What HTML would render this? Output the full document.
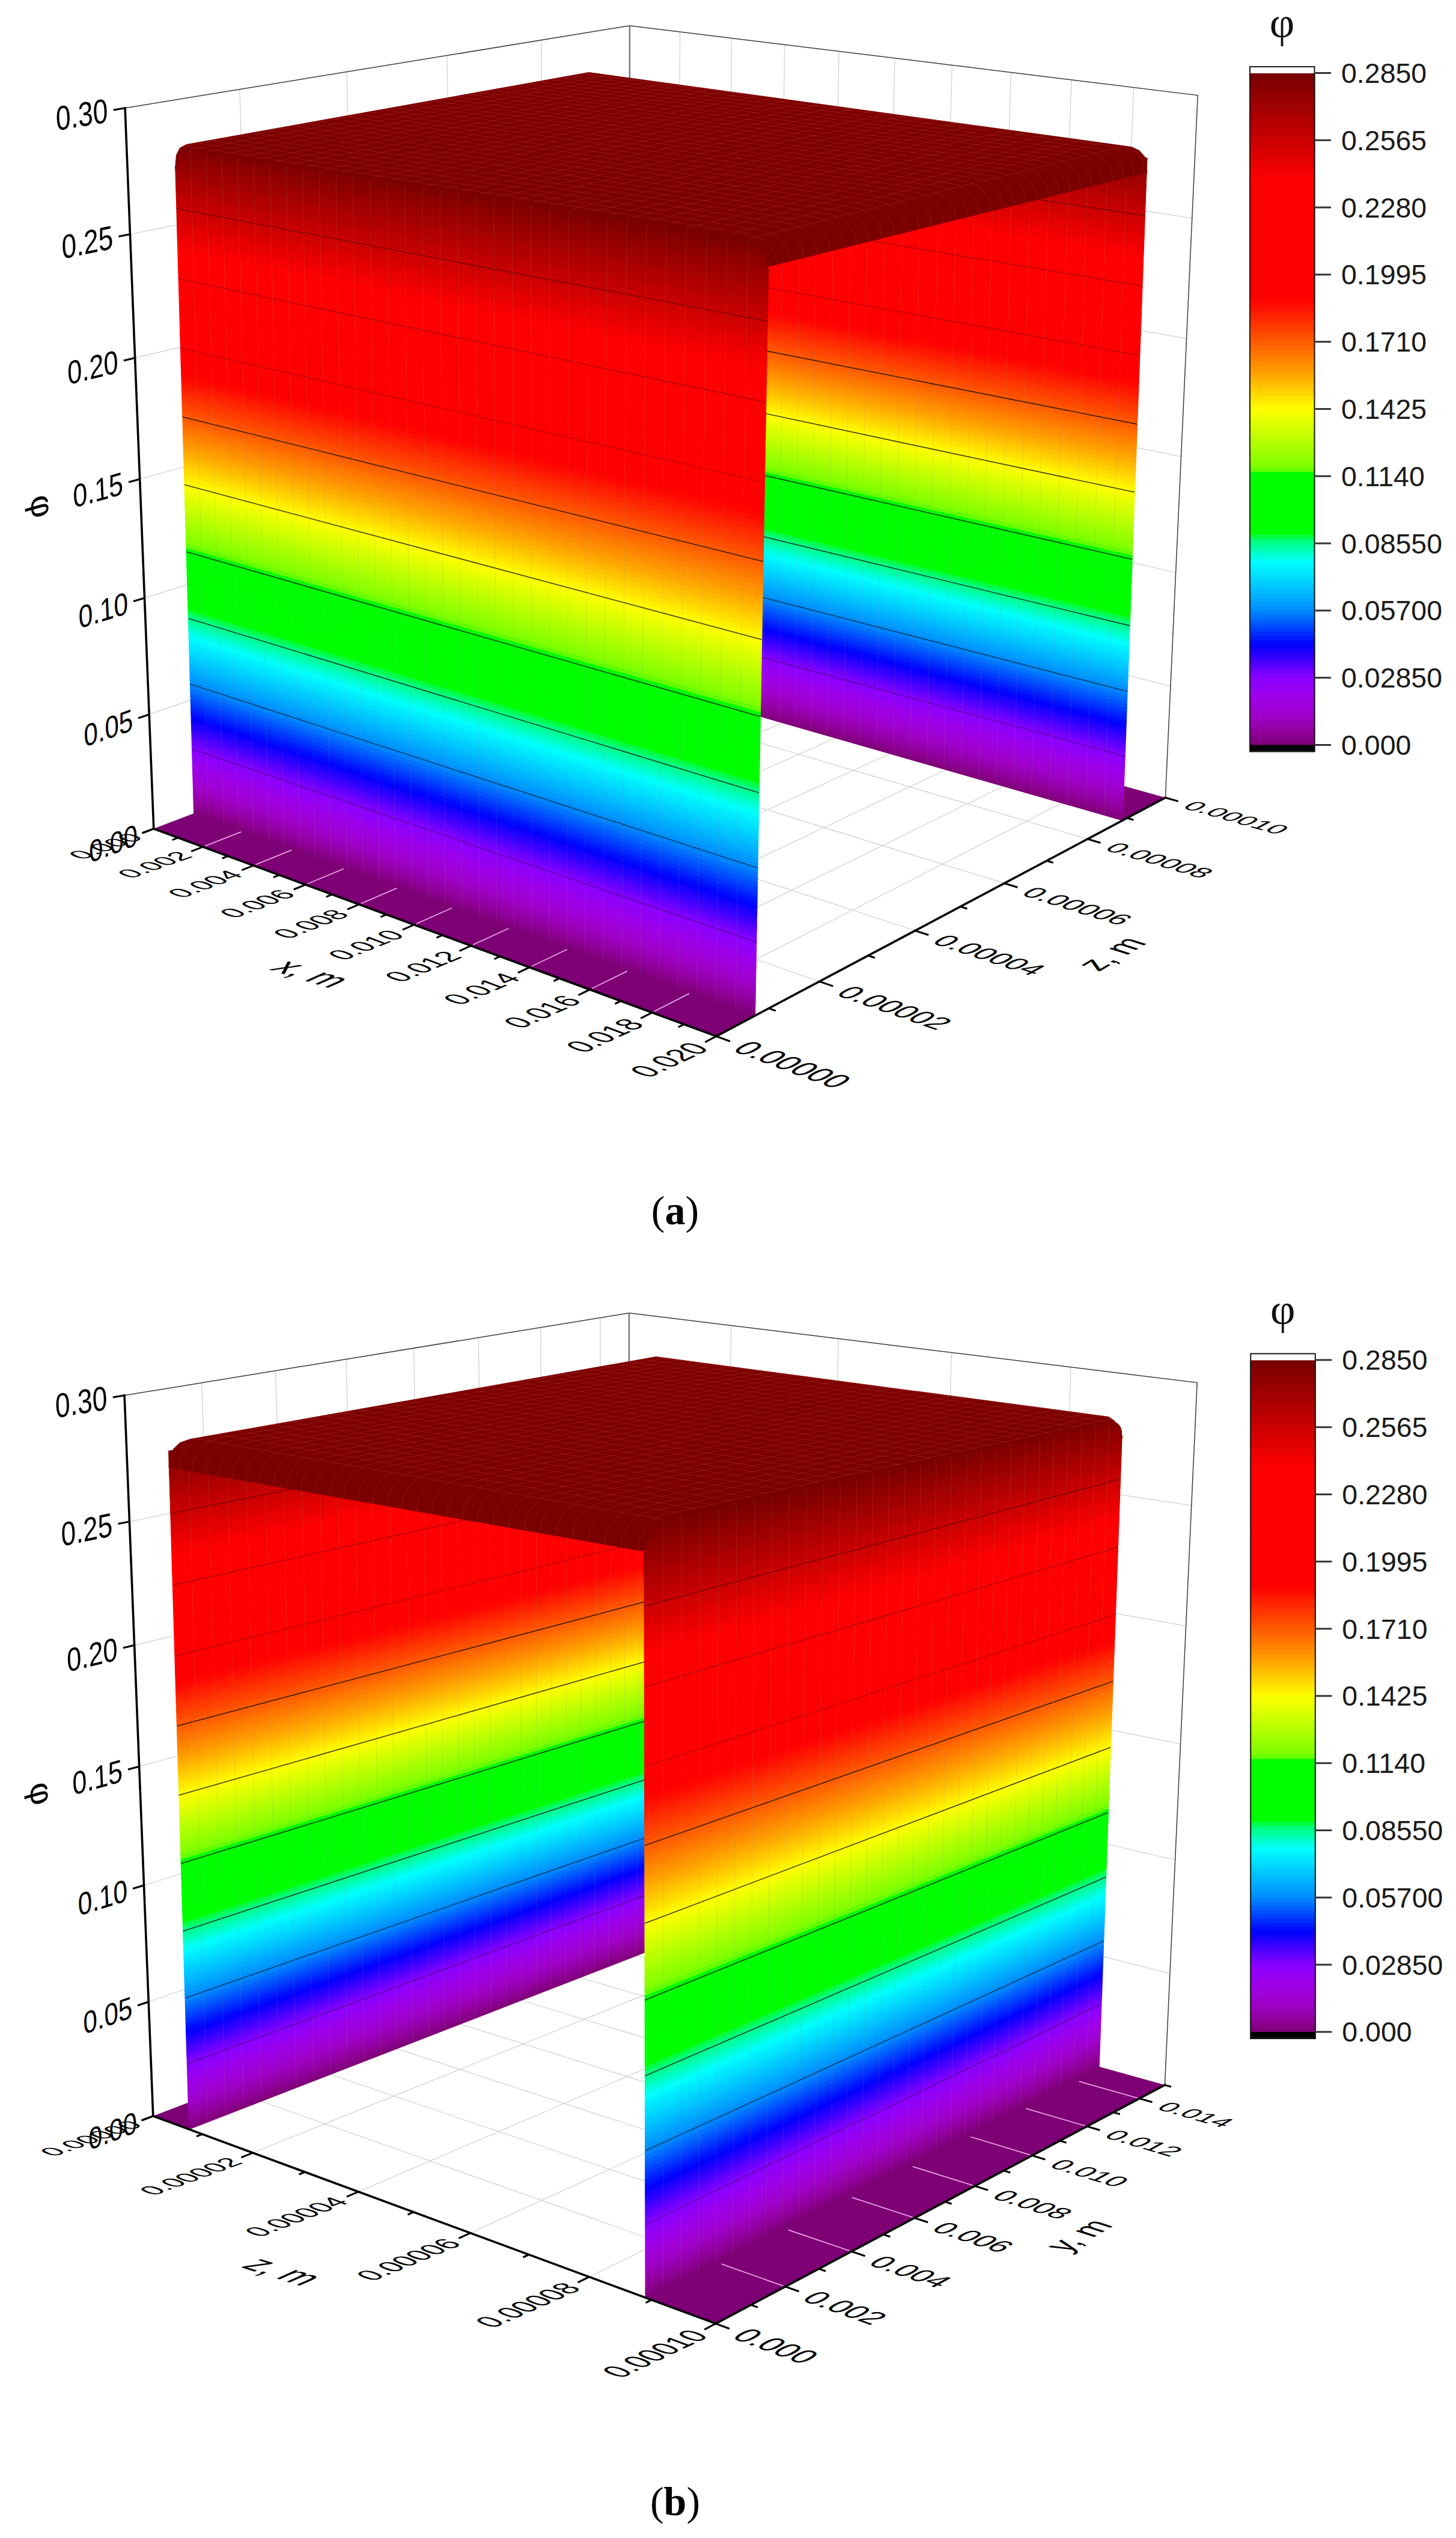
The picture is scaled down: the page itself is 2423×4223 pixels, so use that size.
<!DOCTYPE html>
<html><head><meta charset="utf-8"><title>Figure</title>
<style>html,body{margin:0;padding:0;background:#fff}svg{display:block}text{font-family:"Liberation Sans",Arial,sans-serif}text.sf{font-family:"Liberation Serif","DejaVu Serif",serif}</style>
</head><body>
<svg width="2423" height="4223" viewBox="0 0 2423 4223">
<rect width="2423" height="4223" fill="#fff"/>
<g id="plotA">
<line x1="248.2" y1="1188.7" x2="1047.3" y2="912.8" stroke="#d2d2d2" stroke-width="1.3"/>
<line x1="1047.3" y1="912.8" x2="1947.9" y2="1141.7" stroke="#d2d2d2" stroke-width="1.3"/>
<line x1="240.5" y1="994.9" x2="1047.4" y2="744.6" stroke="#d2d2d2" stroke-width="1.3"/>
<line x1="1047.4" y1="744.6" x2="1956.7" y2="952.6" stroke="#d2d2d2" stroke-width="1.3"/>
<line x1="232.7" y1="797.2" x2="1047.5" y2="573.6" stroke="#d2d2d2" stroke-width="1.3"/>
<line x1="1047.5" y1="573.6" x2="1965.5" y2="759.8" stroke="#d2d2d2" stroke-width="1.3"/>
<line x1="224.6" y1="595.5" x2="1047.7" y2="399.6" stroke="#d2d2d2" stroke-width="1.3"/>
<line x1="1047.7" y1="399.6" x2="1974.6" y2="563.3" stroke="#d2d2d2" stroke-width="1.3"/>
<line x1="216.5" y1="389.8" x2="1047.8" y2="222.7" stroke="#d2d2d2" stroke-width="1.3"/>
<line x1="1047.8" y1="222.7" x2="1983.8" y2="362.9" stroke="#d2d2d2" stroke-width="1.3"/>
<line x1="434.4" y1="1311" x2="398.9" y2="148.7" stroke="#d2d2d2" stroke-width="1.3"/>
<line x1="434.4" y1="1311" x2="1363.7" y2="1633.1" stroke="#d2d2d2" stroke-width="1.3"/>
<line x1="601.9" y1="1247.4" x2="577.1" y2="119.6" stroke="#d2d2d2" stroke-width="1.3"/>
<line x1="601.9" y1="1247.4" x2="1523" y2="1548.5" stroke="#d2d2d2" stroke-width="1.3"/>
<line x1="759.3" y1="1187.6" x2="744" y2="92.3" stroke="#d2d2d2" stroke-width="1.3"/>
<line x1="759.3" y1="1187.6" x2="1671.4" y2="1469.7" stroke="#d2d2d2" stroke-width="1.3"/>
<line x1="907.5" y1="1131.3" x2="900.6" y2="66.7" stroke="#d2d2d2" stroke-width="1.3"/>
<line x1="907.5" y1="1131.3" x2="1809.9" y2="1396.1" stroke="#d2d2d2" stroke-width="1.3"/>
<line x1="1126.8" y1="1100.4" x2="1131.6" y2="52.9" stroke="#d2d2d2" stroke-width="1.3"/>
<line x1="337.6" y1="1409.1" x2="1126.8" y2="1100.4" stroke="#d2d2d2" stroke-width="1.3"/>
<line x1="1208.3" y1="1123.2" x2="1217.5" y2="63.5" stroke="#d2d2d2" stroke-width="1.3"/>
<line x1="421.7" y1="1440.1" x2="1208.3" y2="1123.2" stroke="#d2d2d2" stroke-width="1.3"/>
<line x1="1291.8" y1="1146.5" x2="1305.7" y2="74.3" stroke="#d2d2d2" stroke-width="1.3"/>
<line x1="508.3" y1="1472" x2="1291.8" y2="1146.5" stroke="#d2d2d2" stroke-width="1.3"/>
<line x1="1377.4" y1="1170.4" x2="1396.1" y2="85.4" stroke="#d2d2d2" stroke-width="1.3"/>
<line x1="597.4" y1="1504.9" x2="1377.4" y2="1170.4" stroke="#d2d2d2" stroke-width="1.3"/>
<line x1="1465.1" y1="1194.9" x2="1489" y2="96.8" stroke="#d2d2d2" stroke-width="1.3"/>
<line x1="689.1" y1="1538.7" x2="1465.1" y2="1194.9" stroke="#d2d2d2" stroke-width="1.3"/>
<line x1="1555.1" y1="1220" x2="1584.4" y2="108.5" stroke="#d2d2d2" stroke-width="1.3"/>
<line x1="783.6" y1="1573.6" x2="1555.1" y2="1220" stroke="#d2d2d2" stroke-width="1.3"/>
<line x1="1647.5" y1="1245.8" x2="1682.4" y2="120.5" stroke="#d2d2d2" stroke-width="1.3"/>
<line x1="881" y1="1609.5" x2="1647.5" y2="1245.8" stroke="#d2d2d2" stroke-width="1.3"/>
<line x1="1742.2" y1="1272.3" x2="1783.1" y2="132.8" stroke="#d2d2d2" stroke-width="1.3"/>
<line x1="981.5" y1="1646.5" x2="1742.2" y2="1272.3" stroke="#d2d2d2" stroke-width="1.3"/>
<line x1="1839.5" y1="1299.4" x2="1886.7" y2="145.5" stroke="#d2d2d2" stroke-width="1.3"/>
<line x1="1085.1" y1="1684.8" x2="1839.5" y2="1299.4" stroke="#d2d2d2" stroke-width="1.3"/>
<line x1="255.8" y1="1378.9" x2="1047.2" y2="1078.2" stroke="#d2d2d2" stroke-width="1.3"/>
<line x1="1047.2" y1="1078.2" x2="1939.4" y2="1327.3" stroke="#d2d2d2" stroke-width="1.3"/>
<polyline points="208.1,179.8 1047.9,42.7 1993.2,158.6 1939.4,1327.3" fill="none" stroke="#3c3c3c" stroke-width="1.5"/>
<line x1="1047.9" y1="42.7" x2="1047.2" y2="1078.2" stroke="#777" stroke-width="2.4"/>
<polygon points="255.8,1378.9 1192.1,1724.2 1256.6,1690 322.7,1353.5" fill="#7d0074"/>
<polygon points="970.3,1107.4 1868.2,1365.1 1939.4,1327.3 1047.2,1078.2" fill="#7d0074"/>
<line x1="341.3" y1="1407.6" x2="401.4" y2="1384.1" stroke="#e6a0e0" stroke-width="1.8"/>
<line x1="425.4" y1="1438.6" x2="485.4" y2="1414.4" stroke="#e6a0e0" stroke-width="1.8"/>
<line x1="511.9" y1="1470.5" x2="571.8" y2="1445.6" stroke="#e6a0e0" stroke-width="1.8"/>
<line x1="601" y1="1503.3" x2="660.8" y2="1477.7" stroke="#e6a0e0" stroke-width="1.8"/>
<line x1="692.8" y1="1537.1" x2="752.3" y2="1510.7" stroke="#e6a0e0" stroke-width="1.8"/>
<line x1="787.3" y1="1571.9" x2="846.6" y2="1544.7" stroke="#e6a0e0" stroke-width="1.8"/>
<line x1="884.7" y1="1607.8" x2="943.7" y2="1579.8" stroke="#e6a0e0" stroke-width="1.8"/>
<line x1="985.1" y1="1644.8" x2="1043.8" y2="1615.9" stroke="#e6a0e0" stroke-width="1.8"/>
<line x1="1088.7" y1="1682.9" x2="1147.1" y2="1653.1" stroke="#e6a0e0" stroke-width="1.8"/>
<g stroke-width="1.2" stroke-linejoin="round"><polygon points="970.3,1107.4 1868.2,1365.1 1868.5,1358.5 970.2,1101.5" fill="#81007b" stroke="#81007b"/><polygon points="970.2,1101.5 1868.5,1358.5 1868.7,1351.8 970.2,1095.6" fill="#880089" stroke="#880089"/><polygon points="970.2,1095.6 1868.7,1351.8 1869,1345.2 970.1,1089.7" fill="#8f0097" stroke="#8f0097"/><polygon points="970.1,1089.7 1869,1345.2 1869.2,1338.5 970.1,1083.8" fill="#9400a3" stroke="#9400a3"/><polygon points="970.1,1083.8 1869.2,1338.5 1869.5,1331.9 970,1077.8" fill="#9700ae" stroke="#9700ae"/><polygon points="970,1077.8 1869.5,1331.9 1869.7,1325.2 969.9,1071.9" fill="#9b00ba" stroke="#9b00ba"/><polygon points="969.9,1071.9 1869.7,1325.2 1869.9,1318.6 969.9,1066" fill="#9f00c5" stroke="#9f00c5"/><polygon points="969.9,1066 1869.9,1318.6 1870.2,1311.9 969.8,1060" fill="#a000cd" stroke="#a000cd"/><polygon points="969.8,1060 1870.2,1311.9 1870.4,1305.2 969.8,1054.1" fill="#9f00d5" stroke="#9f00d5"/><polygon points="969.8,1054.1 1870.4,1305.2 1870.7,1298.5 969.7,1048.1" fill="#9f00dc" stroke="#9f00dc"/><polygon points="969.7,1048.1 1870.7,1298.5 1870.9,1291.8 969.6,1042.2" fill="#9e00e3" stroke="#9e00e3"/><polygon points="969.6,1042.2 1870.9,1291.8 1871.2,1285.2 969.6,1036.2" fill="#9d00e9" stroke="#9d00e9"/><polygon points="969.6,1036.2 1871.2,1285.2 1871.4,1278.5 969.5,1030.3" fill="#9900ee" stroke="#9900ee"/><polygon points="969.5,1030.3 1871.4,1278.5 1871.7,1271.8 969.5,1024.3" fill="#9400f3" stroke="#9400f3"/><polygon points="969.5,1024.3 1871.7,1271.8 1871.9,1265.1 969.4,1018.3" fill="#9000f8" stroke="#9000f8"/><polygon points="969.4,1018.3 1871.9,1265.1 1872.2,1258.4 969.3,1012.4" fill="#8c00fd" stroke="#8c00fd"/><polygon points="969.3,1012.4 1872.2,1258.4 1872.4,1251.6 969.3,1006.4" fill="#8100ff" stroke="#8100ff"/><polygon points="969.3,1006.4 1872.4,1251.6 1872.7,1244.9 969.2,1000.4" fill="#6f00ff" stroke="#6f00ff"/><polygon points="969.2,1000.4 1872.7,1244.9 1872.9,1238.2 969.2,994.4" fill="#5e00ff" stroke="#5e00ff"/><polygon points="969.2,994.4 1872.9,1238.2 1873.2,1231.5 969.1,988.4" fill="#4c00ff" stroke="#4c00ff"/><polygon points="969.1,988.4 1873.2,1231.5 1873.4,1224.7 969,982.5" fill="#3a00ff" stroke="#3a00ff"/><polygon points="969,982.5 1873.4,1224.7 1873.7,1218 969,976.5" fill="#2900ff" stroke="#2900ff"/><polygon points="969,976.5 1873.7,1218 1873.9,1211.3 968.9,970.5" fill="#1700ff" stroke="#1700ff"/><polygon points="968.9,970.5 1873.9,1211.3 1874.2,1204.5 968.8,964.5" fill="#0500ff" stroke="#0500ff"/><polygon points="968.8,964.5 1874.2,1204.5 1874.4,1197.8 968.8,958.5" fill="#000cff" stroke="#000cff"/><polygon points="968.8,958.5 1874.4,1197.8 1874.6,1191 968.7,952.5" fill="#001dff" stroke="#001dff"/><polygon points="968.7,952.5 1874.6,1191 1874.9,1184.2 968.7,946.4" fill="#002eff" stroke="#002eff"/><polygon points="968.7,946.4 1874.9,1184.2 1875.1,1177.5 968.6,940.4" fill="#003fff" stroke="#003fff"/><polygon points="968.6,940.4 1875.1,1177.5 1875.4,1170.7 968.5,934.4" fill="#0050ff" stroke="#0050ff"/><polygon points="968.5,934.4 1875.4,1170.7 1875.6,1163.9 968.5,928.4" fill="#0061ff" stroke="#0061ff"/><polygon points="968.5,928.4 1875.6,1163.9 1875.9,1157.1 968.4,922.4" fill="#0072ff" stroke="#0072ff"/><polygon points="968.4,922.4 1875.9,1157.1 1876.1,1150.4 968.4,916.3" fill="#0083ff" stroke="#0083ff"/><polygon points="968.4,916.3 1876.1,1150.4 1876.4,1143.6 968.3,910.3" fill="#0091ff" stroke="#0091ff"/><polygon points="968.3,910.3 1876.4,1143.6 1876.6,1136.8 968.2,904.3" fill="#009bff" stroke="#009bff"/><polygon points="968.2,904.3 1876.6,1136.8 1876.9,1130 968.2,898.2" fill="#00a5ff" stroke="#00a5ff"/><polygon points="968.2,898.2 1876.9,1130 1877.2,1123.2 968.1,892.2" fill="#00afff" stroke="#00afff"/><polygon points="968.1,892.2 1877.2,1123.2 1877.4,1116.4 968,886.1" fill="#00b9ff" stroke="#00b9ff"/><polygon points="968,886.1 1877.4,1116.4 1877.7,1109.6 968,880.1" fill="#00c3ff" stroke="#00c3ff"/><polygon points="968,880.1 1877.7,1109.6 1877.9,1102.7 967.9,874" fill="#00cdff" stroke="#00cdff"/><polygon points="967.9,874 1877.9,1102.7 1878.2,1095.9 967.9,868" fill="#00d7ff" stroke="#00d7ff"/><polygon points="967.9,868 1878.2,1095.9 1878.4,1089.1 967.8,861.9" fill="#00e1ff" stroke="#00e1ff"/><polygon points="967.8,861.9 1878.4,1089.1 1878.7,1082.2 967.7,855.8" fill="#00eaff" stroke="#00eaff"/><polygon points="967.7,855.8 1878.7,1082.2 1878.9,1075.4 967.7,849.8" fill="#00f4ff" stroke="#00f4ff"/><polygon points="967.7,849.8 1878.9,1075.4 1879.2,1068.6 967.6,843.7" fill="#00feff" stroke="#00feff"/><polygon points="967.6,843.7 1879.2,1068.6 1879.4,1061.7 967.5,837.6" fill="#00ffe7" stroke="#00ffe7"/><polygon points="967.5,837.6 1879.4,1061.7 1879.7,1054.9 967.5,831.5" fill="#00ffcd" stroke="#00ffcd"/><polygon points="967.5,831.5 1879.7,1054.9 1879.9,1048 967.4,825.4" fill="#00ffb2" stroke="#00ffb2"/><polygon points="967.4,825.4 1879.9,1048 1880.2,1041.1 967.4,819.3" fill="#00ff98" stroke="#00ff98"/><polygon points="967.4,819.3 1880.2,1041.1 1880.4,1034.3 967.3,813.2" fill="#00ff7e" stroke="#00ff7e"/><polygon points="967.3,813.2 1880.4,1034.3 1880.7,1027.4 967.2,807.1" fill="#00ff49" stroke="#00ff49"/><polygon points="967.2,807.1 1880.7,1027.4 1880.9,1020.5 967.2,801" fill="#00ff00" stroke="#00ff00"/><polygon points="967.2,801 1880.9,1020.5 1881.2,1013.7 967.1,794.9" fill="#00ff00" stroke="#00ff00"/><polygon points="967.1,794.9 1881.2,1013.7 1881.4,1006.8 967.1,788.8" fill="#00ff00" stroke="#00ff00"/><polygon points="967.1,788.8 1881.4,1006.8 1881.7,999.9 967,782.7" fill="#00ff00" stroke="#00ff00"/><polygon points="967,782.7 1881.7,999.9 1882,993 966.9,776.6" fill="#00ff00" stroke="#00ff00"/><polygon points="966.9,776.6 1882,993 1882.2,986.1 966.9,770.5" fill="#00ff00" stroke="#00ff00"/><polygon points="966.9,770.5 1882.2,986.1 1882.5,979.2 966.8,764.4" fill="#00ff00" stroke="#00ff00"/><polygon points="966.8,764.4 1882.5,979.2 1882.7,972.3 966.7,758.2" fill="#00ff00" stroke="#00ff00"/><polygon points="966.7,758.2 1882.7,972.3 1883,965.3 966.7,752.1" fill="#00ff00" stroke="#00ff00"/><polygon points="966.7,752.1 1883,965.3 1883.2,958.4 966.6,746" fill="#00ff00" stroke="#00ff00"/><polygon points="966.6,746 1883.2,958.4 1883.5,951.5 966.5,739.8" fill="#00ff00" stroke="#00ff00"/><polygon points="966.5,739.8 1883.5,951.5 1883.7,944.6 966.5,733.7" fill="#00ff00" stroke="#00ff00"/><polygon points="966.5,733.7 1883.7,944.6 1884,937.6 966.4,727.5" fill="#00ff00" stroke="#00ff00"/><polygon points="966.4,727.5 1884,937.6 1884.3,930.7 966.4,721.4" fill="#00ff00" stroke="#00ff00"/><polygon points="966.4,721.4 1884.3,930.7 1884.5,923.7 966.3,715.2" fill="#00ff00" stroke="#00ff00"/><polygon points="966.3,715.2 1884.5,923.7 1884.8,916.8 966.2,709.1" fill="#64ff00" stroke="#64ff00"/><polygon points="966.2,709.1 1884.8,916.8 1885,909.8 966.2,702.9" fill="#80ff00" stroke="#80ff00"/><polygon points="966.2,702.9 1885,909.8 1885.3,902.9 966.1,696.7" fill="#89ff00" stroke="#89ff00"/><polygon points="966.1,696.7 1885.3,902.9 1885.5,895.9 966,690.6" fill="#93ff00" stroke="#93ff00"/><polygon points="966,690.6 1885.5,895.9 1885.8,888.9 966,684.4" fill="#9cff00" stroke="#9cff00"/><polygon points="966,684.4 1885.8,888.9 1886.1,882 965.9,678.2" fill="#a5ff00" stroke="#a5ff00"/><polygon points="965.9,678.2 1886.1,882 1886.3,875 965.9,672" fill="#afff00" stroke="#afff00"/><polygon points="965.9,672 1886.3,875 1886.6,868 965.8,665.8" fill="#b8ff00" stroke="#b8ff00"/><polygon points="965.8,665.8 1886.6,868 1886.8,861 965.7,659.6" fill="#c2ff00" stroke="#c2ff00"/><polygon points="965.7,659.6 1886.8,861 1887.1,854 965.7,653.5" fill="#cbff00" stroke="#cbff00"/><polygon points="965.7,653.5 1887.1,854 1887.3,847 965.6,647.3" fill="#d5ff00" stroke="#d5ff00"/><polygon points="965.6,647.3 1887.3,847 1887.6,840 965.5,641.1" fill="#deff00" stroke="#deff00"/><polygon points="965.5,641.1 1887.6,840 1887.9,833 965.5,634.8" fill="#e7ff00" stroke="#e7ff00"/><polygon points="965.5,634.8 1887.9,833 1888.1,826 965.4,628.6" fill="#f1ff00" stroke="#f1ff00"/><polygon points="965.4,628.6 1888.1,826 1888.4,819 965.3,622.4" fill="#faff00" stroke="#faff00"/><polygon points="965.3,622.4 1888.4,819 1888.6,811.9 965.3,616.2" fill="#fff900" stroke="#fff900"/><polygon points="965.3,616.2 1888.6,811.9 1888.9,804.9 965.2,610" fill="#ffee00" stroke="#ffee00"/><polygon points="965.2,610 1888.9,804.9 1889.2,797.9 965.2,603.8" fill="#ffe300" stroke="#ffe300"/><polygon points="965.2,603.8 1889.2,797.9 1889.4,790.8 965.1,597.5" fill="#ffd800" stroke="#ffd800"/><polygon points="965.1,597.5 1889.4,790.8 1889.7,783.8 965,591.3" fill="#ffcd00" stroke="#ffcd00"/><polygon points="965,591.3 1889.7,783.8 1889.9,776.7 965,585.1" fill="#ffc200" stroke="#ffc200"/><polygon points="965,585.1 1889.9,776.7 1890.2,769.7 964.9,578.8" fill="#ffb700" stroke="#ffb700"/><polygon points="964.9,578.8 1890.2,769.7 1890.5,762.6 964.8,572.6" fill="#ffac00" stroke="#ffac00"/><polygon points="964.8,572.6 1890.5,762.6 1890.7,755.5 964.8,566.3" fill="#ffa200" stroke="#ffa200"/><polygon points="964.8,566.3 1890.7,755.5 1891,748.5 964.7,560.1" fill="#ff9800" stroke="#ff9800"/><polygon points="964.7,560.1 1891,748.5 1891.2,741.4 964.6,553.8" fill="#ff8e00" stroke="#ff8e00"/><polygon points="964.6,553.8 1891.2,741.4 1891.5,734.3 964.6,547.6" fill="#ff8500" stroke="#ff8500"/><polygon points="964.6,547.6 1891.5,734.3 1891.8,727.2 964.5,541.3" fill="#ff7b00" stroke="#ff7b00"/><polygon points="964.5,541.3 1891.8,727.2 1892,720.1 964.5,535" fill="#ff7200" stroke="#ff7200"/><polygon points="964.5,535 1892,720.1 1892.3,713 964.4,528.7" fill="#ff6800" stroke="#ff6800"/><polygon points="964.4,528.7 1892.3,713 1892.5,705.9 964.3,522.5" fill="#ff5f00" stroke="#ff5f00"/><polygon points="964.3,522.5 1892.5,705.9 1892.8,698.8 964.3,516.2" fill="#ff5600" stroke="#ff5600"/><polygon points="964.3,516.2 1892.8,698.8 1893.1,691.7 964.2,509.9" fill="#ff4d00" stroke="#ff4d00"/><polygon points="964.2,509.9 1893.1,691.7 1893.3,684.6 964.1,503.6" fill="#ff4400" stroke="#ff4400"/><polygon points="964.1,503.6 1893.3,684.6 1893.6,677.5 964.1,497.3" fill="#ff3b00" stroke="#ff3b00"/><polygon points="964.1,497.3 1893.6,677.5 1893.9,670.3 964,491" fill="#ff3200" stroke="#ff3200"/><polygon points="964,491 1893.9,670.3 1894.1,663.2 963.9,484.7" fill="#ff2900" stroke="#ff2900"/><polygon points="963.9,484.7 1894.1,663.2 1894.4,656.1 963.9,478.4" fill="#ff2000" stroke="#ff2000"/><polygon points="963.9,478.4 1894.4,656.1 1894.7,648.9 963.8,472.1" fill="#ff1700" stroke="#ff1700"/><polygon points="963.8,472.1 1894.7,648.9 1894.9,641.8 963.7,465.8" fill="#ff0e00" stroke="#ff0e00"/><polygon points="963.7,465.8 1894.9,641.8 1895.2,634.6 963.7,459.5" fill="#ff0500" stroke="#ff0500"/><polygon points="963.7,459.5 1895.2,634.6 1895.4,627.5 963.6,453.2" fill="#ff0000" stroke="#ff0000"/><polygon points="963.6,453.2 1895.4,627.5 1895.7,620.3 963.6,446.8" fill="#ff0000" stroke="#ff0000"/><polygon points="963.6,446.8 1895.7,620.3 1896,613.1 963.5,440.5" fill="#ff0000" stroke="#ff0000"/><polygon points="963.5,440.5 1896,613.1 1896.2,606 963.4,434.2" fill="#ff0000" stroke="#ff0000"/><polygon points="963.4,434.2 1896.2,606 1896.5,598.8 963.4,427.8" fill="#ff0000" stroke="#ff0000"/><polygon points="963.4,427.8 1896.5,598.8 1896.8,591.6 963.3,421.5" fill="#ff0000" stroke="#ff0000"/><polygon points="963.3,421.5 1896.8,591.6 1897,584.4 963.2,415.2" fill="#ff0000" stroke="#ff0000"/><polygon points="963.2,415.2 1897,584.4 1897.3,577.2 963.2,408.8" fill="#ff0000" stroke="#ff0000"/><polygon points="963.2,408.8 1897.3,577.2 1897.6,570 963.1,402.5" fill="#ff0000" stroke="#ff0000"/><polygon points="963.1,402.5 1897.6,570 1897.8,562.8 963,396.1" fill="#ff0000" stroke="#ff0000"/><polygon points="963,396.1 1897.8,562.8 1898.1,555.6 963,389.7" fill="#ff0000" stroke="#ff0000"/><polygon points="963,389.7 1898.1,555.6 1898.4,548.4 962.9,383.4" fill="#ff0000" stroke="#ff0000"/><polygon points="962.9,383.4 1898.4,548.4 1898.6,541.1 962.8,377" fill="#ff0000" stroke="#ff0000"/><polygon points="962.8,377 1898.6,541.1 1898.9,533.9 962.8,370.6" fill="#ff0000" stroke="#ff0000"/><polygon points="962.8,370.6 1898.9,533.9 1899.2,526.7 962.7,364.3" fill="#ff0000" stroke="#ff0000"/><polygon points="962.7,364.3 1899.2,526.7 1899.4,519.4 962.6,357.9" fill="#ff0000" stroke="#ff0000"/><polygon points="962.6,357.9 1899.4,519.4 1899.7,512.2 962.6,351.5" fill="#ff0000" stroke="#ff0000"/><polygon points="962.6,351.5 1899.7,512.2 1900,505 962.5,345.1" fill="#ff0000" stroke="#ff0000"/><polygon points="962.5,345.1 1900,505 1900.2,497.7 962.4,338.7" fill="#ff0000" stroke="#ff0000"/><polygon points="962.4,338.7 1900.2,497.7 1900.5,490.4 962.4,332.3" fill="#ff0000" stroke="#ff0000"/><polygon points="962.4,332.3 1900.5,490.4 1900.8,483.2 962.3,325.9" fill="#ff0000" stroke="#ff0000"/><polygon points="962.3,325.9 1900.8,483.2 1901,475.9 962.3,319.5" fill="#ff0000" stroke="#ff0000"/><polygon points="962.3,319.5 1901,475.9 1901.3,468.6 962.2,313.1" fill="#ff0000" stroke="#ff0000"/><polygon points="962.2,313.1 1901.3,468.6 1901.6,461.4 962.1,306.7" fill="#ff0000" stroke="#ff0000"/><polygon points="962.1,306.7 1901.6,461.4 1901.8,454.1 962.1,300.3" fill="#ff0000" stroke="#ff0000"/><polygon points="962.1,300.3 1901.8,454.1 1902.1,446.8 962,293.8" fill="#ff0000" stroke="#ff0000"/><polygon points="962,293.8 1902.1,446.8 1902.4,439.5 961.9,287.4" fill="#ff0000" stroke="#ff0000"/><polygon points="961.9,287.4 1902.4,439.5 1902.6,432.2 961.9,281" fill="#ff0000" stroke="#ff0000"/><polygon points="961.9,281 1902.6,432.2 1902.9,424.9 961.8,274.5" fill="#ff0000" stroke="#ff0000"/><polygon points="961.8,274.5 1902.9,424.9 1903.2,417.6 961.7,268.1" fill="#f90000" stroke="#f90000"/><polygon points="961.7,268.1 1903.2,417.6 1903.5,410.2 961.7,261.7" fill="#f40000" stroke="#f40000"/><polygon points="961.7,261.7 1903.5,410.2 1903.7,402.9 961.6,255.2" fill="#ee0000" stroke="#ee0000"/><polygon points="961.6,255.2 1903.7,402.9 1904,395.6 961.5,248.8" fill="#e90000" stroke="#e90000"/><polygon points="961.5,248.8 1904,395.6 1904.3,388.3 961.5,242.3" fill="#e40000" stroke="#e40000"/><polygon points="961.5,242.3 1904.3,388.3 1904.5,380.9 961.4,235.9" fill="#de0000" stroke="#de0000"/><polygon points="961.4,235.9 1904.5,380.9 1904.8,373.6 961.3,229.4" fill="#d90000" stroke="#d90000"/><polygon points="961.3,229.4 1904.8,373.6 1905.1,366.2 961.3,222.9" fill="#d30000" stroke="#d30000"/><polygon points="961.3,222.9 1905.1,366.2 1905.4,358.9 961.2,216.5" fill="#ce0000" stroke="#ce0000"/><polygon points="961.2,216.5 1905.4,358.9 1905.6,351.5 961.1,210" fill="#c80000" stroke="#c80000"/><polygon points="961.1,210 1905.6,351.5 1905.9,344.1 961.1,203.5" fill="#c30000" stroke="#c30000"/><polygon points="961.1,203.5 1905.9,344.1 1906.2,336.8 961,197" fill="#be0000" stroke="#be0000"/><polygon points="961,197 1906.2,336.8 1906.4,329.4 960.9,190.5" fill="#b80000" stroke="#b80000"/><polygon points="960.9,190.5 1906.4,329.4 1906.7,322 960.9,184" fill="#b30000" stroke="#b30000"/><polygon points="960.9,184 1906.7,322 1907,314.6 960.8,177.5" fill="#ae0000" stroke="#ae0000"/><polygon points="960.8,177.5 1907,314.6 1907.3,307.2 960.7,171" fill="#a80000" stroke="#a80000"/><polygon points="960.7,171 1907.3,307.2 1907.5,299.8 960.7,164.5" fill="#a30000" stroke="#a30000"/><polygon points="960.7,164.5 1907.5,299.8 1907.6,298.4 960.7,163.2" fill="#a00000" stroke="#a00000"/><polygon points="960.7,163.2 1907.6,298.4 1907.6,296.9 960.6,161.9" fill="#9f0000" stroke="#9f0000"/><polygon points="960.6,161.9 963.1,162.3 965.6,162.6 968.1,163 970.6,163.4 973.9,163.8 977.2,164.3 981.4,164.9 985.5,165.5 993.9,166.7 1002.3,167.9 1010.6,169.1 1402.1,224.9 1843.1,287.7 1853.8,289.2 1864.5,290.7 1875.2,292.3 1880.6,293 1886,293.8 1891.4,294.6 1896.8,295.3 1901.1,296 1904.4,296.4 1907.6,296.9 1907.7,295.4 1904.4,295 1901.2,294.5 1896.9,293.9 1891.5,293.1 1886.1,292.3 1880.7,291.6 1875.3,290.8 1864.6,289.3 1853.9,287.8 1843.2,286.2 1402.1,223.5 1010.6,167.8 1002.2,166.6 993.9,165.4 985.5,164.2 981.4,163.6 977.2,163 973.9,162.5 970.6,162.1 968.1,161.7 965.6,161.4 963.1,161 960.6,160.6" fill="#9e0000" stroke="#9e0000"/><polygon points="960.6,160.6 963.1,161 965.6,161.4 968.1,161.7 970.6,162.1 973.9,162.5 977.2,163 981.4,163.6 985.5,164.2 993.9,165.4 1002.2,166.6 1010.6,167.8 1402.1,223.5 1843.2,286.2 1853.9,287.8 1864.6,289.3 1875.3,290.8 1880.7,291.6 1886.1,292.3 1891.5,293.1 1896.9,293.9 1901.2,294.5 1904.4,295 1907.7,295.4 1907.8,293.9 1904.5,293.5 1901.2,293 1896.9,292.4 1891.5,291.6 1886.1,290.9 1880.7,290.1 1875.4,289.3 1864.6,287.8 1853.9,286.3 1843.2,284.8 1402.1,222.1 1010.6,166.5 1002.2,165.3 993.9,164.1 985.5,162.9 981.4,162.3 977.2,161.7 973.9,161.2 970.6,160.8 968.1,160.4 965.6,160.1 963.1,159.7 960.6,159.4" fill="#9d0000" stroke="#9d0000"/><polygon points="960.6,159.4 963.1,159.7 965.6,160.1 968.1,160.4 970.6,160.8 973.9,161.2 977.2,161.7 981.4,162.3 985.5,162.9 993.9,164.1 1002.2,165.3 1010.6,166.5 1402.1,222.1 1843.2,284.8 1853.9,286.3 1864.6,287.8 1875.4,289.3 1880.7,290.1 1886.1,290.9 1891.5,291.6 1896.9,292.4 1901.2,293 1904.5,293.5 1907.8,293.9 1907.8,292.5 1904.6,292 1901.3,291.6 1897,290.9 1891.6,290.2 1886.2,289.4 1880.8,288.6 1875.4,287.9 1864.7,286.4 1854,284.8 1843.3,283.3 1402.2,220.7 1010.6,165.2 1002.2,164 993.9,162.8 985.5,161.6 981.3,161 977.2,160.4 973.9,159.9 970.5,159.5 968.1,159.1 965.6,158.8 963.1,158.4 960.6,158.1" fill="#9c0000" stroke="#9c0000"/><polygon points="960.6,158.1 963.1,158.4 965.6,158.8 968.1,159.1 970.5,159.5 973.9,159.9 977.2,160.4 981.3,161 985.5,161.6 993.9,162.8 1002.2,164 1010.6,165.2 1402.2,220.7 1843.3,283.3 1854,284.8 1864.7,286.4 1875.4,287.9 1880.8,288.6 1886.2,289.4 1891.6,290.2 1897,290.9 1901.3,291.6 1904.6,292 1907.8,292.5 1907.9,291 1904.6,290.5 1901.4,290.1 1897,289.5 1891.6,288.7 1886.2,287.9 1880.8,287.2 1875.5,286.4 1864.7,284.9 1854,283.4 1843.3,281.9 1402.2,219.3 1010.6,163.9 1002.2,162.7 993.8,161.5 985.5,160.3 981.3,159.7 977.2,159.1 973.9,158.6 970.5,158.2 968,157.8 965.6,157.5 963.1,157.1 960.6,156.8" fill="#9b0000" stroke="#9b0000"/><polygon points="960.6,156.8 963.1,157.1 965.6,157.5 968,157.8 970.5,158.2 973.9,158.6 977.2,159.1 981.3,159.7 985.5,160.3 993.8,161.5 1002.2,162.7 1010.6,163.9 1402.2,219.3 1843.3,281.9 1854,283.4 1864.7,284.9 1875.5,286.4 1880.8,287.2 1886.2,287.9 1891.6,288.7 1897,289.5 1901.4,290.1 1904.6,290.5 1907.9,291 1907.9,289.5 1904.7,289.1 1901.4,288.6 1897.1,288 1891.7,287.2 1886.3,286.5 1880.9,285.7 1875.5,284.9 1864.8,283.4 1854.1,281.9 1843.4,280.4 1402.2,218 1010.6,162.5 1002.2,161.4 993.8,160.2 985.5,159 981.3,158.4 977.2,157.8 973.8,157.3 970.5,156.9 968,156.5 965.5,156.2 963.1,155.8 960.6,155.5" fill="#9a0000" stroke="#9a0000"/><polygon points="960.6,155.5 963.1,155.8 965.5,156.2 968,156.5 970.5,156.9 973.8,157.3 977.2,157.8 981.3,158.4 985.5,159 993.8,160.2 1002.2,161.4 1010.6,162.5 1402.2,218 1843.4,280.4 1854.1,281.9 1864.8,283.4 1875.5,284.9 1880.9,285.7 1886.3,286.5 1891.7,287.2 1897.1,288 1901.4,288.6 1904.7,289.1 1907.9,289.5 1908,288.1 1904.7,287.6 1901.5,287.1 1897.1,286.5 1891.7,285.8 1886.3,285 1880.9,284.2 1875.6,283.5 1864.8,282 1854.1,280.4 1843.4,278.9 1402.2,216.6 1010.6,161.2 1002.2,160.1 993.8,158.9 985.5,157.7 981.3,157.1 977.2,156.5 973.8,156 970.5,155.6 968,155.2 965.5,154.9 963,154.5 960.6,154.2" fill="#990000" stroke="#990000"/><polygon points="960.6,154.2 963,154.5 965.5,154.9 968,155.2 970.5,155.6 973.8,156 977.2,156.5 981.3,157.1 985.5,157.7 993.8,158.9 1002.2,160.1 1010.6,161.2 1402.2,216.6 1843.4,278.9 1854.1,280.4 1864.8,282 1875.6,283.5 1880.9,284.2 1886.3,285 1891.7,285.8 1897.1,286.5 1901.5,287.1 1904.7,287.6 1908,288.1 1908,286.6 1904.8,286.1 1901.5,285.7 1897.2,285.1 1891.8,284.3 1886.4,283.5 1881,282.8 1875.6,282 1864.9,280.5 1854.2,279 1843.5,277.5 1402.2,215.2 1010.6,159.9 1002.2,158.8 993.8,157.6 985.5,156.4 981.3,155.8 977.1,155.2 973.8,154.8 970.5,154.3 968,153.9 965.5,153.6 963,153.2 960.6,152.9" fill="#980000" stroke="#980000"/><polygon points="960.6,152.9 963,153.2 965.5,153.6 968,153.9 970.5,154.3 973.8,154.8 977.1,155.2 981.3,155.8 985.5,156.4 993.8,157.6 1002.2,158.8 1010.6,159.9 1402.2,215.2 1843.5,277.5 1854.2,279 1864.9,280.5 1875.6,282 1881,282.8 1886.4,283.5 1891.8,284.3 1897.2,285.1 1901.5,285.7 1904.8,286.1 1908,286.6 1908.1,285.1 1904.8,284.7 1901.6,284.2 1897.2,283.6 1891.8,282.8 1886.4,282.1 1881,281.3 1875.7,280.5 1864.9,279 1854.2,277.5 1843.5,276 1402.2,213.8 1010.6,158.6 1002.2,157.5 993.8,156.3 985.5,155.1 981.3,154.5 977.1,153.9 973.8,153.5 970.5,153 968,152.6 965.5,152.3 963,151.9 960.5,151.6" fill="#960000" stroke="#960000"/><polygon points="960.5,151.6 963,151.9 965.5,152.3 968,152.6 970.5,153 973.8,153.5 977.1,153.9 981.3,154.5 985.5,155.1 993.8,156.3 1002.2,157.5 1010.6,158.6 1402.2,213.8 1843.5,276 1854.2,277.5 1864.9,279 1875.7,280.5 1881,281.3 1886.4,282.1 1891.8,282.8 1897.2,283.6 1901.6,284.2 1904.8,284.7 1908.1,285.1 1908.1,283.6 1904.9,283.2 1901.6,282.7 1897.3,282.1 1891.9,281.4 1886.5,280.6 1881.1,279.8 1875.7,279.1 1865,277.6 1854.3,276.1 1843.6,274.6 1402.3,212.5 1010.6,157.3 1002.2,156.2 993.8,155 985.4,153.8 981.3,153.2 977.1,152.6 973.8,152.2 970.5,151.7 968,151.3 965.5,151 963,150.6 960.5,150.3" fill="#950000" stroke="#950000"/><polygon points="960.5,150.3 963,150.6 965.5,151 968,151.3 970.5,151.7 973.8,152.2 977.1,152.6 981.3,153.2 985.4,153.8 993.8,155 1002.2,156.2 1010.6,157.3 1402.3,212.5 1843.6,274.6 1854.3,276.1 1865,277.6 1875.7,279.1 1881.1,279.8 1886.5,280.6 1891.9,281.4 1897.3,282.1 1901.6,282.7 1904.9,283.2 1908.1,283.6 1908.2,282.2 1904.9,281.7 1901.7,281.3 1897.3,280.6 1891.9,279.9 1886.5,279.1 1881.2,278.4 1875.8,277.6 1865,276.1 1854.3,274.6 1843.6,273.1 1402.3,211.1 1010.5,156 1002.1,154.8 993.8,153.7 985.4,152.5 981.3,151.9 977.1,151.3 973.8,150.9 970.5,150.4 968,150 965.5,149.7 963,149.3 960.5,149" fill="#940000" stroke="#940000"/><polygon points="960.5,149 963,149.3 965.5,149.7 968,150 970.5,150.4 973.8,150.9 977.1,151.3 981.3,151.9 985.4,152.5 993.8,153.7 1002.1,154.8 1010.5,156 1402.3,211.1 1843.6,273.1 1854.3,274.6 1865,276.1 1875.8,277.6 1881.2,278.4 1886.5,279.1 1891.9,279.9 1897.3,280.6 1901.7,281.3 1904.9,281.7 1908.2,282.2 1908.2,280.7 1905,280.2 1901.7,279.8 1897.4,279.2 1892,278.4 1886.6,277.7 1881.2,276.9 1875.8,276.1 1865.1,274.6 1854.4,273.1 1843.7,271.6 1402.3,209.7 1010.5,154.7 1002.1,153.5 993.8,152.4 985.4,151.2 981.3,150.6 977.1,150 973.8,149.6 970.4,149.1 968,148.7 965.5,148.4 963,148 960.5,147.7" fill="#930000" stroke="#930000"/><polygon points="960.5,147.7 963,148 965.5,148.4 968,148.7 970.4,149.1 973.8,149.6 977.1,150 981.3,150.6 985.4,151.2 993.8,152.4 1002.1,153.5 1010.5,154.7 1402.3,209.7 1843.7,271.6 1854.4,273.1 1865.1,274.6 1875.8,276.1 1881.2,276.9 1886.6,277.7 1892,278.4 1897.4,279.2 1901.7,279.8 1905,280.2 1908.2,280.7 1908.3,279.2 1905,278.8 1901.8,278.3 1897.5,277.7 1892,276.9 1886.6,276.2 1881.3,275.4 1875.9,274.7 1865.1,273.2 1854.4,271.7 1843.7,270.2 1402.3,208.3 1010.5,153.4 1002.1,152.2 993.8,151.1 985.4,149.9 981.2,149.3 977.1,148.7 973.8,148.3 970.4,147.8 967.9,147.5 965.5,147.1 963,146.8 960.5,146.4" fill="#920000" stroke="#920000"/><polygon points="960.5,146.4 963,146.8 965.5,147.1 967.9,147.5 970.4,147.8 973.8,148.3 977.1,148.7 981.2,149.3 985.4,149.9 993.8,151.1 1002.1,152.2 1010.5,153.4 1402.3,208.3 1843.7,270.2 1854.4,271.7 1865.1,273.2 1875.9,274.7 1881.3,275.4 1886.6,276.2 1892,276.9 1897.5,277.7 1901.8,278.3 1905,278.8 1908.3,279.2 1908.3,277.7 1905.1,277.3 1901.8,276.8 1897.5,276.2 1892.1,275.5 1886.7,274.7 1881.3,274 1875.9,273.2 1865.2,271.7 1854.5,270.2 1843.8,268.7 1402.3,206.9 1010.5,152.1 1002.1,150.9 993.7,149.8 985.4,148.6 981.2,148 977.1,147.4 973.7,147 970.4,146.5 967.9,146.2 965.4,145.8 963,145.5 960.5,145.1" fill="#910000" stroke="#910000"/><polygon points="960.5,145.1 963,145.5 965.4,145.8 967.9,146.2 970.4,146.5 973.7,147 977.1,147.4 981.2,148 985.4,148.6 993.7,149.8 1002.1,150.9 1010.5,152.1 1402.3,206.9 1843.8,268.7 1854.5,270.2 1865.2,271.7 1875.9,273.2 1881.3,274 1886.7,274.7 1892.1,275.5 1897.5,276.2 1901.8,276.8 1905.1,277.3 1908.3,277.7 1908.4,276.3 1905.1,275.8 1901.9,275.4 1897.6,274.8 1892.2,274 1886.8,273.2 1881.4,272.5 1876,271.7 1865.2,270.2 1854.5,268.7 1843.8,267.2 1402.3,205.6 1010.5,150.8 1002.1,149.6 993.7,148.5 985.4,147.4 981.2,146.8 977.1,146.3 973.7,145.9 970.4,145.5 967.9,145.2 965.4,144.9 962.9,144.5 960.5,144.2" fill="#900000" stroke="#900000"/><polygon points="960.5,144.2 962.9,144.5 965.4,144.9 967.9,145.2 970.4,145.5 973.7,145.9 977.1,146.3 981.2,146.8 985.4,147.4 993.7,148.5 1002.1,149.6 1010.5,150.8 1402.3,205.6 1843.8,267.2 1854.5,268.7 1865.2,270.2 1876,271.7 1881.4,272.5 1886.8,273.2 1892.2,274 1897.6,274.8 1901.9,275.4 1905.1,275.8 1908.4,276.3 1908.5,274.8 1905.2,274.3 1901.9,273.9 1897.6,273.3 1892.2,272.5 1886.8,271.8 1881.4,271 1876,270.3 1865.3,268.8 1854.6,267.3 1843.9,265.8 1402.3,204.2 1010.5,150.5 1002.1,149.4 993.7,148.4 985.4,147.4 981.2,146.8 977.1,146.3 973.7,145.9 970.4,145.5 967.9,145.2 965.4,144.9 962.9,144.5 960.5,144.2" fill="#8f0000" stroke="#8f0000"/><polygon points="960.5,144.2 962.9,144.5 965.4,144.9 967.9,145.2 970.4,145.5 973.7,145.9 977.1,146.3 981.2,146.8 985.4,147.4 993.7,148.4 1002.1,149.4 1010.5,150.5 1402.3,204.2 1843.9,265.8 1854.6,267.3 1865.3,268.8 1876,270.3 1881.4,271 1886.8,271.8 1892.2,272.5 1897.6,273.3 1901.9,273.9 1905.2,274.3 1908.5,274.8 1908.5,273.3 1905.3,272.9 1902,272.4 1897.7,271.8 1892.3,271.1 1886.9,270.3 1881.5,269.6 1876.1,268.8 1865.3,267.3 1854.6,265.8 1843.9,264.3 1402.4,202.8 1010.5,150.5 1002.1,149.4 993.7,148.4 985.4,147.4 981.2,146.8 977.1,146.3 973.7,145.9 970.4,145.5 967.9,145.2 965.4,144.9 962.9,144.5 960.5,144.2" fill="#8e0000" stroke="#8e0000"/><polygon points="960.5,144.2 962.9,144.5 965.4,144.9 967.9,145.2 970.4,145.5 973.7,145.9 977.1,146.3 981.2,146.8 985.4,147.4 993.7,148.4 1002.1,149.4 1010.5,150.5 1402.4,202.8 1843.9,264.3 1854.6,265.8 1865.3,267.3 1876.1,268.8 1881.5,269.6 1886.9,270.3 1892.3,271.1 1897.7,271.8 1902,272.4 1905.3,272.9 1908.5,273.3 1908.6,271.8 1905.3,271.4 1902.1,270.9 1897.7,270.3 1892.3,269.6 1886.9,268.8 1881.5,268.1 1876.1,267.3 1865.4,265.8 1854.7,264.3 1844,262.9 1402.4,201.4 1010.5,150.5 1002.1,149.4 993.7,148.4 985.4,147.4 981.2,146.8 977.1,146.3 973.7,145.9 970.4,145.5 967.9,145.2 965.4,144.9 962.9,144.5 960.5,144.2" fill="#8d0000" stroke="#8d0000"/><polygon points="960.5,144.2 962.9,144.5 965.4,144.9 967.9,145.2 970.4,145.5 973.7,145.9 977.1,146.3 981.2,146.8 985.4,147.4 993.7,148.4 1002.1,149.4 1010.5,150.5 1402.4,201.4 1844,262.9 1854.7,264.3 1865.4,265.8 1876.1,267.3 1881.5,268.1 1886.9,268.8 1892.3,269.6 1897.7,270.3 1902.1,270.9 1905.3,271.4 1908.6,271.8 1908.6,270.4 1905.4,269.9 1902.1,269.5 1897.8,268.9 1892.4,268.1 1887,267.4 1881.6,266.6 1876.2,265.9 1865.4,264.4 1854.7,262.9 1844,261.4 1402.4,200 1010.5,150.5 1002.1,149.4 993.7,148.4 985.4,147.4 981.2,146.8 977.1,146.3 973.7,145.9 970.4,145.5 967.9,145.2 965.4,144.9 962.9,144.5 960.5,144.2" fill="#8c0000" stroke="#8c0000"/><polygon points="960.5,144.2 962.9,144.5 965.4,144.9 967.9,145.2 970.4,145.5 973.7,145.9 977.1,146.3 981.2,146.8 985.4,147.4 993.7,148.4 1002.1,149.4 1010.5,150.5 1402.4,200 1844,261.4 1854.7,262.9 1865.4,264.4 1876.2,265.9 1881.6,266.6 1887,267.4 1892.4,268.1 1897.8,268.9 1902.1,269.5 1905.4,269.9 1908.6,270.4 1908.7,268.9 1905.4,268.4 1902.2,268 1897.8,267.4 1892.4,266.6 1887,265.9 1881.6,265.1 1876.2,264.4 1865.5,262.9 1854.8,261.4 1844.1,259.9 1402.4,199.6 1010.5,150.5 1002.1,149.4 993.7,148.4 985.4,147.4 981.2,146.8 977.1,146.3 973.7,145.9 970.4,145.5 967.9,145.2 965.4,144.9 962.9,144.5 960.5,144.2" fill="#8b0000" stroke="#8b0000"/><polygon points="960.5,144.2 962.9,144.5 965.4,144.9 967.9,145.2 970.4,145.5 973.7,145.9 977.1,146.3 981.2,146.8 985.4,147.4 993.7,148.4 1002.1,149.4 1010.5,150.5 1402.4,199.6 1844.1,259.9 1854.8,261.4 1865.5,262.9 1876.2,264.4 1881.6,265.1 1887,265.9 1892.4,266.6 1897.8,267.4 1902.2,268 1905.4,268.4 1908.7,268.9 1908.7,267.4 1905.5,267 1902.2,266.5 1897.9,265.9 1892.5,265.2 1887.1,264.4 1881.7,263.7 1876.3,262.9 1865.5,261.4 1854.8,260 1844.1,258.5 1402.4,199.6 1010.5,150.5 1002.1,149.4 993.7,148.4 985.4,147.4 981.2,146.8 977.1,146.3 973.7,145.9 970.4,145.5 967.9,145.2 965.4,144.9 962.9,144.5 960.5,144.2" fill="#8a0000" stroke="#8a0000"/><polygon points="960.5,144.2 962.9,144.5 965.4,144.9 967.9,145.2 970.4,145.5 973.7,145.9 977.1,146.3 981.2,146.8 985.4,147.4 993.7,148.4 1002.1,149.4 1010.5,150.5 1402.4,199.6 1844.1,258.5 1854.8,260 1865.5,261.4 1876.3,262.9 1881.7,263.7 1887.1,264.4 1892.5,265.2 1897.9,265.9 1902.2,266.5 1905.5,267 1908.7,267.4 1908.8,265.9 1905.5,265.5 1902.3,265 1897.9,264.4 1892.5,263.7 1887.1,262.9 1881.7,262.2 1876.3,261.5 1865.6,260 1854.9,258.5 1844.2,257 1402.4,199.6 1010.5,150.5 1002.1,149.4 993.7,148.4 985.4,147.4 981.2,146.8 977.1,146.3 973.7,145.9 970.4,145.5 967.9,145.2 965.4,144.9 962.9,144.5 960.5,144.2" fill="#890000" stroke="#890000"/><polygon points="960.5,144.2 962.9,144.5 965.4,144.9 967.9,145.2 970.4,145.5 973.7,145.9 977.1,146.3 981.2,146.8 985.4,147.4 993.7,148.4 1002.1,149.4 1010.5,150.5 1402.4,199.6 1844.2,257 1854.9,258.5 1865.6,260 1876.3,261.5 1881.7,262.2 1887.1,262.9 1892.5,263.7 1897.9,264.4 1902.3,265 1905.5,265.5 1908.8,265.9 1908.8,264.5 1905.6,264 1902.3,263.6 1898,263 1892.6,262.2 1887.2,261.5 1881.8,260.7 1876.4,260 1865.6,258.5 1854.9,257 1844.2,255.5 1402.4,199.6 1010.5,150.5 1002.1,149.4 993.7,148.4 985.4,147.4 981.2,146.8 977.1,146.3 973.7,145.9 970.4,145.5 967.9,145.2 965.4,144.9 962.9,144.5 960.5,144.2" fill="#880000" stroke="#880000"/><polygon points="960.5,144.2 962.9,144.5 965.4,144.9 967.9,145.2 970.4,145.5 973.7,145.9 977.1,146.3 981.2,146.8 985.4,147.4 993.7,148.4 1002.1,149.4 1010.5,150.5 1402.4,199.6 1844.2,255.5 1854.9,257 1865.6,258.5 1876.4,260 1881.8,260.7 1887.2,261.5 1892.6,262.2 1898,263 1902.3,263.6 1905.6,264 1908.8,264.5 1908.9,263 1905.6,262.6 1902.4,262.2 1898,261.6 1892.6,261 1887.2,260.3 1881.8,259.6 1876.4,258.9 1865.7,257.6 1854.9,256.2 1844.2,254.9 1402.4,199.6 1010.5,150.5 1002.1,149.4 993.7,148.4 985.4,147.4 981.2,146.8 977.1,146.3 973.7,145.9 970.4,145.5 967.9,145.2 965.4,144.9 962.9,144.5 960.5,144.2" fill="#870000" stroke="#870000"/></g>
<g fill="none" stroke="#8a8a8a" stroke-opacity="0.20" stroke-width="1"><polyline points="994.3,1114.3 991.6,809.8 988.8,495.5 986.3,225.7 985.9,181.5 985.8,168.3 985.8,161.7 985.7,156.2 985.7,151.8 985.6,148.5"/><polyline points="1018.5,1121.3 1016.1,815.7 1013.7,500.3 1011.6,229.5 1011.3,184.8 1011.2,171.6 1011.1,164.9 1011.1,159.4 1011,155 1011,151.7"/><polyline points="1042.9,1128.3 1040.9,821.7 1038.8,505.1 1037.1,233.4 1036.8,188.1 1036.7,174.8 1036.7,168.2 1036.6,162.6 1036.6,158.2 1036.6,154.9"/><polyline points="1067.4,1135.3 1065.8,827.7 1064.2,510 1062.8,237.3 1062.5,191.5 1062.5,178.1 1062.4,171.5 1062.4,165.9 1062.4,161.4 1062.4,158.1"/><polyline points="1092.2,1142.4 1090.9,833.7 1089.7,514.9 1088.6,241.2 1088.5,194.9 1088.4,181.5 1088.4,174.8 1088.4,169.2 1088.3,164.7 1088.3,161.4"/><polyline points="1117.1,1149.6 1116.3,839.8 1115.4,519.9 1114.7,245.2 1114.6,198.3 1114.6,184.8 1114.5,178.1 1114.5,172.5 1114.5,168 1114.5,164.6"/><polyline points="1142.2,1156.8 1141.8,845.9 1141.3,524.9 1141,249.2 1140.9,201.7 1140.9,188.2 1140.9,181.5 1140.9,175.8 1140.9,171.3 1140.9,168"/><polyline points="1167.5,1164 1167.5,852.1 1167.5,529.9 1167.5,253.2 1167.5,205.2 1167.5,191.6 1167.5,184.9 1167.5,179.2 1167.5,174.7 1167.5,171.3"/><polyline points="1192.9,1171.3 1193.4,858.4 1193.8,535 1194.2,257.2 1194.2,208.7 1194.3,195.1 1194.3,188.3 1194.3,182.6 1194.3,178.1 1194.3,174.6"/><polyline points="1218.6,1178.7 1219.5,864.6 1220.3,540.1 1221.1,261.3 1221.2,212.2 1221.3,198.5 1221.3,191.7 1221.3,186 1221.3,181.5 1221.3,178"/><polyline points="1244.5,1186.1 1245.8,871 1247.1,545.3 1248.2,265.4 1248.4,215.7 1248.5,202 1248.5,195.2 1248.5,189.5 1248.5,184.9 1248.5,181.5"/><polyline points="1270.6,1193.6 1272.3,877.3 1274,550.5 1275.6,269.6 1275.8,219.3 1275.9,205.6 1275.9,198.7 1276,192.9 1276,188.3 1276,184.9"/><polyline points="1296.8,1201.2 1299,883.8 1301.2,555.7 1303.1,273.8 1303.5,222.9 1303.6,209.1 1303.6,202.2 1303.6,196.4 1303.7,191.8 1303.7,188.4"/><polyline points="1323.3,1208.8 1325.9,890.3 1328.6,561 1330.9,278 1331.3,226.5 1331.4,212.7 1331.5,205.8 1331.5,200 1331.6,195.3 1331.6,191.9"/><polyline points="1350,1216.4 1353,896.8 1356.2,566.3 1358.9,282.2 1359.4,230.2 1359.5,216.3 1359.6,209.3 1359.7,203.5 1359.7,198.9 1359.7,195.4"/><polyline points="1376.9,1224.1 1380.4,903.4 1384,571.7 1387.2,286.5 1387.7,233.9 1387.9,219.9 1388,212.9 1388,207.1 1388.1,202.5 1388.1,199"/><polyline points="1404,1231.9 1408,910 1412.1,577.1 1415.6,290.8 1416.3,237.6 1416.5,223.6 1416.5,216.6 1416.6,210.7 1416.7,206.1 1416.7,202.5"/><polyline points="1431.3,1239.7 1435.8,916.7 1440.4,582.5 1444.3,295.2 1445.1,241.4 1445.3,227.3 1445.4,220.3 1445.5,214.4 1445.5,209.7 1445.6,206.2"/><polyline points="1458.8,1247.6 1463.8,923.4 1468.9,588 1473.3,299.6 1474.1,245.2 1474.3,231 1474.4,224 1474.5,218.1 1474.6,213.3 1474.6,209.8"/><polyline points="1486.6,1255.6 1492,930.2 1497.6,593.6 1502.5,304 1503.4,249 1503.6,234.8 1503.7,227.7 1503.8,221.8 1503.9,217 1504,213.5"/><polyline points="1514.5,1263.6 1520.5,937.1 1526.6,599.2 1531.9,308.5 1532.9,252.8 1533.2,238.6 1533.3,231.5 1533.4,225.5 1533.5,220.8 1533.5,217.2"/><polyline points="1542.7,1271.7 1549.1,944 1555.8,604.8 1561.6,313 1562.7,256.7 1562.9,242.4 1563.1,235.3 1563.2,229.3 1563.3,224.5 1563.4,220.9"/><polyline points="1571.1,1279.9 1578.1,950.9 1585.3,610.5 1591.5,317.5 1592.7,260.6 1593,246.3 1593.1,239.1 1593.3,233.1 1593.4,228.3 1593.4,224.7"/><polyline points="1599.8,1288.1 1607.2,958 1615,616.2 1621.7,322.1 1623,264.6 1623.3,250.2 1623.5,243 1623.6,236.9 1623.7,232.1 1623.8,228.5"/><polyline points="1628.6,1296.4 1636.6,965 1644.9,622 1652.1,326.7 1653.5,268.6 1653.8,254.1 1654,246.8 1654.2,240.8 1654.3,236 1654.4,232.3"/><polyline points="1657.7,1304.7 1666.3,972.2 1675.1,627.8 1682.8,331.3 1684.3,272.6 1684.7,258.1 1684.8,250.8 1685,244.7 1685.1,239.8 1685.2,236.2"/><polyline points="1687.1,1313.1 1696.2,979.4 1705.6,633.7 1713.7,336 1715.3,276.6 1715.7,262 1715.9,254.7 1716.1,248.6 1716.2,243.8 1716.3,240.1"/><polyline points="1716.6,1321.6 1726.3,986.6 1736.3,639.6 1744.9,340.8 1746.7,280.7 1747.1,266.1 1747.3,258.7 1747.5,252.6 1747.6,247.7 1747.7,244"/><polyline points="1746.5,1330.2 1756.7,993.9 1767.3,645.6 1776.4,345.5 1778.3,284.9 1778.7,270.1 1778.9,262.8 1779.1,256.6 1779.3,251.7 1779.4,248"/><polyline points="1776.5,1338.8 1787.3,1001.3 1798.5,651.6 1808.2,350.4 1810.1,289 1810.6,274.2 1810.9,266.8 1811.1,260.7 1811.2,255.7 1811.3,252"/><polyline points="1806.8,1347.5 1818.2,1008.7 1830,657.7 1840.2,355.2 1842.3,293.2 1842.8,278.4 1843.1,270.9 1843.3,264.7 1843.4,259.8 1843.6,256.1"/><polyline points="1837.4,1356.3 1849.4,1016.2 1861.8,663.8 1872.5,360.1 1874.7,297.4 1875.3,282.5 1875.5,275.1 1875.7,268.8 1875.9,263.9 1876.1,260.1"/></g>
<g stroke="#101010" stroke-width="1.6"><line x1="969.3" y1="1012.4" x2="1872.2" y2="1258.4" stroke-opacity="0.35"/><line x1="968.4" y1="916.3" x2="1876.1" y2="1150.4" stroke-opacity="0.6"/><line x1="967.4" y1="819.3" x2="1880.2" y2="1041.1" stroke-opacity="0.8"/><line x1="966.4" y1="721.4" x2="1884.3" y2="930.7" stroke-opacity="0.8"/><line x1="965.3" y1="622.4" x2="1888.4" y2="819" stroke-opacity="0.8"/><line x1="964.3" y1="522.5" x2="1892.5" y2="705.9" stroke-opacity="0.8"/><line x1="963.3" y1="421.5" x2="1896.8" y2="591.6" stroke-opacity="0.25"/><line x1="962.3" y1="319.5" x2="1901" y2="475.9" stroke-opacity="0.3"/><line x1="961.2" y1="216.5" x2="1905.4" y2="358.9" stroke-opacity="0.4"/></g>
<polygon points="291.6,275 293,258 299,246 310,240 980,120 1883,244 1896,250 1906.5,262 1909.5,287 1279.4,443.7" fill="#7b0000"/>
<clipPath id="ctA"><polygon points="291.6,275 293,258 299,246 310,240 980,120 1883,244 1896,250 1906.5,262 1909.5,287 1279.4,443.7"/></clipPath>
<g clip-path="url(#ctA)" fill="none" stroke="#d04a3a" stroke-opacity="0.28" stroke-width="1"><polyline points="211.3,259.7 215.2,259 219.1,258.3 223.1,257.6 227,256.9 230.9,256.2 240.6,254.5 250.3,252.8 260,251 269.6,249.3 288.8,245.9 326.8,239.2 663.2,179.4 975.6,123.9 1004.7,118.7 1015.6,116.8 1022.8,115.5 1030,114.3 1037.1,113 1040.7,112.4 1044.3,111.7 1047.8,111.1"/><polyline points="237,263.9 241,263.2 244.9,262.5 248.8,261.8 252.7,261.1 256.6,260.4 266.4,258.6 276.1,256.9 285.7,255.1 295.4,253.4 314.6,250 352.5,243.2 688.7,182.9 1000.7,127 1029.9,121.8 1040.7,119.8 1047.9,118.5 1055.1,117.3 1062.2,116 1065.8,115.3 1069.4,114.7 1072.9,114.1"/><polyline points="263,268.1 266.9,267.3 270.8,266.6 274.8,265.9 278.7,265.2 282.6,264.5 292.3,262.8 302,261 311.7,259.3 321.3,257.5 340.5,254 378.5,247.2 714.5,186.4 1026.1,130.1 1055.2,124.8 1066,122.9 1073.2,121.6 1080.4,120.3 1087.5,119 1091.1,118.3 1094.6,117.7 1098.2,117.1"/><polyline points="289.2,272.3 293.1,271.6 297,270.9 301,270.1 304.9,269.4 308.8,268.7 318.5,266.9 328.2,265.2 337.9,263.4 347.5,261.7 366.7,258.2 404.6,251.2 740.4,190 1051.7,133.2 1080.7,127.9 1091.5,125.9 1098.7,124.6 1105.9,123.3 1113,122 1116.5,121.4 1120.1,120.7 1123.6,120.1"/><polyline points="315.6,276.6 319.6,275.8 323.5,275.1 327.4,274.4 331.3,273.7 335.2,273 344.9,271.2 354.6,269.4 364.3,267.6 373.9,265.8 393.1,262.3 431,255.3 766.6,193.6 1077.5,136.3 1106.5,131 1117.2,129 1124.4,127.7 1131.5,126.4 1138.7,125.1 1142.2,124.4 1145.8,123.8 1149.3,123.1"/><polyline points="342.3,280.9 346.2,280.2 350.2,279.4 354.1,278.7 358,278 361.9,277.2 371.6,275.4 381.3,273.6 391,271.8 400.6,270.1 419.8,266.5 457.7,259.5 792.9,197.2 1103.4,139.5 1132.4,134.1 1143.2,132.1 1150.3,130.8 1157.4,129.5 1164.5,128.2 1168.1,127.5 1171.6,126.8 1175.2,126.2"/><polyline points="369.3,285.2 373.2,284.5 377.1,283.8 381,283 384.9,282.3 388.8,281.6 398.5,279.7 408.2,277.9 417.9,276.1 427.5,274.3 446.7,270.7 484.5,263.6 819.5,200.8 1129.6,142.7 1158.5,137.3 1169.3,135.3 1176.4,133.9 1183.5,132.6 1190.6,131.3 1194.2,130.6 1197.7,129.9 1201.2,129.3"/><polyline points="396.4,289.6 400.3,288.9 404.3,288.1 408.2,287.4 412.1,286.7 416,285.9 425.7,284.1 435.4,282.3 445,280.4 454.7,278.6 473.8,275 511.7,267.8 846.4,204.5 1156,145.9 1184.9,140.4 1195.6,138.4 1202.7,137.1 1209.8,135.7 1216.9,134.4 1220.4,133.7 1224,133 1227.5,132.4"/><polyline points="423.9,294.1 427.8,293.3 431.7,292.6 435.6,291.8 439.5,291.1 443.4,290.3 453.1,288.5 462.8,286.6 472.4,284.8 482.1,282.9 501.2,279.3 539,272.1 873.4,208.2 1182.6,149.1 1211.4,143.6 1222.1,141.6 1229.2,140.2 1236.3,138.9 1243.4,137.5 1246.9,136.9 1250.4,136.2 1253.9,135.5"/><polyline points="451.5,298.5 455.5,297.8 459.4,297 463.3,296.3 467.2,295.5 471.1,294.8 480.8,292.9 490.5,291 500.1,289.2 509.7,287.3 528.8,283.6 566.6,276.3 900.7,211.9 1209.4,152.4 1238.2,146.9 1248.8,144.8 1255.9,143.4 1263,142.1 1270.1,140.7 1273.6,140 1277.1,139.4 1280.6,138.7"/><polyline points="479.5,303 483.4,302.3 487.3,301.5 491.2,300.8 495.1,300 499,299.2 508.7,297.4 518.4,295.5 528,293.6 537.6,291.7 556.7,288 594.5,280.7 928.2,215.7 1236.4,155.7 1265.1,150.1 1275.8,148 1282.9,146.7 1289.9,145.3 1297,143.9 1300.5,143.2 1304,142.5 1307.5,141.9"/><polyline points="507.7,307.6 511.6,306.8 515.5,306.1 519.4,305.3 523.3,304.5 527.2,303.8 536.9,301.9 546.6,300 556.2,298.1 565.8,296.2 584.9,292.4 622.6,285 956,219.5 1263.7,159 1292.3,153.4 1303,151.3 1310,149.9 1317.1,148.5 1324.1,147.1 1327.6,146.4 1331.1,145.8 1334.6,145.1"/><polyline points="536.1,312.2 540.1,311.4 544,310.7 547.9,309.9 551.8,309.1 555.6,308.3 565.3,306.4 575,304.5 584.6,302.6 594.2,300.7 613.3,296.9 651,289.4 984,223.3 1291.1,162.4 1319.7,156.7 1330.3,154.6 1337.4,153.2 1344.4,151.8 1351.4,150.4 1354.9,149.7 1358.4,149 1361.9,148.3"/><polyline points="564.9,316.8 568.8,316.1 572.7,315.3 576.6,314.5 580.5,313.7 584.4,312.9 594.1,311 603.7,309.1 613.3,307.1 622.9,305.2 642,301.4 679.7,293.8 1012.2,227.2 1318.8,165.7 1347.3,160 1357.9,157.9 1365,156.5 1372,155.1 1379,153.7 1382.5,153 1386,152.3 1389.5,151.6"/><polyline points="593.9,321.5 597.8,320.7 601.7,320 605.6,319.2 609.5,318.4 613.4,317.6 623,315.6 632.7,313.7 642.3,311.7 651.9,309.8 670.9,305.9 708.6,298.3 1040.7,231.1 1346.7,169.1 1375.2,163.4 1385.8,161.2 1392.8,159.8 1399.8,158.4 1406.8,157 1410.3,156.3 1413.7,155.6 1417.2,154.9"/><polyline points="623.2,326.3 627.1,325.5 631,324.7 634.9,323.9 638.8,323.1 642.6,322.3 652.3,320.3 661.9,318.3 671.5,316.4 681.1,314.4 700.1,310.5 737.7,302.8 1069.4,235 1374.9,172.6 1403.3,166.7 1413.8,164.6 1420.8,163.2 1427.8,161.7 1434.8,160.3 1438.3,159.6 1441.7,158.9 1445.2,158.2"/><polyline points="652.8,331 656.7,330.2 660.5,329.4 664.4,328.6 668.3,327.8 672.2,327 681.8,325 691.5,323 701.1,321.1 710.6,319.1 729.6,315.2 767.2,307.4 1098.4,239 1403.2,176 1431.6,170.2 1442.1,168 1449.1,166.5 1456.1,165.1 1463,163.7 1466.5,162.9 1469.9,162.2 1473.4,161.5"/><polyline points="682.6,335.9 686.5,335.1 690.4,334.2 694.3,333.4 698.1,332.6 702,331.8 711.7,329.8 721.3,327.8 730.9,325.8 740.4,323.8 759.4,319.8 796.9,312 1127.6,243 1431.8,179.5 1460.1,173.6 1470.6,171.4 1477.6,169.9 1484.5,168.5 1491.5,167 1494.9,166.3 1498.4,165.6 1501.8,164.9"/><polyline points="712.8,340.7 716.6,339.9 720.5,339.1 724.4,338.3 728.3,337.5 732.1,336.7 741.8,334.6 751.4,332.6 761,330.6 770.5,328.6 789.4,324.6 826.9,316.7 1157.1,247 1460.7,183 1488.9,177.1 1499.3,174.9 1506.3,173.4 1513.2,171.9 1520.2,170.5 1523.6,169.7 1527,169 1530.5,168.3"/><polyline points="743.2,345.7 747.1,344.8 751,344 754.8,343.2 758.7,342.4 762.6,341.5 772.2,339.5 781.8,337.4 791.3,335.4 800.9,333.4 819.8,329.3 857.2,321.4 1186.9,251.1 1489.7,186.5 1517.9,180.6 1528.3,178.3 1535.3,176.8 1542.2,175.4 1549.1,173.9 1552.5,173.2 1556,172.4 1559.4,171.7"/><polyline points="773.9,350.6 777.8,349.8 781.7,349 785.6,348.1 789.4,347.3 793.3,346.5 802.9,344.4 812.5,342.3 822,340.3 831.5,338.2 850.4,334.1 887.8,326.1 1216.9,255.2 1519.1,190.1 1547.1,184.1 1557.5,181.8 1564.5,180.3 1571.4,178.9 1578.2,177.4 1581.7,176.6 1585.1,175.9 1588.5,175.2"/><polyline points="805,355.6 808.8,354.8 812.7,354 816.6,353.1 820.4,352.3 824.3,351.4 833.9,349.3 843.5,347.3 853,345.2 862.5,343.1 881.4,339 918.7,330.9 1247.2,259.4 1548.6,193.7 1576.6,187.6 1587,185.4 1593.9,183.9 1600.8,182.4 1607.6,180.9 1611.1,180.1 1614.5,179.4 1617.9,178.6"/><polyline points="836.3,360.7 840.2,359.9 844,359 847.9,358.2 851.8,357.3 855.6,356.5 865.2,354.4 874.8,352.2 884.3,350.2 893.8,348.1 912.6,343.9 949.9,335.7 1277.8,263.5 1578.4,197.4 1606.3,191.2 1616.7,188.9 1623.6,187.4 1630.5,185.9 1637.3,184.4 1640.7,183.6 1644.1,182.9 1647.5,182.1"/><polyline points="868,365.8 871.8,365 875.7,364.1 879.5,363.3 883.4,362.4 887.2,361.5 896.8,359.4 906.4,357.3 915.9,355.2 925.3,353.1 944.2,348.9 981.4,340.6 1308.6,267.8 1608.5,201 1636.3,194.8 1646.7,192.5 1653.5,191 1660.4,189.5 1667.2,188 1670.6,187.2 1674,186.4 1677.4,185.7"/><polyline points="899.9,371 903.8,370.1 907.7,369.3 911.5,368.4 915.3,367.5 919.2,366.7 928.7,364.5 938.3,362.4 947.8,360.2 957.2,358.1 976,353.9 1013.2,345.5 1339.7,272 1638.8,204.7 1666.6,198.5 1676.9,196.1 1683.7,194.6 1690.5,193.1 1697.3,191.5 1700.7,190.8 1704.1,190 1707.5,189.3"/><polyline points="932.2,376.2 936.1,375.3 939.9,374.5 943.8,373.6 947.6,372.7 951.4,371.8 961,369.7 970.5,367.5 980,365.3 989.4,363.2 1008.2,358.9 1045.3,350.5 1371.2,276.3 1669.4,208.4 1697.1,202.1 1707.3,199.8 1714.2,198.2 1721,196.7 1727.7,195.2 1731.1,194.4 1734.5,193.6 1737.9,192.9"/><polyline points="964.9,381.5 968.7,380.6 972.5,379.7 976.4,378.8 980.2,378 984,377.1 993.6,374.9 1003.1,372.7 1012.5,370.5 1021.9,368.3 1040.7,364 1077.7,355.5 1402.9,280.7 1700.3,212.2 1727.8,205.8 1738.1,203.5 1744.9,201.9 1751.6,200.4 1758.4,198.8 1761.8,198 1765.1,197.3 1768.5,196.5"/><polyline points="997.8,386.8 1001.6,385.9 1005.5,385 1009.3,384.1 1013.1,383.2 1017,382.4 1026.5,380.1 1035.9,377.9 1045.4,375.7 1054.8,373.5 1073.5,369.2 1110.4,360.6 1434.8,285 1731.4,216 1758.8,209.6 1769,207.2 1775.8,205.6 1782.6,204.1 1789.3,202.5 1792.7,201.7 1796,200.9 1799.4,200.1"/><polyline points="1031.1,392.2 1034.9,391.3 1038.8,390.4 1042.6,389.5 1046.4,388.6 1050.2,387.7 1059.7,385.5 1069.2,383.2 1078.6,381 1088,378.8 1106.6,374.4 1143.5,365.7 1467.1,289.5 1762.8,219.8 1790.1,213.3 1800.3,210.9 1807,209.4 1813.8,207.8 1820.5,206.2 1823.8,205.4 1827.2,204.6 1830.5,203.8"/><polyline points="1064.7,397.6 1068.5,396.7 1072.4,395.8 1076.2,394.9 1080,394 1083.8,393.1 1093.3,390.8 1102.7,388.6 1112.1,386.3 1121.5,384.1 1140.1,379.7 1176.9,370.9 1499.7,293.9 1794.4,223.7 1821.7,217.1 1831.8,214.7 1838.5,213.1 1845.2,211.5 1851.9,209.9 1855.3,209.1 1858.6,208.3 1861.9,207.6"/><polyline points="1098.7,403.1 1102.5,402.2 1106.3,401.3 1110.1,400.4 1113.9,399.4 1117.7,398.5 1127.2,396.2 1136.6,394 1146,391.7 1155.3,389.4 1173.9,385 1210.6,376.1 1532.6,298.4 1826.3,227.5 1853.5,221 1863.6,218.5 1870.3,216.9 1877,215.3 1883.6,213.7 1887,212.9 1890.3,212.1 1893.6,211.3"/><polyline points="1133,408.7 1136.8,407.7 1140.6,406.8 1144.4,405.9 1148.2,404.9 1152,404 1161.5,401.7 1170.9,399.4 1180.2,397.1 1189.5,394.9 1208.1,390.3 1244.7,381.4 1565.8,303 1858.5,231.5 1885.6,224.8 1895.7,222.4 1902.3,220.8 1909,219.1 1915.6,217.5 1918.9,216.7 1922.2,215.9 1925.5,215.1"/><polyline points="1167.7,417.2 1171.5,416.2 1175.3,415.3 1179.1,414.3 1182.9,413.4 1186.6,412.5 1196,410.1 1205.4,407.8 1214.8,405.5 1224.1,403.2 1242.6,398.6 1279.1,389.5 1599.2,310.2 1890.9,237.9 1917.9,231.2 1927.9,228.7 1934.6,227.1 1941.2,225.4 1947.8,223.8 1951.1,223 1954.4,222.1 1957.7,221.3"/><polyline points="1202.3,472.7 1206.1,471.7 1209.9,470.7 1213.7,469.7 1217.4,468.7 1221.2,467.7 1230.5,465.3 1239.9,462.9 1249.2,460.4 1258.4,458 1276.8,453.2 1313.2,443.7 1631.8,360.3 1921.9,284.3 1948.7,277.3 1958.7,274.7 1965.3,273 1971.9,271.3 1978.4,269.5 1981.7,268.7 1985,267.8 1988.2,267"/><polyline points="260,251 263.4,251.6 266.8,252.1 270.2,252.7 273.6,253.2 277,253.7 285.5,255.1 294,256.4 302.6,257.8 311.2,259.2 328.4,261.9 363.3,267.4 715.9,323.4 1135.8,390.1 1180.9,397.2 1198,400 1209.4,403.1 1220.8,409 1232.3,418.7 1238,425.7 1243.6,435.6 1249.2,460.4"/><polyline points="284,246.8 287.4,247.3 290.8,247.8 294.2,248.4 297.6,248.9 301,249.4 309.5,250.8 318.1,252.1 326.6,253.5 335.2,254.8 352.5,257.5 387.3,263 739.7,318.5 1159.1,384.5 1204.1,391.6 1221.2,394.3 1232.6,397.3 1244,403.3 1255.4,412.9 1261.1,419.9 1266.8,429.7 1272.3,454.4"/><polyline points="307.9,242.5 311.3,243.1 314.7,243.6 318,244.1 321.4,244.7 324.8,245.2 333.3,246.5 341.9,247.8 350.4,249.2 359,250.5 376.3,253.2 411.1,258.6 763.3,313.6 1182.2,378.9 1227.2,385.9 1244.2,388.6 1255.6,391.7 1266.9,397.5 1278.3,407.1 1284,414.1 1289.6,423.8 1295.1,448.4"/><polyline points="331.5,238.3 334.9,238.9 338.3,239.4 341.7,239.9 345.1,240.4 348.5,241 357,242.3 365.5,243.6 374.1,244.9 382.7,246.3 399.9,248.9 434.7,254.3 786.7,308.7 1205,373.4 1249.9,380.4 1266.9,383 1278.3,386.1 1289.7,391.9 1301,401.4 1306.7,408.3 1312.3,418 1317.7,442.5"/><polyline points="355,234.2 358.3,234.7 361.7,235.2 365.1,235.7 368.5,236.3 371.9,236.8 380.4,238.1 388.9,239.4 397.5,240.7 406.1,242 423.3,244.7 458.1,250 809.8,303.9 1227.7,368 1272.5,374.9 1289.5,377.5 1300.8,380.5 1312.1,386.3 1323.5,395.8 1329.1,402.6 1334.7,412.3 1340.1,436.6"/><polyline points="378.2,230.1 381.6,230.6 384.9,231.1 388.3,231.6 391.7,232.1 395.1,232.6 403.6,233.9 412.2,235.2 420.7,236.5 429.3,237.8 446.5,240.4 481.3,245.7 832.8,299.2 1250.1,362.6 1294.8,369.4 1311.8,372 1323.1,375 1334.4,380.7 1345.7,390.2 1351.3,397 1356.9,406.6 1362.3,430.8"/><polyline points="401.2,226 404.6,226.5 408,227 411.4,227.5 414.8,228 418.2,228.5 426.7,229.8 435.2,231.1 443.7,232.4 452.3,233.7 469.5,236.3 504.3,241.5 855.5,294.4 1272.3,357.3 1316.9,364 1333.9,366.6 1345.2,369.5 1356.4,375.3 1367.7,384.6 1373.3,391.4 1378.9,400.9 1384.2,425.1"/><polyline points="424.1,221.9 427.4,222.4 430.8,222.9 434.2,223.4 437.6,223.9 441,224.4 449.5,225.7 458,227 466.6,228.3 475.1,229.5 492.3,232.1 527.1,237.3 878,289.8 1294.2,352 1338.9,358.7 1355.7,361.2 1367,364.1 1378.3,369.8 1389.5,379.1 1395.1,385.9 1400.7,395.4 1406,419.4"/><polyline points="446.7,217.9 450.1,218.4 453.5,218.9 456.9,219.4 460.2,219.9 463.6,220.4 472.1,221.6 480.6,222.9 489.2,224.2 497.7,225.4 515,228 549.7,233.1 900.4,285.1 1316,346.8 1360.5,353.4 1377.4,355.9 1388.7,358.8 1399.9,364.4 1411.1,373.7 1416.7,380.4 1422.2,389.9 1427.5,413.7"/><polyline points="469.2,213.9 472.6,214.4 475.9,214.9 479.3,215.4 482.7,215.9 486.1,216.4 494.6,217.6 503.1,218.9 511.6,220.1 520.2,221.4 537.4,223.9 572.1,229 922.5,280.5 1337.6,341.6 1382,348.1 1398.9,350.6 1410.1,353.5 1421.3,359.1 1432.5,368.3 1438.1,375 1443.6,384.4 1448.8,408.2"/><polyline points="491.5,209.9 494.8,210.4 498.2,210.9 501.6,211.4 505,211.9 508.4,212.4 516.8,213.6 525.3,214.9 533.9,216.1 542.4,217.4 559.6,219.9 594.3,224.9 944.4,276 1358.9,336.4 1403.3,342.9 1420.1,345.4 1431.3,348.2 1442.5,353.8 1453.7,363 1459.2,369.6 1464.7,379 1469.9,402.6"/><polyline points="513.5,206 516.9,206.5 520.3,207 523.7,207.5 527.1,208 530.4,208.5 538.9,209.7 547.4,210.9 556,212.1 564.5,213.4 581.7,215.9 616.3,220.9 966.1,271.5 1380.1,331.4 1424.4,337.8 1441.1,340.2 1452.3,343 1463.5,348.6 1474.6,357.7 1480.2,364.3 1485.7,373.6 1490.8,397.2"/><polyline points="535.5,202.1 538.8,202.6 542.2,203.1 545.6,203.6 549,204.1 552.3,204.5 560.8,205.8 569.3,207 577.8,208.2 586.4,209.4 603.6,211.9 638.2,216.9 987.7,267 1401,326.3 1445.3,332.7 1462,335.1 1473.2,337.9 1484.3,343.4 1495.4,352.5 1500.9,359.1 1506.4,368.3 1511.5,391.7"/><polyline points="557.2,198.3 560.6,198.7 563.9,199.2 567.3,199.7 570.7,200.2 574.1,200.7 582.5,201.9 591,203.1 599.5,204.3 608.1,205.5 625.2,207.9 659.8,212.9 1009,262.6 1421.8,321.3 1465.9,327.6 1482.6,330 1493.8,332.8 1504.9,338.3 1516,347.3 1521.5,353.9 1526.9,363 1532,386.4"/><polyline points="578.7,194.4 582.1,194.9 585.5,195.4 588.8,195.9 592.2,196.3 595.6,196.8 604.1,198 612.6,199.2 621.1,200.4 629.6,201.6 646.7,204 681.3,208.9 1030.2,258.2 1442.3,316.4 1486.4,322.6 1503.1,325 1514.2,327.8 1525.3,333.2 1536.4,342.2 1541.9,348.7 1547.3,357.8 1552.4,381.1"/><polyline points="600.1,190.6 603.5,191.1 606.8,191.6 610.2,192 613.6,192.5 617,193 625.4,194.2 633.9,195.4 642.4,196.6 651,197.8 668.1,200.2 702.6,205 1051.1,253.8 1462.7,311.5 1506.7,317.6 1523.4,320 1534.5,322.8 1545.5,328.2 1556.6,337.1 1562,343.6 1567.4,352.7 1572.5,375.8"/><polyline points="621.3,186.9 624.7,187.3 628,187.8 631.4,188.3 634.8,188.7 638.2,189.2 646.6,190.4 655.1,191.6 663.6,192.7 672.1,193.9 689.2,196.3 723.8,201.1 1071.9,249.5 1482.9,306.6 1526.8,312.7 1543.4,315 1554.5,317.8 1565.6,323.2 1576.6,332.1 1582,338.5 1587.4,347.6 1592.4,370.6"/><polyline points="642.3,183.1 645.7,183.6 649.1,184.1 652.4,184.5 655.8,185 659.2,185.4 667.6,186.6 676.1,187.8 684.6,189 693.1,190.1 710.2,192.5 744.7,197.2 1092.6,245.2 1502.9,301.8 1546.7,307.9 1563.3,310.2 1574.4,312.9 1585.4,318.3 1596.4,327.1 1601.8,333.5 1607.2,342.5 1612.2,365.4"/><polyline points="663.2,179.4 666.6,179.9 669.9,180.3 673.3,180.8 676.7,181.3 680,181.7 688.5,182.9 696.9,184 705.4,185.2 713.9,186.4 731,188.7 765.5,193.4 1113,241 1522.7,297.1 1566.5,303 1583,305.3 1594.1,308 1605.1,313.4 1616,322.1 1621.4,328.5 1626.8,337.5 1631.8,360.3"/><polyline points="683.9,175.7 687.3,176.2 690.6,176.7 694,177.1 697.3,177.6 700.7,178 709.2,179.2 717.6,180.3 726.1,181.5 734.6,182.6 751.7,184.9 786.1,189.6 1133.2,236.8 1542.3,292.3 1586,298.3 1602.5,300.5 1613.6,303.2 1624.6,308.5 1635.5,317.2 1640.9,323.6 1646.2,332.5 1651.1,355.2"/><polyline points="704.4,172.1 707.8,172.5 711.1,173 714.5,173.5 717.9,173.9 721.2,174.4 729.7,175.5 738.1,176.6 746.6,177.8 755.1,178.9 772.2,181.2 806.6,185.9 1153.3,232.6 1561.8,287.7 1605.4,293.5 1621.9,295.8 1632.9,298.4 1643.9,303.7 1654.7,312.4 1660.1,318.7 1665.5,327.6 1670.4,350.2"/><polyline points="724.8,168.5 728.2,168.9 731.5,169.4 734.9,169.8 738.2,170.3 741.6,170.7 750,171.9 758.5,173 766.9,174.1 775.4,175.2 792.5,177.5 826.9,182.1 1173.2,228.5 1581.1,283 1624.6,288.8 1641.1,291.1 1652,293.7 1663,298.9 1673.8,307.6 1679.2,313.9 1684.5,322.7 1689.4,345.2"/><polyline points="745,164.9 748.4,165.3 751.7,165.8 755.1,166.2 758.4,166.7 761.8,167.1 770.2,168.2 778.6,169.4 787.1,170.5 795.6,171.6 812.6,173.9 847,178.4 1193,224.4 1600.2,278.4 1643.6,284.2 1660.1,286.4 1671,289 1681.9,294.2 1692.8,302.8 1698.1,309.1 1703.4,317.9 1708.2,340.3"/><polyline points="765.1,161.3 768.4,161.8 771.7,162.2 775.1,162.7 778.5,163.1 781.8,163.5 790.2,164.6 798.7,165.8 807.1,166.9 815.6,168 832.6,170.2 867,174.8 1212.6,220.3 1619.1,273.9 1662.5,279.6 1678.9,281.8 1689.8,284.4 1700.7,289.5 1711.5,298.1 1716.8,304.3 1722.1,313.1 1726.9,335.4"/><polyline points="784.9,157.8 788.3,158.2 791.6,158.7 795,159.1 798.3,159.5 801.7,160 810.1,161.1 818.5,162.2 827,163.3 835.4,164.4 852.5,166.6 886.8,171.1 1232,216.3 1637.9,269.4 1681.2,275 1697.5,277.2 1708.4,279.8 1719.3,284.9 1730.1,293.4 1735.4,299.6 1740.7,308.3 1745.5,330.5"/><polyline points="804.7,154.3 808,154.7 811.4,155.2 814.7,155.6 818.1,156 821.4,156.5 829.8,157.6 838.2,158.6 846.7,159.7 855.1,160.8 872.1,163 906.4,167.5 1251.2,212.3 1656.5,264.9 1699.7,270.5 1716,272.6 1726.9,275.2 1737.7,280.3 1748.5,288.8 1753.8,294.9 1759,303.6 1763.8,325.7"/><polyline points="824.3,150.8 827.6,151.2 830.9,151.7 834.3,152.1 837.6,152.5 841,153 849.4,154 857.8,155.1 866.2,156.2 874.7,157.3 891.7,159.5 925.9,163.9 1270.3,208.3 1674.9,260.5 1718,266 1734.3,268.1 1745.2,270.7 1756,275.8 1766.7,284.2 1772,290.3 1777.3,299 1782,321"/><polyline points="843.7,147.4 847,147.8 850.4,148.2 853.7,148.6 857,149.1 860.4,149.5 868.8,150.6 877.2,151.6 885.6,152.7 894.1,153.8 911,156 945.2,160.4 1289.3,204.4 1693.2,256.1 1736.2,261.6 1752.5,263.7 1763.3,266.2 1774.1,271.3 1784.8,279.6 1790.1,285.7 1795.3,294.3 1800,316.2"/><polyline points="863,143.9 866.3,144.4 869.6,144.8 873,145.2 876.3,145.6 879.6,146.1 888,147.1 896.4,148.2 904.8,149.3 913.3,150.3 930.2,152.5 964.4,156.8 1308,200.5 1711.3,251.7 1754.3,257.2 1770.5,259.2 1781.3,261.8 1792.1,266.8 1802.8,275.1 1808,281.2 1813.2,289.8 1817.9,311.6"/><polyline points="882.1,140.5 885.4,141 888.7,141.4 892.1,141.8 895.4,142.2 898.8,142.6 907.1,143.7 915.5,144.8 923.9,145.8 932.4,146.9 949.3,149 983.4,153.3 1326.6,196.6 1729.2,247.4 1772.1,252.8 1788.3,254.9 1799.1,257.4 1809.9,262.4 1820.5,270.6 1825.8,276.7 1830.9,285.2 1835.6,306.9"/><polyline points="901.1,137.2 904.4,137.6 907.7,138 911.1,138.4 914.4,138.8 917.7,139.3 926.1,140.3 934.5,141.3 942.9,142.4 951.3,143.5 968.2,145.6 1002.3,149.8 1345.1,192.8 1747,243.1 1789.8,248.5 1806,250.5 1816.8,253 1827.5,258 1838.1,266.2 1843.4,272.2 1848.5,280.7 1853.2,302.3"/><polyline points="919.9,133.8 923.2,134.2 926.6,134.6 929.9,135.1 933.2,135.5 936.5,135.9 944.9,136.9 953.3,138 961.7,139 970.1,140.1 987,142.2 1021.1,146.4 1363.4,189 1764.7,238.9 1807.4,244.2 1823.5,246.2 1834.3,248.7 1845,253.6 1855.6,261.8 1860.8,267.8 1866,276.3 1870.6,297.8"/><polyline points="938.6,130.5 941.9,130.9 945.2,131.3 948.6,131.7 951.9,132.1 955.2,132.6 963.6,133.6 971.9,134.6 980.3,135.7 988.7,136.7 1005.6,138.8 1039.7,143 1381.6,185.2 1782.2,234.7 1824.8,239.9 1840.9,241.9 1851.7,244.4 1862.3,249.3 1872.9,257.5 1878.1,263.4 1883.2,271.8 1887.8,293.3"/><polyline points="957.2,127.2 960.5,127.6 963.8,128 967.1,128.4 970.4,128.8 973.8,129.2 982.1,130.3 990.5,131.3 998.8,132.3 1007.2,133.3 1024.1,135.4 1058.1,139.6 1399.6,181.5 1799.5,230.5 1842.1,235.7 1858.2,237.7 1868.9,240.1 1879.5,245 1890,253.1 1895.2,259.1 1900.4,267.5 1904.9,288.8"/><polyline points="975.6,123.9 978.9,124.3 982.2,124.7 985.5,125.1 988.8,125.5 992.2,126 1000.5,127 1008.8,128 1017.2,129 1025.6,130 1042.5,132.1 1076.4,136.2 1417.5,177.8 1816.7,226.4 1859.2,231.5 1875.2,233.5 1885.9,235.9 1896.5,240.8 1907.1,248.9 1912.2,254.8 1917.3,263.1 1921.9,284.3"/></g>
<g stroke-width="1.2" stroke-linejoin="round"><polygon points="322.7,1353.5 1256.6,1690 1256.7,1682.4 322.5,1346.8" fill="#81007b" stroke="#81007b"/><polygon points="322.5,1346.8 1256.7,1682.4 1256.8,1674.8 322.3,1340.2" fill="#880089" stroke="#880089"/><polygon points="322.3,1340.2 1256.8,1674.8 1257,1667.2 322.1,1333.5" fill="#8f0097" stroke="#8f0097"/><polygon points="322.1,1333.5 1257,1667.2 1257.1,1659.6 321.9,1326.8" fill="#9400a3" stroke="#9400a3"/><polygon points="321.9,1326.8 1257.1,1659.6 1257.3,1652 321.7,1320.1" fill="#9700ae" stroke="#9700ae"/><polygon points="321.7,1320.1 1257.3,1652 1257.4,1644.4 321.6,1313.5" fill="#9b00ba" stroke="#9b00ba"/><polygon points="321.6,1313.5 1257.4,1644.4 1257.5,1636.8 321.4,1306.8" fill="#9f00c5" stroke="#9f00c5"/><polygon points="321.4,1306.8 1257.5,1636.8 1257.7,1629.1 321.2,1300.1" fill="#a000cd" stroke="#a000cd"/><polygon points="321.2,1300.1 1257.7,1629.1 1257.8,1621.5 321,1293.4" fill="#9f00d5" stroke="#9f00d5"/><polygon points="321,1293.4 1257.8,1621.5 1257.9,1613.9 320.8,1286.7" fill="#9f00dc" stroke="#9f00dc"/><polygon points="320.8,1286.7 1257.9,1613.9 1258.1,1606.2 320.6,1280" fill="#9e00e3" stroke="#9e00e3"/><polygon points="320.6,1280 1258.1,1606.2 1258.2,1598.6 320.4,1273.3" fill="#9d00e9" stroke="#9d00e9"/><polygon points="320.4,1273.3 1258.2,1598.6 1258.3,1590.9 320.2,1266.6" fill="#9900ee" stroke="#9900ee"/><polygon points="320.2,1266.6 1258.3,1590.9 1258.5,1583.2 320,1259.9" fill="#9400f3" stroke="#9400f3"/><polygon points="320,1259.9 1258.5,1583.2 1258.6,1575.6 319.8,1253.1" fill="#9000f8" stroke="#9000f8"/><polygon points="319.8,1253.1 1258.6,1575.6 1258.8,1567.9 319.6,1246.4" fill="#8c00fd" stroke="#8c00fd"/><polygon points="319.6,1246.4 1258.8,1567.9 1258.9,1560.2 319.4,1239.7" fill="#8100ff" stroke="#8100ff"/><polygon points="319.4,1239.7 1258.9,1560.2 1259,1552.5 319.3,1233" fill="#6f00ff" stroke="#6f00ff"/><polygon points="319.3,1233 1259,1552.5 1259.2,1544.8 319.1,1226.2" fill="#5e00ff" stroke="#5e00ff"/><polygon points="319.1,1226.2 1259.2,1544.8 1259.3,1537.1 318.9,1219.5" fill="#4c00ff" stroke="#4c00ff"/><polygon points="318.9,1219.5 1259.3,1537.1 1259.4,1529.4 318.7,1212.7" fill="#3a00ff" stroke="#3a00ff"/><polygon points="318.7,1212.7 1259.4,1529.4 1259.6,1521.7 318.5,1206" fill="#2900ff" stroke="#2900ff"/><polygon points="318.5,1206 1259.6,1521.7 1259.7,1514 318.3,1199.2" fill="#1700ff" stroke="#1700ff"/><polygon points="318.3,1199.2 1259.7,1514 1259.9,1506.3 318.1,1192.5" fill="#0500ff" stroke="#0500ff"/><polygon points="318.1,1192.5 1259.9,1506.3 1260,1498.6 317.9,1185.7" fill="#000cff" stroke="#000cff"/><polygon points="317.9,1185.7 1260,1498.6 1260.1,1490.8 317.7,1178.9" fill="#001dff" stroke="#001dff"/><polygon points="317.7,1178.9 1260.1,1490.8 1260.3,1483.1 317.5,1172.2" fill="#002eff" stroke="#002eff"/><polygon points="317.5,1172.2 1260.3,1483.1 1260.4,1475.4 317.3,1165.4" fill="#003fff" stroke="#003fff"/><polygon points="317.3,1165.4 1260.4,1475.4 1260.5,1467.6 317.1,1158.6" fill="#0050ff" stroke="#0050ff"/><polygon points="317.1,1158.6 1260.5,1467.6 1260.7,1459.8 316.9,1151.8" fill="#0061ff" stroke="#0061ff"/><polygon points="316.9,1151.8 1260.7,1459.8 1260.8,1452.1 316.7,1145" fill="#0072ff" stroke="#0072ff"/><polygon points="316.7,1145 1260.8,1452.1 1261,1444.3 316.5,1138.2" fill="#0083ff" stroke="#0083ff"/><polygon points="316.5,1138.2 1261,1444.3 1261.1,1436.5 316.3,1131.4" fill="#0091ff" stroke="#0091ff"/><polygon points="316.3,1131.4 1261.1,1436.5 1261.2,1428.8 316.1,1124.6" fill="#009bff" stroke="#009bff"/><polygon points="316.1,1124.6 1261.2,1428.8 1261.4,1421 316,1117.8" fill="#00a5ff" stroke="#00a5ff"/><polygon points="316,1117.8 1261.4,1421 1261.5,1413.2 315.8,1111" fill="#00afff" stroke="#00afff"/><polygon points="315.8,1111 1261.5,1413.2 1261.7,1405.4 315.6,1104.2" fill="#00b9ff" stroke="#00b9ff"/><polygon points="315.6,1104.2 1261.7,1405.4 1261.8,1397.6 315.4,1097.4" fill="#00c3ff" stroke="#00c3ff"/><polygon points="315.4,1097.4 1261.8,1397.6 1261.9,1389.8 315.2,1090.5" fill="#00cdff" stroke="#00cdff"/><polygon points="315.2,1090.5 1261.9,1389.8 1262.1,1382 315,1083.7" fill="#00d7ff" stroke="#00d7ff"/><polygon points="315,1083.7 1262.1,1382 1262.2,1374.1 314.8,1076.9" fill="#00e1ff" stroke="#00e1ff"/><polygon points="314.8,1076.9 1262.2,1374.1 1262.4,1366.3 314.6,1070" fill="#00eaff" stroke="#00eaff"/><polygon points="314.6,1070 1262.4,1366.3 1262.5,1358.5 314.4,1063.2" fill="#00f4ff" stroke="#00f4ff"/><polygon points="314.4,1063.2 1262.5,1358.5 1262.6,1350.6 314.2,1056.3" fill="#00feff" stroke="#00feff"/><polygon points="314.2,1056.3 1262.6,1350.6 1262.8,1342.8 314,1049.5" fill="#00ffe7" stroke="#00ffe7"/><polygon points="314,1049.5 1262.8,1342.8 1262.9,1334.9 313.8,1042.6" fill="#00ffcd" stroke="#00ffcd"/><polygon points="313.8,1042.6 1262.9,1334.9 1263.1,1327.1 313.6,1035.7" fill="#00ffb2" stroke="#00ffb2"/><polygon points="313.6,1035.7 1263.1,1327.1 1263.2,1319.2 313.4,1028.9" fill="#00ff98" stroke="#00ff98"/><polygon points="313.4,1028.9 1263.2,1319.2 1263.3,1311.3 313.2,1022" fill="#00ff7e" stroke="#00ff7e"/><polygon points="313.2,1022 1263.3,1311.3 1263.5,1303.4 313,1015.1" fill="#00ff49" stroke="#00ff49"/><polygon points="313,1015.1 1263.5,1303.4 1263.6,1295.6 312.8,1008.2" fill="#00ff00" stroke="#00ff00"/><polygon points="312.8,1008.2 1263.6,1295.6 1263.8,1287.7 312.6,1001.3" fill="#00ff00" stroke="#00ff00"/><polygon points="312.6,1001.3 1263.8,1287.7 1263.9,1279.8 312.4,994.5" fill="#00ff00" stroke="#00ff00"/><polygon points="312.4,994.5 1263.9,1279.8 1264,1271.9 312.2,987.6" fill="#00ff00" stroke="#00ff00"/><polygon points="312.2,987.6 1264,1271.9 1264.2,1264 312,980.7" fill="#00ff00" stroke="#00ff00"/><polygon points="312,980.7 1264.2,1264 1264.3,1256.1 311.8,973.7" fill="#00ff00" stroke="#00ff00"/><polygon points="311.8,973.7 1264.3,1256.1 1264.5,1248.1 311.6,966.8" fill="#00ff00" stroke="#00ff00"/><polygon points="311.6,966.8 1264.5,1248.1 1264.6,1240.2 311.4,959.9" fill="#00ff00" stroke="#00ff00"/><polygon points="311.4,959.9 1264.6,1240.2 1264.7,1232.3 311.2,953" fill="#00ff00" stroke="#00ff00"/><polygon points="311.2,953 1264.7,1232.3 1264.9,1224.3 311,946.1" fill="#00ff00" stroke="#00ff00"/><polygon points="311,946.1 1264.9,1224.3 1265,1216.4 310.8,939.2" fill="#00ff00" stroke="#00ff00"/><polygon points="310.8,939.2 1265,1216.4 1265.2,1208.4 310.6,932.2" fill="#00ff00" stroke="#00ff00"/><polygon points="310.6,932.2 1265.2,1208.4 1265.3,1200.5 310.4,925.3" fill="#00ff00" stroke="#00ff00"/><polygon points="310.4,925.3 1265.3,1200.5 1265.5,1192.5 310.2,918.3" fill="#00ff00" stroke="#00ff00"/><polygon points="310.2,918.3 1265.5,1192.5 1265.6,1184.5 310,911.4" fill="#00ff00" stroke="#00ff00"/><polygon points="310,911.4 1265.6,1184.5 1265.7,1176.6 309.8,904.4" fill="#64ff00" stroke="#64ff00"/><polygon points="309.8,904.4 1265.7,1176.6 1265.9,1168.6 309.6,897.5" fill="#80ff00" stroke="#80ff00"/><polygon points="309.6,897.5 1265.9,1168.6 1266,1160.6 309.4,890.5" fill="#89ff00" stroke="#89ff00"/><polygon points="309.4,890.5 1266,1160.6 1266.2,1152.6 309.2,883.5" fill="#93ff00" stroke="#93ff00"/><polygon points="309.2,883.5 1266.2,1152.6 1266.3,1144.6 309,876.6" fill="#9cff00" stroke="#9cff00"/><polygon points="309,876.6 1266.3,1144.6 1266.5,1136.6 308.8,869.6" fill="#a5ff00" stroke="#a5ff00"/><polygon points="308.8,869.6 1266.5,1136.6 1266.6,1128.6 308.6,862.6" fill="#afff00" stroke="#afff00"/><polygon points="308.6,862.6 1266.6,1128.6 1266.7,1120.5 308.4,855.6" fill="#b8ff00" stroke="#b8ff00"/><polygon points="308.4,855.6 1266.7,1120.5 1266.9,1112.5 308.2,848.6" fill="#c2ff00" stroke="#c2ff00"/><polygon points="308.2,848.6 1266.9,1112.5 1267,1104.5 308,841.7" fill="#cbff00" stroke="#cbff00"/><polygon points="308,841.7 1267,1104.5 1267.2,1096.4 307.8,834.7" fill="#d5ff00" stroke="#d5ff00"/><polygon points="307.8,834.7 1267.2,1096.4 1267.3,1088.4 307.6,827.6" fill="#deff00" stroke="#deff00"/><polygon points="307.6,827.6 1267.3,1088.4 1267.5,1080.4 307.4,820.6" fill="#e7ff00" stroke="#e7ff00"/><polygon points="307.4,820.6 1267.5,1080.4 1267.6,1072.3 307.2,813.6" fill="#f1ff00" stroke="#f1ff00"/><polygon points="307.2,813.6 1267.6,1072.3 1267.7,1064.2 307,806.6" fill="#faff00" stroke="#faff00"/><polygon points="307,806.6 1267.7,1064.2 1267.9,1056.2 306.8,799.6" fill="#fff900" stroke="#fff900"/><polygon points="306.8,799.6 1267.9,1056.2 1268,1048.1 306.6,792.6" fill="#ffee00" stroke="#ffee00"/><polygon points="306.6,792.6 1268,1048.1 1268.2,1040 306.4,785.5" fill="#ffe300" stroke="#ffe300"/><polygon points="306.4,785.5 1268.2,1040 1268.3,1031.9 306.2,778.5" fill="#ffd800" stroke="#ffd800"/><polygon points="306.2,778.5 1268.3,1031.9 1268.5,1023.8 306,771.4" fill="#ffcd00" stroke="#ffcd00"/><polygon points="306,771.4 1268.5,1023.8 1268.6,1015.7 305.8,764.4" fill="#ffc200" stroke="#ffc200"/><polygon points="305.8,764.4 1268.6,1015.7 1268.8,1007.6 305.6,757.3" fill="#ffb700" stroke="#ffb700"/><polygon points="305.6,757.3 1268.8,1007.6 1268.9,999.5 305.4,750.3" fill="#ffac00" stroke="#ffac00"/><polygon points="305.4,750.3 1268.9,999.5 1269,991.4 305.2,743.2" fill="#ffa200" stroke="#ffa200"/><polygon points="305.2,743.2 1269,991.4 1269.2,983.2 305,736.2" fill="#ff9800" stroke="#ff9800"/><polygon points="305,736.2 1269.2,983.2 1269.3,975.1 304.8,729.1" fill="#ff8e00" stroke="#ff8e00"/><polygon points="304.8,729.1 1269.3,975.1 1269.5,967 304.6,722" fill="#ff8500" stroke="#ff8500"/><polygon points="304.6,722 1269.5,967 1269.6,958.8 304.4,714.9" fill="#ff7b00" stroke="#ff7b00"/><polygon points="304.4,714.9 1269.6,958.8 1269.8,950.6 304.2,707.8" fill="#ff7200" stroke="#ff7200"/><polygon points="304.2,707.8 1269.8,950.6 1269.9,942.5 304,700.8" fill="#ff6800" stroke="#ff6800"/><polygon points="304,700.8 1269.9,942.5 1270.1,934.3 303.8,693.7" fill="#ff5f00" stroke="#ff5f00"/><polygon points="303.8,693.7 1270.1,934.3 1270.2,926.1 303.6,686.6" fill="#ff5600" stroke="#ff5600"/><polygon points="303.6,686.6 1270.2,926.1 1270.4,918 303.4,679.5" fill="#ff4d00" stroke="#ff4d00"/><polygon points="303.4,679.5 1270.4,918 1270.5,909.8 303.2,672.3" fill="#ff4400" stroke="#ff4400"/><polygon points="303.2,672.3 1270.5,909.8 1270.6,901.6 303,665.2" fill="#ff3b00" stroke="#ff3b00"/><polygon points="303,665.2 1270.6,901.6 1270.8,893.4 302.8,658.1" fill="#ff3200" stroke="#ff3200"/><polygon points="302.8,658.1 1270.8,893.4 1270.9,885.2 302.6,651" fill="#ff2900" stroke="#ff2900"/><polygon points="302.6,651 1270.9,885.2 1271.1,877 302.4,643.9" fill="#ff2000" stroke="#ff2000"/><polygon points="302.4,643.9 1271.1,877 1271.2,868.7 302.2,636.7" fill="#ff1700" stroke="#ff1700"/><polygon points="302.2,636.7 1271.2,868.7 1271.4,860.5 302,629.6" fill="#ff0e00" stroke="#ff0e00"/><polygon points="302,629.6 1271.4,860.5 1271.5,852.3 301.8,622.4" fill="#ff0500" stroke="#ff0500"/><polygon points="301.8,622.4 1271.5,852.3 1271.7,844 301.6,615.3" fill="#ff0000" stroke="#ff0000"/><polygon points="301.6,615.3 1271.7,844 1271.8,835.8 301.3,608.1" fill="#ff0000" stroke="#ff0000"/><polygon points="301.3,608.1 1271.8,835.8 1272,827.6 301.1,601" fill="#ff0000" stroke="#ff0000"/><polygon points="301.1,601 1272,827.6 1272.1,819.3 300.9,593.8" fill="#ff0000" stroke="#ff0000"/><polygon points="300.9,593.8 1272.1,819.3 1272.3,811 300.7,586.7" fill="#ff0000" stroke="#ff0000"/><polygon points="300.7,586.7 1272.3,811 1272.4,802.8 300.5,579.5" fill="#ff0000" stroke="#ff0000"/><polygon points="300.5,579.5 1272.4,802.8 1272.6,794.5 300.3,572.3" fill="#ff0000" stroke="#ff0000"/><polygon points="300.3,572.3 1272.6,794.5 1272.7,786.2 300.1,565.1" fill="#ff0000" stroke="#ff0000"/><polygon points="300.1,565.1 1272.7,786.2 1272.9,777.9 299.9,557.9" fill="#ff0000" stroke="#ff0000"/><polygon points="299.9,557.9 1272.9,777.9 1273,769.6 299.7,550.7" fill="#ff0000" stroke="#ff0000"/><polygon points="299.7,550.7 1273,769.6 1273.2,761.3 299.5,543.5" fill="#ff0000" stroke="#ff0000"/><polygon points="299.5,543.5 1273.2,761.3 1273.3,753 299.3,536.3" fill="#ff0000" stroke="#ff0000"/><polygon points="299.3,536.3 1273.3,753 1273.4,744.7 299.1,529.1" fill="#ff0000" stroke="#ff0000"/><polygon points="299.1,529.1 1273.4,744.7 1273.6,736.3 298.9,521.9" fill="#ff0000" stroke="#ff0000"/><polygon points="298.9,521.9 1273.6,736.3 1273.7,728 298.7,514.7" fill="#ff0000" stroke="#ff0000"/><polygon points="298.7,514.7 1273.7,728 1273.9,719.7 298.5,507.5" fill="#ff0000" stroke="#ff0000"/><polygon points="298.5,507.5 1273.9,719.7 1274,711.3 298.3,500.3" fill="#ff0000" stroke="#ff0000"/><polygon points="298.3,500.3 1274,711.3 1274.2,703 298.1,493" fill="#ff0000" stroke="#ff0000"/><polygon points="298.1,493 1274.2,703 1274.3,694.6 297.8,485.8" fill="#ff0000" stroke="#ff0000"/><polygon points="297.8,485.8 1274.3,694.6 1274.5,686.3 297.6,478.5" fill="#ff0000" stroke="#ff0000"/><polygon points="297.6,478.5 1274.5,686.3 1274.6,677.9 297.4,471.3" fill="#ff0000" stroke="#ff0000"/><polygon points="297.4,471.3 1274.6,677.9 1274.8,669.5 297.2,464" fill="#ff0000" stroke="#ff0000"/><polygon points="297.2,464 1274.8,669.5 1274.9,661.1 297,456.8" fill="#ff0000" stroke="#ff0000"/><polygon points="297,456.8 1274.9,661.1 1275.1,652.7 296.8,449.5" fill="#ff0000" stroke="#ff0000"/><polygon points="296.8,449.5 1275.1,652.7 1275.2,644.3 296.6,442.3" fill="#ff0000" stroke="#ff0000"/><polygon points="296.6,442.3 1275.2,644.3 1275.4,635.9 296.4,435" fill="#ff0000" stroke="#ff0000"/><polygon points="296.4,435 1275.4,635.9 1275.5,627.5 296.2,427.7" fill="#ff0000" stroke="#ff0000"/><polygon points="296.2,427.7 1275.5,627.5 1275.7,619.1 296,420.4" fill="#ff0000" stroke="#ff0000"/><polygon points="296,420.4 1275.7,619.1 1275.8,610.7 295.8,413.1" fill="#ff0000" stroke="#ff0000"/><polygon points="295.8,413.1 1275.8,610.7 1276,602.2 295.6,405.9" fill="#f90000" stroke="#f90000"/><polygon points="295.6,405.9 1276,602.2 1276.1,593.8 295.3,398.6" fill="#f40000" stroke="#f40000"/><polygon points="295.3,398.6 1276.1,593.8 1276.3,585.3 295.1,391.3" fill="#ee0000" stroke="#ee0000"/><polygon points="295.1,391.3 1276.3,585.3 1276.4,576.9 294.9,383.9" fill="#e90000" stroke="#e90000"/><polygon points="294.9,383.9 1276.4,576.9 1276.6,568.4 294.7,376.6" fill="#e40000" stroke="#e40000"/><polygon points="294.7,376.6 1276.6,568.4 1276.7,560 294.5,369.3" fill="#de0000" stroke="#de0000"/><polygon points="294.5,369.3 1276.7,560 1276.9,551.5 294.3,362" fill="#d90000" stroke="#d90000"/><polygon points="294.3,362 1276.9,551.5 1277,543 294.1,354.7" fill="#d30000" stroke="#d30000"/><polygon points="294.1,354.7 1277,543 1277.2,534.5 293.9,347.3" fill="#ce0000" stroke="#ce0000"/><polygon points="293.9,347.3 1277.2,534.5 1277.4,526 293.7,340" fill="#c80000" stroke="#c80000"/><polygon points="293.7,340 1277.4,526 1277.5,517.5 293.5,332.7" fill="#c30000" stroke="#c30000"/><polygon points="293.5,332.7 1277.5,517.5 1277.7,509 293.2,325.3" fill="#be0000" stroke="#be0000"/><polygon points="293.2,325.3 1277.7,509 1277.8,500.5 293,318" fill="#b80000" stroke="#b80000"/><polygon points="293,318 1277.8,500.5 1278,492 292.8,310.6" fill="#b30000" stroke="#b30000"/><polygon points="292.8,310.6 1278,492 1278.1,483.5 292.6,303.2" fill="#ae0000" stroke="#ae0000"/><polygon points="292.6,303.2 1278.1,483.5 1278.2,480.2 292.5,300.4" fill="#aa0000" stroke="#aa0000"/><polygon points="292.5,300.4 295.1,300.9 297.6,301.3 300.1,301.8 302.7,302.3 306.1,302.9 309.5,303.5 313.7,304.3 318,305 326.5,306.6 335,308.2 343.6,309.7 747.1,383.3 1209.8,467.7 1221.1,469.8 1232.4,471.8 1243.8,473.9 1249.5,475 1255.2,476 1260.9,477.1 1266.7,478.1 1271.3,478.9 1274.7,479.6 1278.2,480.2 1278.2,476.9 1274.8,476.3 1271.3,475.7 1266.7,474.8 1261,473.8 1255.3,472.7 1249.6,471.7 1243.9,470.7 1232.5,468.6 1221.1,466.5 1209.8,464.5 747.1,380.3 343.5,306.9 334.9,305.3 326.4,303.8 317.9,302.2 313.6,301.4 309.4,300.7 306,300.1 302.6,299.4 300.1,299 297.5,298.5 295,298.1 292.5,297.6" fill="#a80000" stroke="#a80000"/><polygon points="292.5,297.6 295,298.1 297.5,298.5 300.1,299 302.6,299.4 306,300.1 309.4,300.7 313.6,301.4 317.9,302.2 326.4,303.8 334.9,305.3 343.5,306.9 747.1,380.3 1209.8,464.5 1221.1,466.5 1232.5,468.6 1243.9,470.7 1249.6,471.7 1255.3,472.7 1261,473.8 1266.7,474.8 1271.3,475.7 1274.8,476.3 1278.2,476.9 1278.3,473.7 1274.8,473 1271.4,472.4 1266.8,471.6 1261.1,470.5 1255.3,469.5 1249.6,468.5 1243.9,467.4 1232.5,465.4 1221.2,463.3 1209.9,461.2 747.1,377.3 343.4,304 334.9,302.5 326.3,300.9 317.8,299.4 313.5,298.6 309.3,297.8 305.9,297.2 302.5,296.6 300,296.2 297.4,295.7 294.9,295.2 292.4,294.8" fill="#a60000" stroke="#a60000"/><polygon points="292.4,294.8 294.9,295.2 297.4,295.7 300,296.2 302.5,296.6 305.9,297.2 309.3,297.8 313.5,298.6 317.8,299.4 326.3,300.9 334.9,302.5 343.4,304 747.1,377.3 1209.9,461.2 1221.2,463.3 1232.5,465.4 1243.9,467.4 1249.6,468.5 1255.3,469.5 1261.1,470.5 1266.8,471.6 1271.4,472.4 1274.8,473 1278.3,473.7 1278.3,470.4 1274.9,469.8 1271.4,469.1 1266.8,468.3 1261.1,467.3 1255.4,466.2 1249.7,465.2 1244,464.2 1232.6,462.1 1221.2,460.1 1209.9,458 747,374.2 343.4,301.2 334.8,299.6 326.2,298.1 317.7,296.6 313.5,295.8 309.2,295 305.8,294.4 302.4,293.8 299.9,293.3 297.4,292.9 294.8,292.4 292.3,291.9" fill="#a40000" stroke="#a40000"/><polygon points="292.3,291.9 294.8,292.4 297.4,292.9 299.9,293.3 302.4,293.8 305.8,294.4 309.2,295 313.5,295.8 317.7,296.6 326.2,298.1 334.8,299.6 343.4,301.2 747,374.2 1209.9,458 1221.2,460.1 1232.6,462.1 1244,464.2 1249.7,465.2 1255.4,466.2 1261.1,467.3 1266.8,468.3 1271.4,469.1 1274.9,469.8 1278.3,470.4 1278.4,467.1 1274.9,466.5 1271.5,465.9 1266.9,465 1261.2,464 1255.4,463 1249.7,461.9 1244,460.9 1232.6,458.9 1221.3,456.8 1210,454.8 747,371.2 343.3,298.3 334.7,296.8 326.2,295.3 317.6,293.7 313.4,292.9 309.1,292.2 305.7,291.6 302.4,291 299.8,290.5 297.3,290 294.7,289.6 292.2,289.1" fill="#a20000" stroke="#a20000"/><polygon points="292.2,289.1 294.7,289.6 297.3,290 299.8,290.5 302.4,291 305.7,291.6 309.1,292.2 313.4,292.9 317.6,293.7 326.2,295.3 334.7,296.8 343.3,298.3 747,371.2 1210,454.8 1221.3,456.8 1232.6,458.9 1244,460.9 1249.7,461.9 1255.4,463 1261.2,464 1266.9,465 1271.5,465.9 1274.9,466.5 1278.4,467.1 1278.5,463.8 1275,463.2 1271.6,462.6 1267,461.8 1261.2,460.7 1255.5,459.7 1249.8,458.7 1244.1,457.7 1232.7,455.6 1221.3,453.6 1210,451.5 747,368.2 343.2,295.5 334.6,294 326.1,292.4 317.6,290.9 313.3,290.1 309.1,289.3 305.7,288.7 302.3,288.1 299.7,287.7 297.2,287.2 294.7,286.8 292.1,286.3" fill="#a00000" stroke="#a00000"/><polygon points="292.1,286.3 294.7,286.8 297.2,287.2 299.7,287.7 302.3,288.1 305.7,288.7 309.1,289.3 313.3,290.1 317.6,290.9 326.1,292.4 334.6,294 343.2,295.5 747,368.2 1210,451.5 1221.3,453.6 1232.7,455.6 1244.1,457.7 1249.8,458.7 1255.5,459.7 1261.2,460.7 1267,461.8 1271.6,462.6 1275,463.2 1278.5,463.8 1278.5,460.6 1275.1,460 1271.6,459.3 1267,458.5 1261.3,457.5 1255.5,456.4 1249.8,455.4 1244.1,454.4 1232.7,452.4 1221.4,450.3 1210.1,448.3 747,365.1 343.1,292.7 334.6,291.1 326,289.6 317.5,288 313.2,287.3 309,286.5 305.6,285.9 302.2,285.3 299.7,284.8 297.1,284.4 294.6,283.9 292,283.5" fill="#9e0000" stroke="#9e0000"/><polygon points="292,283.5 294.6,283.9 297.1,284.4 299.7,284.8 302.2,285.3 305.6,285.9 309,286.5 313.2,287.3 317.5,288 326,289.6 334.6,291.1 343.1,292.7 747,365.1 1210.1,448.3 1221.4,450.3 1232.7,452.4 1244.1,454.4 1249.8,455.4 1255.5,456.4 1261.3,457.5 1267,458.5 1271.6,459.3 1275.1,460 1278.5,460.6 1278.6,457.3 1275.1,456.7 1271.7,456.1 1267.1,455.2 1261.3,454.2 1255.6,453.2 1249.9,452.2 1244.2,451.1 1232.8,449.1 1221.4,447.1 1210.1,445 746.9,362.1 343.1,289.8 334.5,288.3 325.9,286.7 317.4,285.2 313.2,284.4 308.9,283.7 305.5,283.1 302.1,282.5 299.6,282 297,281.6 294.5,281.1 292,280.7" fill="#9c0000" stroke="#9c0000"/><polygon points="292,280.7 294.5,281.1 297,281.6 299.6,282 302.1,282.5 305.5,283.1 308.9,283.7 313.2,284.4 317.4,285.2 325.9,286.7 334.5,288.3 343.1,289.8 746.9,362.1 1210.1,445 1221.4,447.1 1232.8,449.1 1244.2,451.1 1249.9,452.2 1255.6,453.2 1261.3,454.2 1267.1,455.2 1271.7,456.1 1275.1,456.7 1278.6,457.3 1278.6,454 1275.2,453.4 1271.7,452.8 1267.1,452 1261.4,450.9 1255.7,449.9 1249.9,448.9 1244.2,447.9 1232.8,445.8 1221.5,443.8 1210.1,441.8 746.9,359.1 343,287 334.4,285.4 325.9,283.9 317.3,282.4 313.1,281.6 308.8,280.9 305.4,280.2 302,279.6 299.5,279.2 297,278.7 294.4,278.3 292,280.4" fill="#9a0000" stroke="#9a0000"/><polygon points="292,280.4 294.4,278.3 297,278.7 299.5,279.2 302,279.6 305.4,280.2 308.8,280.9 313.1,281.6 317.3,282.4 325.9,283.9 334.4,285.4 343,287 746.9,359.1 1210.1,441.8 1221.5,443.8 1232.8,445.8 1244.2,447.9 1249.9,448.9 1255.7,449.9 1261.4,450.9 1267.1,452 1271.7,452.8 1275.2,453.4 1278.6,454 1278.7,452.7 1275.2,450.1 1271.8,449.5 1267.2,448.7 1261.4,447.7 1255.7,446.7 1250,445.6 1244.3,444.6 1232.9,442.6 1221.5,440.6 1210.2,438.5 746.9,356 342.9,284.1 334.3,282.6 325.8,281.1 317.3,279.5 313,278.8 308.7,278 305.3,277.4 302,276.8 299.4,276.4 296.9,275.9 294.3,275.5 292,280.4" fill="#980000" stroke="#980000"/><polygon points="292,280.4 294.3,275.5 296.9,275.9 299.4,276.4 302,276.8 305.3,277.4 308.7,278 313,278.8 317.3,279.5 325.8,281.1 334.3,282.6 342.9,284.1 746.9,356 1210.2,438.5 1221.5,440.6 1232.9,442.6 1244.3,444.6 1250,445.6 1255.7,446.7 1261.4,447.7 1267.2,448.7 1271.8,449.5 1275.2,450.1 1278.7,452.7 1278.7,452.7 1275.3,446.9 1271.8,446.2 1267.2,445.4 1261.5,444.4 1255.8,443.4 1250,442.4 1244.3,441.4 1232.9,439.3 1221.6,437.3 1210.2,435.3 746.9,353 342.8,281.3 334.3,279.7 325.7,278.2 317.2,276.7 312.9,275.9 308.7,275.2 305.3,274.6 301.9,274 299.3,273.5 296.8,273.1 294.3,272.6 292,280.4" fill="#960000" stroke="#960000"/><polygon points="292,280.4 294.3,272.6 296.8,273.1 299.3,273.5 301.9,274 305.3,274.6 308.7,275.2 312.9,275.9 317.2,276.7 325.7,278.2 334.3,279.7 342.8,281.3 746.9,353 1210.2,435.3 1221.6,437.3 1232.9,439.3 1244.3,441.4 1250,442.4 1255.8,443.4 1261.5,444.4 1267.2,445.4 1271.8,446.2 1275.3,446.9 1278.7,452.7 1278.7,452.7 1275.4,443.6 1271.9,443 1267.3,442.2 1261.6,441.1 1255.8,440.1 1250.1,439.1 1244.4,438.1 1233,436.1 1221.6,434.1 1210.3,432.1 746.9,350 342.8,278.4 334.2,276.9 325.6,275.4 317.1,273.9 312.8,273.1 308.6,272.3 305.2,271.7 301.8,271.1 299.3,270.7 296.7,270.2 294.2,269.8 292,280.4" fill="#940000" stroke="#940000"/><polygon points="292,280.4 294.2,269.8 296.7,270.2 299.3,270.7 301.8,271.1 305.2,271.7 308.6,272.3 312.8,273.1 317.1,273.9 325.6,275.4 334.2,276.9 342.8,278.4 746.9,350 1210.3,432.1 1221.6,434.1 1233,436.1 1244.4,438.1 1250.1,439.1 1255.8,440.1 1261.6,441.1 1267.3,442.2 1271.9,443 1275.4,443.6 1278.7,452.7 1278.7,452.7 1275.4,440.3 1272,439.7 1267.4,438.9 1261.6,437.9 1255.9,436.9 1250.1,435.8 1244.4,434.8 1233,432.8 1221.7,430.8 1210.3,428.8 746.8,346.9 342.7,275.5 334.1,274 325.6,272.5 317,271 312.8,270.3 308.5,269.5 305.1,268.9 301.7,268.3 299.2,267.9 296.6,267.4 294.1,267 292,280.4" fill="#920000" stroke="#920000"/><polygon points="292,280.4 294.1,267 296.6,267.4 299.2,267.9 301.7,268.3 305.1,268.9 308.5,269.5 312.8,270.3 317,271 325.6,272.5 334.1,274 342.7,275.5 746.8,346.9 1210.3,428.8 1221.7,430.8 1233,432.8 1244.4,434.8 1250.1,435.8 1255.9,436.9 1261.6,437.9 1267.4,438.9 1272,439.7 1275.4,440.3 1278.7,452.7 1278.7,452.7 1275.5,437 1272,436.4 1267.4,435.6 1261.7,434.6 1255.9,433.6 1250.2,432.6 1244.5,431.6 1233.1,429.6 1221.7,427.6 1210.4,425.6 746.8,343.9 342.6,272.7 334,271.2 325.5,269.7 316.9,268.2 312.7,267.4 308.4,266.7 305,266.1 301.6,265.5 299.1,265 296.6,264.6 294,264.1 292,280.4" fill="#900000" stroke="#900000"/><polygon points="292,280.4 294,264.1 296.6,264.6 299.1,265 301.6,265.5 305,266.1 308.4,266.7 312.7,267.4 316.9,268.2 325.5,269.7 334,271.2 342.6,272.7 746.8,343.9 1210.4,425.6 1221.7,427.6 1233.1,429.6 1244.5,431.6 1250.2,432.6 1255.9,433.6 1261.7,434.6 1267.4,435.6 1272,436.4 1275.5,437 1278.7,452.7 1278.7,452.7 1275.5,433.7 1272.1,433.1 1267.5,432.3 1261.7,431.3 1256,430.3 1250.3,429.3 1244.5,428.3 1233.1,426.3 1221.8,424.3 1210.4,422.3 746.8,340.9 342.5,269.8 334,268.3 325.4,266.8 316.9,265.3 312.6,264.6 308.3,263.8 305,263.2 301.6,262.6 299,262.2 296.5,261.7 294,263.3 292,280.4" fill="#8e0000" stroke="#8e0000"/><polygon points="292,280.4 294,263.3 296.5,261.7 299,262.2 301.6,262.6 305,263.2 308.3,263.8 312.6,264.6 316.9,265.3 325.4,266.8 334,268.3 342.5,269.8 746.8,340.9 1210.4,422.3 1221.8,424.3 1233.1,426.3 1244.5,428.3 1250.3,429.3 1256,430.3 1261.7,431.3 1267.5,432.3 1272.1,433.1 1275.5,433.7 1278.7,452.7 1278.7,452.7 1275.5,433.5 1272.1,429.9 1267.5,429.1 1261.8,428 1256,427 1250.3,426 1244.6,425 1233.2,423 1221.8,421 1210.5,419.1 746.8,337.8 342.5,267 333.9,265.5 325.3,264 316.8,262.5 312.6,261.7 308.3,261 304.9,260.4 301.5,259.8 299,259.3 296.4,258.9 294,263.3 292,280.4" fill="#8c0000" stroke="#8c0000"/><polygon points="292,280.4 294,263.3 296.4,258.9 299,259.3 301.5,259.8 304.9,260.4 308.3,261 312.6,261.7 316.8,262.5 325.3,264 333.9,265.5 342.5,267 746.8,337.8 1210.5,419.1 1221.8,421 1233.2,423 1244.6,425 1250.3,426 1256,427 1261.8,428 1267.5,429.1 1272.1,429.9 1275.5,433.5 1278.7,452.7 1278.7,452.7 1275.5,433.5 1272.2,426.6 1267.6,425.8 1261.8,424.8 1256.1,423.8 1250.4,422.8 1244.6,421.8 1233.2,419.8 1221.9,417.8 1210.5,415.8 746.8,334.8 342.6,264.1 334,262.6 325.5,261.1 316.9,259.6 312.7,258.9 308.4,258.1 305,257.5 301.7,256.9 299.1,256.5 296.5,257.3 294,263.3 292,280.4" fill="#8a0000" stroke="#8a0000"/><polygon points="292,280.4 294,263.3 296.5,257.3 299.1,256.5 301.7,256.9 305,257.5 308.4,258.1 312.7,258.9 316.9,259.6 325.5,261.1 334,262.6 342.6,264.1 746.8,334.8 1210.5,415.8 1221.9,417.8 1233.2,419.8 1244.6,421.8 1250.4,422.8 1256.1,423.8 1261.8,424.8 1267.6,425.8 1272.2,426.6 1275.5,433.5 1278.7,452.7 1278.7,452.7 1275.5,433.5 1272.2,425.7 1267.6,422.5 1261.9,421.5 1256.1,420.5 1250.4,419.5 1244.7,418.5 1233.3,416.5 1221.9,414.5 1210.6,412.6 746.7,331.7 342.9,261.2 334.3,259.7 325.8,258.2 317.3,256.7 313,255.9 308.8,255.2 305.4,254.6 302,254 299.5,253.6 296.5,257.3 294,263.3 292,280.4" fill="#880000" stroke="#880000"/><polygon points="292,280.4 294,263.3 296.5,257.3 299.5,253.6 302,254 305.4,254.6 308.8,255.2 313,255.9 317.3,256.7 325.8,258.2 334.3,259.7 342.9,261.2 746.7,331.7 1210.6,412.6 1221.9,414.5 1233.3,416.5 1244.7,418.5 1250.4,419.5 1256.1,420.5 1261.9,421.5 1267.6,422.5 1272.2,425.7 1275.5,433.5 1278.7,452.7 1278.7,452.7 1275.5,433.5 1272.2,425.7 1267.7,419.2 1261.9,418.2 1256.2,417.2 1250.5,416.2 1244.8,415.2 1233.3,413.2 1222,411.3 1210.6,409.3 746.9,328.7 343.4,258.2 334.9,256.7 326.4,255.2 317.9,253.7 313.6,253 309.4,252.2 306,251.6 302.6,251 299.5,253.4 296.5,257.3 294,263.3 292,280.4" fill="#860000" stroke="#860000"/><polygon points="292,280.4 294,263.3 296.5,257.3 299.5,253.4 302.6,251 306,251.6 309.4,252.2 313.6,253 317.9,253.7 326.4,255.2 334.9,256.7 343.4,258.2 746.9,328.7 1210.6,409.3 1222,411.3 1233.3,413.2 1244.8,415.2 1250.5,416.2 1256.2,417.2 1261.9,418.2 1267.7,419.2 1272.2,425.7 1275.5,433.5 1278.7,452.7 1278.7,452.7 1275.5,433.5 1272.2,425.7 1267.7,418.2 1262,414.9 1256.3,413.9 1250.5,413 1244.8,412 1233.4,410 1222,408 1210.7,406 747.2,325.5 344.5,255.1 336,253.6 327.5,252.1 319,250.6 314.8,249.9 310.6,249.2 307.2,248.6 302.7,250.7 299.5,253.4 296.5,257.3 294,263.3 292,280.4" fill="#830000" stroke="#830000"/><polygon points="292,280.4 294,263.3 296.5,257.3 299.5,253.4 302.7,250.7 307.2,248.6 310.6,249.2 314.8,249.9 319,250.6 327.5,252.1 336,253.6 344.5,255.1 747.2,325.5 1210.7,406 1222,408 1233.4,410 1244.8,412 1250.5,413 1256.3,413.9 1262,414.9 1267.7,418.2 1272.2,425.7 1275.5,433.5 1278.7,452.7 1278.7,452.7 1275.5,433.5 1272.2,425.7 1267.7,418.2 1262.1,411.6 1256.4,410.6 1250.7,409.7 1244.9,408.7 1233.5,406.7 1222.2,404.7 1210.8,402.8 747.7,322.4 346.8,252.7 338.2,251.4 329.6,250 321.1,248.7 316.8,248 311.9,247.6 307.3,248.5 302.7,250.7 299.5,253.4 296.5,257.3 294,263.3 292,280.4" fill="#810000" stroke="#810000"/><polygon points="292,280.4 294,263.3 296.5,257.3 299.5,253.4 302.7,250.7 307.3,248.5 311.9,247.6 316.8,248 321.1,248.7 329.6,250 338.2,251.4 346.8,252.7 747.7,322.4 1210.8,402.8 1222.2,404.7 1233.5,406.7 1244.9,408.7 1250.7,409.7 1256.4,410.6 1262.1,411.6 1267.7,418.2 1272.2,425.7 1275.5,433.5 1278.7,452.7 1278.7,452.7 1275.5,433.5 1272.2,425.7 1267.7,418.2 1262.2,411.2 1256.7,407.3 1251,406.3 1245.3,405.3 1233.9,403.4 1222.5,401.4 1211.2,399.4 748.7,319.1 346.8,252.7 338.2,251.4 329.6,250 321.1,248.7 316.8,248 311.9,247.6 307.3,248.5 302.7,250.7 299.5,253.4 296.5,257.3 294,263.3 292,280.4" fill="#7f0000" stroke="#7f0000"/><polygon points="292,280.4 294,263.3 296.5,257.3 299.5,253.4 302.7,250.7 307.3,248.5 311.9,247.6 316.8,248 321.1,248.7 329.6,250 338.2,251.4 346.8,252.7 748.7,319.1 1211.2,399.4 1222.5,401.4 1233.9,403.4 1245.3,405.3 1251,406.3 1256.7,407.3 1262.2,411.2 1267.7,418.2 1272.2,425.7 1275.5,433.5 1278.7,452.7 1278.7,452.7 1275.5,433.5 1272.2,425.7 1267.7,418.2 1262.2,411.2 1256.9,405.7 1251.5,402.9 1245.8,401.9 1234.4,400 1223.1,398 1211.8,396 751.2,316.1 346.8,252.7 338.2,251.4 329.6,250 321.1,248.7 316.8,248 311.9,247.6 307.3,248.5 302.7,250.7 299.5,253.4 296.5,257.3 294,263.3 292,280.4" fill="#7d0000" stroke="#7d0000"/><polygon points="292,280.4 294,263.3 296.5,257.3 299.5,253.4 302.7,250.7 307.3,248.5 311.9,247.6 316.8,248 321.1,248.7 329.6,250 338.2,251.4 346.8,252.7 751.2,316.1 1211.8,396 1223.1,398 1234.4,400 1245.8,401.9 1251.5,402.9 1256.9,405.7 1262.2,411.2 1267.7,418.2 1272.2,425.7 1275.5,433.5 1278.7,452.7 1278.7,452.7 1275.5,433.5 1272.2,425.7 1267.7,418.2 1262.2,411.2 1256.9,405.7 1251.9,401.3 1246.7,398.4 1235.4,396.5 1224,394.5 1212.7,392.6 751.2,316.1 346.8,252.7 338.2,251.4 329.6,250 321.1,248.7 316.8,248 311.9,247.6 307.3,248.5 302.7,250.7 299.5,253.4 296.5,257.3 294,263.3 292,280.4" fill="#7b0000" stroke="#7b0000"/><polygon points="292,280.4 294,263.3 296.5,257.3 299.5,253.4 302.7,250.7 307.3,248.5 311.9,247.6 316.8,248 321.1,248.7 329.6,250 338.2,251.4 346.8,252.7 751.2,316.1 1212.7,392.6 1224,394.5 1235.4,396.5 1246.7,398.4 1251.9,401.3 1256.9,405.7 1262.2,411.2 1267.7,418.2 1272.2,425.7 1275.5,433.5 1278.7,452.7 1278.7,452.7 1275.5,433.5 1272.2,425.7 1267.7,418.2 1262.2,411.2 1256.9,405.7 1251.9,401.3 1247,397.8 1237.3,392.9 1226.8,390.6 1215.4,388.8 751.2,316.1 346.8,252.7 338.2,251.4 329.6,250 321.1,248.7 316.8,248 311.9,247.6 307.3,248.5 302.7,250.7 299.5,253.4 296.5,257.3 294,263.3 292,280.4" fill="#790000" stroke="#790000"/></g>
<g fill="none" stroke="#8a8a8a" stroke-opacity="0.20" stroke-width="1"><polyline points="347.2,1362.3 337.8,1019 328.1,663.9 319.7,358.4 317.8,288.3 317.3,273.4 317.1,265.9 317.2,259.6 318,254.4 319.5,250.3"/><polyline points="372,1371.2 362.9,1026.6 353.6,670.1 345.5,363.4 343.7,292.6 343.3,277.5 343.1,270 343.1,263.7 343.9,258.5 345.4,254.4"/><polyline points="396.9,1380.2 388.3,1034.3 379.3,676.3 371.6,368.4 369.8,296.9 369.4,281.7 369.2,274.2 369.3,267.8 370.1,262.6 371.6,258.5"/><polyline points="422.1,1389.3 413.8,1042 405.3,682.6 397.9,373.4 396.2,301.2 395.8,286 395.6,278.4 395.7,272 396.5,266.8 398,262.7"/><polyline points="447.4,1398.4 439.6,1049.8 431.4,689 424.4,378.5 422.8,305.5 422.4,290.3 422.3,282.6 422.4,276.2 423.2,271 424.7,266.9"/><polyline points="473,1407.6 465.6,1057.7 457.8,695.4 451.2,383.6 449.6,309.9 449.3,294.6 449.2,286.9 449.3,280.5 450.1,275.2 451.6,271.1"/><polyline points="498.8,1416.9 491.8,1065.6 484.5,701.9 478.2,388.8 476.7,314.3 476.4,299 476.3,291.3 476.4,284.8 477.2,279.5 478.7,275.3"/><polyline points="524.8,1426.3 518.2,1073.6 511.4,708.4 505.5,394 504.1,318.8 503.8,303.4 503.6,295.6 503.8,289.2 504.6,283.8 506.1,279.6"/><polyline points="551.1,1435.8 544.9,1081.7 538.5,715 533,399.2 531.7,323.3 531.4,307.8 531.3,300.1 531.4,293.5 532.2,288.2 533.8,284"/><polyline points="577.5,1445.3 571.8,1089.9 565.9,721.7 560.8,404.6 559.5,327.9 559.3,312.3 559.1,304.5 559.3,298 560.1,292.6 561.6,288.4"/><polyline points="604.2,1454.9 598.9,1098.1 593.5,728.4 588.8,409.9 587.6,332.5 587.4,316.8 587.3,309 587.4,302.4 588.2,297 589.8,292.8"/><polyline points="631.2,1464.6 626.3,1106.4 621.3,735.1 617,415.3 616,337.1 615.8,321.4 615.7,313.5 615.8,306.9 616.6,301.5 618.2,297.2"/><polyline points="658.3,1474.4 654,1114.7 649.5,742 645.6,420.8 644.6,341.8 644.4,326 644.3,318.1 644.5,311.5 645.3,306 646.9,301.7"/><polyline points="685.7,1484.3 681.9,1123.2 677.8,748.9 674.4,426.3 673.5,346.5 673.3,330.7 673.2,322.7 673.4,316.1 674.2,310.6 675.8,306.3"/><polyline points="713.4,1494.2 710,1131.7 706.5,755.8 703.4,431.9 702.7,351.3 702.5,335.4 702.4,327.4 702.6,320.7 703.5,315.2 705,310.9"/><polyline points="741.3,1504.3 738.4,1140.3 735.4,762.8 732.8,437.5 732.1,356.1 732,340.1 731.9,332.1 732.1,325.4 732.9,319.8 734.5,315.5"/><polyline points="769.4,1514.4 767,1149 764.5,769.9 762.4,443.2 761.8,361 761.7,344.9 761.7,336.8 761.8,330.1 762.7,324.5 764.3,320.2"/><polyline points="797.8,1524.7 795.9,1157.7 794,777.1 792.3,448.9 791.8,365.9 791.7,349.7 791.7,341.6 791.9,334.9 792.8,329.3 794.3,324.9"/><polyline points="826.5,1535 825.1,1166.6 823.7,784.3 822.4,454.6 822.1,370.8 822,354.6 822,346.5 822.2,339.7 823.1,334.1 824.7,329.7"/><polyline points="855.4,1545.4 854.5,1175.5 853.7,791.6 852.9,460.5 852.7,375.8 852.7,359.5 852.6,351.4 852.9,344.5 853.7,338.9 855.3,334.5"/><polyline points="884.6,1555.9 884.3,1184.5 883.9,798.9 883.6,466.4 883.6,380.9 883.6,364.5 883.5,356.3 883.8,349.4 884.7,343.8 886.3,339.3"/><polyline points="914,1566.5 914.2,1193.5 914.5,806.4 914.7,472.3 914.7,386 914.8,369.5 914.8,361.3 915,354.4 915.9,348.7 917.5,344.2"/><polyline points="943.7,1577.2 944.5,1202.7 945.3,813.9 946,478.3 946.2,391.1 946.3,374.6 946.3,366.3 946.5,359.4 947.4,353.7 949,349.2"/><polyline points="973.7,1588.1 975.1,1212 976.5,821.4 977.7,484.4 978,396.3 978.1,379.7 978.1,371.4 978.4,364.4 979.3,358.7 980.9,354.2"/><polyline points="1004,1599 1005.9,1221.3 1007.9,829.1 1009.7,490.5 1010.1,401.6 1010.2,384.9 1010.2,376.5 1010.5,369.5 1011.4,363.8 1013,359.2"/><polyline points="1034.5,1610 1037.1,1230.7 1039.7,836.8 1041.9,496.7 1042.5,406.9 1042.6,390.1 1042.7,381.7 1043,374.7 1043.9,368.9 1045.5,364.3"/><polyline points="1065.4,1621.1 1068.5,1240.2 1071.7,844.6 1074.5,502.9 1075.3,412.2 1075.4,395.4 1075.5,387 1075.8,379.9 1076.7,374.1 1078.3,369.5"/><polyline points="1096.5,1632.3 1100.2,1249.8 1104.1,852.4 1107.5,509.2 1108.3,417.6 1108.5,400.7 1108.6,392.3 1108.9,385.1 1109.8,379.3 1111.4,374.7"/><polyline points="1127.9,1643.6 1132.3,1259.5 1136.8,860.4 1140.7,515.6 1141.7,423.1 1141.9,406.1 1142,397.6 1142.3,390.4 1143.3,384.6 1144.9,379.9"/><polyline points="1159.6,1655 1164.6,1269.3 1169.8,868.4 1174.3,522 1175.5,428.6 1175.7,411.5 1175.8,403 1176.1,395.8 1177.1,389.9 1178.7,385.2"/><polyline points="1191.6,1666.6 1197.3,1279.2 1203.1,876.5 1208.2,528.5 1209.6,434.2 1209.8,417 1209.9,408.4 1210.3,401.2 1211.2,395.3 1212.9,390.6"/><polyline points="1223.9,1678.2 1230.2,1289.2 1236.8,884.7 1242.5,535 1244,442.6 1244.2,425.4 1244.4,416.8 1244.5,409.6 1245.2,403.7 1246.1,399.1"/></g>
<g stroke="#101010" stroke-width="1.6"><line x1="319.6" y1="1246.4" x2="1258.8" y2="1567.9" stroke-opacity="0.35"/><line x1="316.5" y1="1138.2" x2="1261" y2="1444.3" stroke-opacity="0.6"/><line x1="313.4" y1="1028.9" x2="1263.2" y2="1319.2" stroke-opacity="0.8"/><line x1="310.2" y1="918.3" x2="1265.5" y2="1192.5" stroke-opacity="0.8"/><line x1="307" y1="806.6" x2="1267.7" y2="1064.2" stroke-opacity="0.8"/><line x1="303.8" y1="693.7" x2="1270.1" y2="934.3" stroke-opacity="0.8"/><line x1="300.5" y1="579.5" x2="1272.4" y2="802.8" stroke-opacity="0.25"/><line x1="297.2" y1="464" x2="1274.8" y2="669.5" stroke-opacity="0.3"/><line x1="293.9" y1="347.3" x2="1277.2" y2="534.5" stroke-opacity="0.4"/></g>
<line x1="255.8" y1="1378.9" x2="208.1" y2="179.8" stroke="#000" stroke-width="3.6" stroke-linecap="square"/>
<line x1="255.8" y1="1378.9" x2="1192.1" y2="1724.2" stroke="#000" stroke-width="3.6" stroke-linecap="square"/>
<line x1="1192.1" y1="1724.2" x2="1939.4" y2="1327.3" stroke="#000" stroke-width="3.6" stroke-linecap="square"/>
<line x1="255.8" y1="1378.9" x2="237.8" y2="1385.7" stroke="#000" stroke-width="3.1"/>
<text transform="matrix(1.0351 -0.3963 0.0519 1.2603 229.6 1405.5)" font-size="40" text-anchor="end" x="0" y="0">0.00</text>
<line x1="248.2" y1="1188.7" x2="230" y2="1195" stroke="#000" stroke-width="3.1"/>
<text transform="matrix(1.0467 -0.3646 0.0529 1.2849 221.8 1214.9)" font-size="40" text-anchor="end" x="0" y="0">0.05</text>
<line x1="240.5" y1="994.9" x2="222.1" y2="1000.6" stroke="#000" stroke-width="3.1"/>
<text transform="matrix(1.0585 -0.3315 0.0540 1.3104 213.8 1020.5)" font-size="40" text-anchor="end" x="0" y="0">0.10</text>
<line x1="232.7" y1="797.2" x2="214" y2="802.3" stroke="#000" stroke-width="3.1"/>
<text transform="matrix(1.0706 -0.2971 0.0550 1.3366 205.6 822.2)" font-size="40" text-anchor="end" x="0" y="0">0.15</text>
<line x1="224.6" y1="595.5" x2="205.8" y2="600" stroke="#000" stroke-width="3.1"/>
<text transform="matrix(1.0829 -0.2612 0.0561 1.3635 197.3 620)" font-size="40" text-anchor="end" x="0" y="0">0.20</text>
<line x1="216.5" y1="389.8" x2="197.4" y2="393.6" stroke="#000" stroke-width="3.1"/>
<text transform="matrix(1.0956 -0.2238 0.0573 1.3913 188.8 413.6)" font-size="40" text-anchor="end" x="0" y="0">0.25</text>
<line x1="208.1" y1="179.8" x2="188.8" y2="183" stroke="#000" stroke-width="3.1"/>
<text transform="matrix(1.1085 -0.1847 0.0585 1.4200 180.1 203.1)" font-size="40" text-anchor="end" x="0" y="0">0.30</text>
<line x1="255.8" y1="1378.9" x2="236.4" y2="1386.3" stroke="#000" stroke-width="3.1"/>
<line x1="296.4" y1="1393.9" x2="286.7" y2="1397.6" stroke="#000" stroke-width="3.1"/>
<text transform="matrix(1.0418 -0.3587 0.9320 0.3472 240.4 1394.8)" font-size="40" text-anchor="end" x="0" y="0">0.000</text>
<line x1="337.6" y1="1409.1" x2="318.2" y2="1416.6" stroke="#000" stroke-width="3.1"/>
<line x1="379.4" y1="1424.5" x2="369.7" y2="1428.3" stroke="#000" stroke-width="3.1"/>
<text transform="matrix(1.0425 -0.3690 0.9586 0.3571 322.6 1425.4)" font-size="40" text-anchor="end" x="0" y="0">0.002</text>
<line x1="421.7" y1="1440.1" x2="402.3" y2="1447.9" stroke="#000" stroke-width="3.1"/>
<line x1="464.7" y1="1455.9" x2="455" y2="1459.9" stroke="#000" stroke-width="3.1"/>
<text transform="matrix(1.0429 -0.3797 0.9863 0.3674 407.2 1456.9)" font-size="40" text-anchor="end" x="0" y="0">0.004</text>
<line x1="508.3" y1="1472" x2="488.9" y2="1480" stroke="#000" stroke-width="3.1"/>
<line x1="552.5" y1="1488.3" x2="542.8" y2="1492.4" stroke="#000" stroke-width="3.1"/>
<text transform="matrix(1.0428 -0.3910 1.0152 0.3782 494.2 1489.3)" font-size="40" text-anchor="end" x="0" y="0">0.006</text>
<line x1="597.4" y1="1504.9" x2="578" y2="1513.1" stroke="#000" stroke-width="3.1"/>
<line x1="642.9" y1="1521.7" x2="633.3" y2="1525.9" stroke="#000" stroke-width="3.1"/>
<text transform="matrix(1.0422 -0.4027 1.0455 0.3895 583.8 1522.7)" font-size="40" text-anchor="end" x="0" y="0">0.008</text>
<line x1="689.1" y1="1538.7" x2="669.8" y2="1547.2" stroke="#000" stroke-width="3.1"/>
<line x1="736" y1="1556" x2="726.4" y2="1560.3" stroke="#000" stroke-width="3.1"/>
<text transform="matrix(1.0412 -0.4150 1.0771 0.4013 676 1557.1)" font-size="40" text-anchor="end" x="0" y="0">0.010</text>
<line x1="783.6" y1="1573.6" x2="764.4" y2="1582.4" stroke="#000" stroke-width="3.1"/>
<line x1="832" y1="1591.4" x2="822.4" y2="1595.8" stroke="#000" stroke-width="3.1"/>
<text transform="matrix(1.0396 -0.4278 1.1102 0.4136 771.1 1592.5)" font-size="40" text-anchor="end" x="0" y="0">0.012</text>
<line x1="881" y1="1609.5" x2="861.9" y2="1618.6" stroke="#000" stroke-width="3.1"/>
<line x1="930.9" y1="1627.9" x2="921.4" y2="1632.5" stroke="#000" stroke-width="3.1"/>
<text transform="matrix(1.0374 -0.4412 1.1448 0.4265 869.1 1629)" font-size="40" text-anchor="end" x="0" y="0">0.014</text>
<line x1="981.5" y1="1646.5" x2="962.5" y2="1655.9" stroke="#000" stroke-width="3.1"/>
<line x1="1032.9" y1="1665.5" x2="1023.4" y2="1670.3" stroke="#000" stroke-width="3.1"/>
<text transform="matrix(1.0345 -0.4553 1.1811 0.4400 970.3 1666.7)" font-size="40" text-anchor="end" x="0" y="0">0.016</text>
<line x1="1085.1" y1="1684.8" x2="1066.2" y2="1694.4" stroke="#000" stroke-width="3.1"/>
<line x1="1138.2" y1="1704.3" x2="1128.8" y2="1709.2" stroke="#000" stroke-width="3.1"/>
<text transform="matrix(1.0309 -0.4700 1.2191 0.4542 1074.6 1705.6)" font-size="40" text-anchor="end" x="0" y="0">0.018</text>
<line x1="1192.1" y1="1724.2" x2="1173.3" y2="1734.2" stroke="#000" stroke-width="3.1"/>
<text transform="matrix(1.0266 -0.4855 1.2590 0.4690 1182.3 1745.7)" font-size="40" text-anchor="end" x="0" y="0">0.020</text>
<line x1="1192.1" y1="1724.2" x2="1215" y2="1732.7" stroke="#000" stroke-width="3.1"/>
<line x1="1279.5" y1="1677.8" x2="1290.9" y2="1681.9" stroke="#000" stroke-width="3.1"/>
<text transform="matrix(1.1975 0.4443 -1.1406 0.6148 1216.5 1747.8)" font-size="40" text-anchor="start" x="0" y="0">0.00000</text>
<line x1="1363.7" y1="1633.1" x2="1386.3" y2="1640.9" stroke="#000" stroke-width="3.1"/>
<line x1="1444.8" y1="1590" x2="1456" y2="1593.8" stroke="#000" stroke-width="3.1"/>
<text transform="matrix(1.1821 0.4119 -1.0570 0.5698 1388.7 1655)" font-size="40" text-anchor="start" x="0" y="0">0.00002</text>
<line x1="1523" y1="1548.5" x2="1545.3" y2="1555.8" stroke="#000" stroke-width="3.1"/>
<line x1="1598.5" y1="1508.4" x2="1609.6" y2="1511.9" stroke="#000" stroke-width="3.1"/>
<text transform="matrix(1.1657 0.3829 -0.9823 0.5295 1548.6 1568.8)" font-size="40" text-anchor="start" x="0" y="0">0.00004</text>
<line x1="1671.4" y1="1469.7" x2="1693.4" y2="1476.5" stroke="#000" stroke-width="3.1"/>
<line x1="1741.8" y1="1432.3" x2="1752.7" y2="1435.6" stroke="#000" stroke-width="3.1"/>
<text transform="matrix(1.1487 0.3570 -0.9152 0.4933 1697.3 1488.6)" font-size="40" text-anchor="start" x="0" y="0">0.00006</text>
<line x1="1809.9" y1="1396.1" x2="1831.5" y2="1402.5" stroke="#000" stroke-width="3.1"/>
<line x1="1875.7" y1="1361.2" x2="1886.4" y2="1364.2" stroke="#000" stroke-width="3.1"/>
<text transform="matrix(1.1314 0.3335 -0.8548 0.4607 1836.1 1413.8)" font-size="40" text-anchor="start" x="0" y="0">0.00008</text>
<line x1="1939.4" y1="1327.3" x2="1960.7" y2="1333.3" stroke="#000" stroke-width="3.1"/>
<text transform="matrix(1.1138 0.3124 -0.8001 0.4313 1965.8 1343.9)" font-size="40" text-anchor="start" x="0" y="0">0.00010</text>
<text transform="matrix(1.3608 0.4196 -1.4782 0.6564 498.2 1628.8)" font-size="40" text-anchor="middle" x="0" y="0">x, m</text>
<text transform="matrix(1.0799 -0.6359 1.4711 0.4672 1869.4 1593.2)" font-size="40" text-anchor="middle" x="0" y="0">z, m</text>
<text transform="matrix(0.0708 1.4494 -1.2956 0.3555 52.5 846.6)" font-size="40" text-anchor="middle" x="0" y="0">φ</text>
</g>
<g id="plotB">
<line x1="247.2" y1="3330.7" x2="1046.3" y2="3054.8" stroke="#d2d2d2" stroke-width="1.3"/>
<line x1="1046.3" y1="3054.8" x2="1946.9" y2="3283.7" stroke="#d2d2d2" stroke-width="1.3"/>
<line x1="239.5" y1="3136.9" x2="1046.4" y2="2886.6" stroke="#d2d2d2" stroke-width="1.3"/>
<line x1="1046.4" y1="2886.6" x2="1955.7" y2="3094.6" stroke="#d2d2d2" stroke-width="1.3"/>
<line x1="231.7" y1="2939.2" x2="1046.5" y2="2715.6" stroke="#d2d2d2" stroke-width="1.3"/>
<line x1="1046.5" y1="2715.6" x2="1964.5" y2="2901.8" stroke="#d2d2d2" stroke-width="1.3"/>
<line x1="223.6" y1="2737.5" x2="1046.7" y2="2541.6" stroke="#d2d2d2" stroke-width="1.3"/>
<line x1="1046.7" y1="2541.6" x2="1973.6" y2="2705.3" stroke="#d2d2d2" stroke-width="1.3"/>
<line x1="215.5" y1="2531.8" x2="1046.8" y2="2364.7" stroke="#d2d2d2" stroke-width="1.3"/>
<line x1="1046.8" y1="2364.7" x2="1982.8" y2="2504.9" stroke="#d2d2d2" stroke-width="1.3"/>
<line x1="375.1" y1="3475.2" x2="335.7" y2="2300.8" stroke="#d2d2d2" stroke-width="1.3"/>
<line x1="375.1" y1="3475.2" x2="1306.9" y2="3804.7" stroke="#d2d2d2" stroke-width="1.3"/>
<line x1="490.4" y1="3431.4" x2="458.6" y2="2280.8" stroke="#d2d2d2" stroke-width="1.3"/>
<line x1="490.4" y1="3431.4" x2="1417.1" y2="3746.2" stroke="#d2d2d2" stroke-width="1.3"/>
<line x1="600.9" y1="3389.4" x2="576.1" y2="2261.6" stroke="#d2d2d2" stroke-width="1.3"/>
<line x1="600.9" y1="3389.4" x2="1522" y2="3690.5" stroke="#d2d2d2" stroke-width="1.3"/>
<line x1="706.9" y1="3349.2" x2="688.6" y2="2243.2" stroke="#d2d2d2" stroke-width="1.3"/>
<line x1="706.9" y1="3349.2" x2="1622.1" y2="3637.3" stroke="#d2d2d2" stroke-width="1.3"/>
<line x1="808.6" y1="3310.5" x2="796.3" y2="2225.6" stroke="#d2d2d2" stroke-width="1.3"/>
<line x1="808.6" y1="3310.5" x2="1717.6" y2="3586.6" stroke="#d2d2d2" stroke-width="1.3"/>
<line x1="906.5" y1="3273.3" x2="899.6" y2="2208.7" stroke="#d2d2d2" stroke-width="1.3"/>
<line x1="906.5" y1="3273.3" x2="1808.9" y2="3538.1" stroke="#d2d2d2" stroke-width="1.3"/>
<line x1="1000.5" y1="3237.6" x2="998.8" y2="2192.5" stroke="#d2d2d2" stroke-width="1.3"/>
<line x1="1000.5" y1="3237.6" x2="1896.2" y2="3491.8" stroke="#d2d2d2" stroke-width="1.3"/>
<line x1="1207.3" y1="3265.2" x2="1216.5" y2="2205.5" stroke="#d2d2d2" stroke-width="1.3"/>
<line x1="420.7" y1="3582.1" x2="1207.3" y2="3265.2" stroke="#d2d2d2" stroke-width="1.3"/>
<line x1="1376.4" y1="3312.4" x2="1395.1" y2="2227.4" stroke="#d2d2d2" stroke-width="1.3"/>
<line x1="596.4" y1="3646.9" x2="1376.4" y2="3312.4" stroke="#d2d2d2" stroke-width="1.3"/>
<line x1="1554.1" y1="3362" x2="1583.4" y2="2250.5" stroke="#d2d2d2" stroke-width="1.3"/>
<line x1="782.6" y1="3715.6" x2="1554.1" y2="3362" stroke="#d2d2d2" stroke-width="1.3"/>
<line x1="1741.2" y1="3414.3" x2="1782.1" y2="2274.8" stroke="#d2d2d2" stroke-width="1.3"/>
<line x1="980.5" y1="3788.5" x2="1741.2" y2="3414.3" stroke="#d2d2d2" stroke-width="1.3"/>
<line x1="254.8" y1="3520.9" x2="1046.2" y2="3220.2" stroke="#d2d2d2" stroke-width="1.3"/>
<line x1="1046.2" y1="3220.2" x2="1938.4" y2="3469.3" stroke="#d2d2d2" stroke-width="1.3"/>
<polyline points="207.1,2321.8 1046.9,2184.7 1992.2,2300.6 1938.4,3469.3" fill="none" stroke="#3c3c3c" stroke-width="1.5"/>
<line x1="1046.9" y1="2184.7" x2="1046.2" y2="3220.2" stroke="#777" stroke-width="2.4"/>
<polygon points="254.8,3520.9 314.6,3542.9 1104.4,3236.5 1046.2,3220.2" fill="#7d0074"/>
<polygon points="1072.6,3822.5 1191.1,3866.2 1938.4,3469.3 1827.7,3438.4" fill="#7d0074"/>
<line x1="1303.7" y1="3803.6" x2="1200.8" y2="3767.2" stroke="#e6a0e0" stroke-width="1.8"/>
<line x1="1413.9" y1="3745.1" x2="1311.8" y2="3710.4" stroke="#e6a0e0" stroke-width="1.8"/>
<line x1="1518.8" y1="3689.4" x2="1417.7" y2="3656.4" stroke="#e6a0e0" stroke-width="1.8"/>
<line x1="1618.9" y1="3636.3" x2="1518.7" y2="3604.8" stroke="#e6a0e0" stroke-width="1.8"/>
<line x1="1714.5" y1="3585.7" x2="1615.2" y2="3555.5" stroke="#e6a0e0" stroke-width="1.8"/>
<line x1="1805.8" y1="3537.2" x2="1707.4" y2="3508.4" stroke="#e6a0e0" stroke-width="1.8"/>
<line x1="1893.1" y1="3490.9" x2="1795.7" y2="3463.3" stroke="#e6a0e0" stroke-width="1.8"/>
<g stroke-width="1.2" stroke-linejoin="round"><polygon points="314.6,3542.9 1104.4,3236.5 1104.5,3230.6 314.4,3536.2" fill="#81007b" stroke="#81007b"/><polygon points="314.4,3536.2 1104.5,3230.6 1104.6,3224.7 314.2,3529.4" fill="#880089" stroke="#880089"/><polygon points="314.2,3529.4 1104.6,3224.7 1104.6,3218.8 314,3522.7" fill="#8f0097" stroke="#8f0097"/><polygon points="314,3522.7 1104.6,3218.8 1104.7,3212.9 313.8,3515.9" fill="#9400a3" stroke="#9400a3"/><polygon points="313.8,3515.9 1104.7,3212.9 1104.8,3207 313.6,3509.1" fill="#9700ae" stroke="#9700ae"/><polygon points="313.6,3509.1 1104.8,3207 1104.8,3201.1 313.4,3502.3" fill="#9b00ba" stroke="#9b00ba"/><polygon points="313.4,3502.3 1104.8,3201.1 1104.9,3195.2 313.2,3495.6" fill="#9f00c5" stroke="#9f00c5"/><polygon points="313.2,3495.6 1104.9,3195.2 1105,3189.3 313,3488.8" fill="#a000cd" stroke="#a000cd"/><polygon points="313,3488.8 1105,3189.3 1105,3183.4 312.8,3482" fill="#9f00d5" stroke="#9f00d5"/><polygon points="312.8,3482 1105,3183.4 1105.1,3177.5 312.6,3475.2" fill="#9f00dc" stroke="#9f00dc"/><polygon points="312.6,3475.2 1105.1,3177.5 1105.2,3171.6 312.4,3468.4" fill="#9e00e3" stroke="#9e00e3"/><polygon points="312.4,3468.4 1105.2,3171.6 1105.2,3165.7 312.2,3461.6" fill="#9d00e9" stroke="#9d00e9"/><polygon points="312.2,3461.6 1105.2,3165.7 1105.3,3159.8 312,3454.8" fill="#9900ee" stroke="#9900ee"/><polygon points="312,3454.8 1105.3,3159.8 1105.4,3153.8 311.8,3447.9" fill="#9400f3" stroke="#9400f3"/><polygon points="311.8,3447.9 1105.4,3153.8 1105.4,3147.9 311.6,3441.1" fill="#9000f8" stroke="#9000f8"/><polygon points="311.6,3441.1 1105.4,3147.9 1105.5,3142 311.4,3434.3" fill="#8c00fd" stroke="#8c00fd"/><polygon points="311.4,3434.3 1105.5,3142 1105.6,3136 311.2,3427.5" fill="#8100ff" stroke="#8100ff"/><polygon points="311.2,3427.5 1105.6,3136 1105.6,3130.1 310.9,3420.6" fill="#6f00ff" stroke="#6f00ff"/><polygon points="310.9,3420.6 1105.6,3130.1 1105.7,3124.1 310.7,3413.8" fill="#5e00ff" stroke="#5e00ff"/><polygon points="310.7,3413.8 1105.7,3124.1 1105.8,3118.2 310.5,3406.9" fill="#4c00ff" stroke="#4c00ff"/><polygon points="310.5,3406.9 1105.8,3118.2 1105.8,3112.2 310.3,3400.1" fill="#3a00ff" stroke="#3a00ff"/><polygon points="310.3,3400.1 1105.8,3112.2 1105.9,3106.3 310.1,3393.2" fill="#2900ff" stroke="#2900ff"/><polygon points="310.1,3393.2 1105.9,3106.3 1106,3100.3 309.9,3386.4" fill="#1700ff" stroke="#1700ff"/><polygon points="309.9,3386.4 1106,3100.3 1106,3094.4 309.7,3379.5" fill="#0500ff" stroke="#0500ff"/><polygon points="309.7,3379.5 1106,3094.4 1106.1,3088.4 309.5,3372.6" fill="#000cff" stroke="#000cff"/><polygon points="309.5,3372.6 1106.1,3088.4 1106.2,3082.4 309.3,3365.7" fill="#001dff" stroke="#001dff"/><polygon points="309.3,3365.7 1106.2,3082.4 1106.2,3076.5 309.1,3358.9" fill="#002eff" stroke="#002eff"/><polygon points="309.1,3358.9 1106.2,3076.5 1106.3,3070.5 308.9,3352" fill="#003fff" stroke="#003fff"/><polygon points="308.9,3352 1106.3,3070.5 1106.4,3064.5 308.7,3345.1" fill="#0050ff" stroke="#0050ff"/><polygon points="308.7,3345.1 1106.4,3064.5 1106.4,3058.5 308.5,3338.2" fill="#0061ff" stroke="#0061ff"/><polygon points="308.5,3338.2 1106.4,3058.5 1106.5,3052.5 308.3,3331.3" fill="#0072ff" stroke="#0072ff"/><polygon points="308.3,3331.3 1106.5,3052.5 1106.6,3046.5 308.1,3324.4" fill="#0083ff" stroke="#0083ff"/><polygon points="308.1,3324.4 1106.6,3046.5 1106.6,3040.5 307.8,3317.5" fill="#0091ff" stroke="#0091ff"/><polygon points="307.8,3317.5 1106.6,3040.5 1106.7,3034.5 307.6,3310.6" fill="#009bff" stroke="#009bff"/><polygon points="307.6,3310.6 1106.7,3034.5 1106.8,3028.5 307.4,3303.6" fill="#00a5ff" stroke="#00a5ff"/><polygon points="307.4,3303.6 1106.8,3028.5 1106.8,3022.5 307.2,3296.7" fill="#00afff" stroke="#00afff"/><polygon points="307.2,3296.7 1106.8,3022.5 1106.9,3016.5 307,3289.8" fill="#00b9ff" stroke="#00b9ff"/><polygon points="307,3289.8 1106.9,3016.5 1107,3010.5 306.8,3282.8" fill="#00c3ff" stroke="#00c3ff"/><polygon points="306.8,3282.8 1107,3010.5 1107,3004.5 306.6,3275.9" fill="#00cdff" stroke="#00cdff"/><polygon points="306.6,3275.9 1107,3004.5 1107.1,2998.5 306.4,3269" fill="#00d7ff" stroke="#00d7ff"/><polygon points="306.4,3269 1107.1,2998.5 1107.2,2992.4 306.2,3262" fill="#00e1ff" stroke="#00e1ff"/><polygon points="306.2,3262 1107.2,2992.4 1107.2,2986.4 306,3255" fill="#00eaff" stroke="#00eaff"/><polygon points="306,3255 1107.2,2986.4 1107.3,2980.4 305.8,3248.1" fill="#00f4ff" stroke="#00f4ff"/><polygon points="305.8,3248.1 1107.3,2980.4 1107.4,2974.3 305.6,3241.1" fill="#00feff" stroke="#00feff"/><polygon points="305.6,3241.1 1107.4,2974.3 1107.4,2968.3 305.3,3234.1" fill="#00ffe7" stroke="#00ffe7"/><polygon points="305.3,3234.1 1107.4,2968.3 1107.5,2962.2 305.1,3227.2" fill="#00ffcd" stroke="#00ffcd"/><polygon points="305.1,3227.2 1107.5,2962.2 1107.6,2956.2 304.9,3220.2" fill="#00ffb2" stroke="#00ffb2"/><polygon points="304.9,3220.2 1107.6,2956.2 1107.6,2950.1 304.7,3213.2" fill="#00ff98" stroke="#00ff98"/><polygon points="304.7,3213.2 1107.6,2950.1 1107.7,2944.1 304.5,3206.2" fill="#00ff7e" stroke="#00ff7e"/><polygon points="304.5,3206.2 1107.7,2944.1 1107.8,2938 304.3,3199.2" fill="#00ff49" stroke="#00ff49"/><polygon points="304.3,3199.2 1107.8,2938 1107.8,2932 304.1,3192.2" fill="#00ff00" stroke="#00ff00"/><polygon points="304.1,3192.2 1107.8,2932 1107.9,2925.9 303.9,3185.2" fill="#00ff00" stroke="#00ff00"/><polygon points="303.9,3185.2 1107.9,2925.9 1108,2919.8 303.7,3178.2" fill="#00ff00" stroke="#00ff00"/><polygon points="303.7,3178.2 1108,2919.8 1108,2913.8 303.4,3171.2" fill="#00ff00" stroke="#00ff00"/><polygon points="303.4,3171.2 1108,2913.8 1108.1,2907.7 303.2,3164.2" fill="#00ff00" stroke="#00ff00"/><polygon points="303.2,3164.2 1108.1,2907.7 1108.2,2901.6 303,3157.1" fill="#00ff00" stroke="#00ff00"/><polygon points="303,3157.1 1108.2,2901.6 1108.3,2895.5 302.8,3150.1" fill="#00ff00" stroke="#00ff00"/><polygon points="302.8,3150.1 1108.3,2895.5 1108.3,2889.4 302.6,3143.1" fill="#00ff00" stroke="#00ff00"/><polygon points="302.6,3143.1 1108.3,2889.4 1108.4,2883.3 302.4,3136" fill="#00ff00" stroke="#00ff00"/><polygon points="302.4,3136 1108.4,2883.3 1108.5,2877.2 302.2,3129" fill="#00ff00" stroke="#00ff00"/><polygon points="302.2,3129 1108.5,2877.2 1108.5,2871.1 302,3121.9" fill="#00ff00" stroke="#00ff00"/><polygon points="302,3121.9 1108.5,2871.1 1108.6,2865 301.8,3114.9" fill="#00ff00" stroke="#00ff00"/><polygon points="301.8,3114.9 1108.6,2865 1108.7,2858.9 301.5,3107.8" fill="#00ff00" stroke="#00ff00"/><polygon points="301.5,3107.8 1108.7,2858.9 1108.7,2852.8 301.3,3100.7" fill="#00ff00" stroke="#00ff00"/><polygon points="301.3,3100.7 1108.7,2852.8 1108.8,2846.7 301.1,3093.7" fill="#00ff00" stroke="#00ff00"/><polygon points="301.1,3093.7 1108.8,2846.7 1108.9,2840.6 300.9,3086.6" fill="#64ff00" stroke="#64ff00"/><polygon points="300.9,3086.6 1108.9,2840.6 1108.9,2834.5 300.7,3079.5" fill="#80ff00" stroke="#80ff00"/><polygon points="300.7,3079.5 1108.9,2834.5 1109,2828.3 300.5,3072.4" fill="#89ff00" stroke="#89ff00"/><polygon points="300.5,3072.4 1109,2828.3 1109.1,2822.2 300.3,3065.3" fill="#93ff00" stroke="#93ff00"/><polygon points="300.3,3065.3 1109.1,2822.2 1109.1,2816.1 300.1,3058.2" fill="#9cff00" stroke="#9cff00"/><polygon points="300.1,3058.2 1109.1,2816.1 1109.2,2809.9 299.8,3051.1" fill="#a5ff00" stroke="#a5ff00"/><polygon points="299.8,3051.1 1109.2,2809.9 1109.3,2803.8 299.6,3044" fill="#afff00" stroke="#afff00"/><polygon points="299.6,3044 1109.3,2803.8 1109.3,2797.6 299.4,3036.9" fill="#b8ff00" stroke="#b8ff00"/><polygon points="299.4,3036.9 1109.3,2797.6 1109.4,2791.5 299.2,3029.8" fill="#c2ff00" stroke="#c2ff00"/><polygon points="299.2,3029.8 1109.4,2791.5 1109.5,2785.3 299,3022.7" fill="#cbff00" stroke="#cbff00"/><polygon points="299,3022.7 1109.5,2785.3 1109.6,2779.2 298.8,3015.5" fill="#d5ff00" stroke="#d5ff00"/><polygon points="298.8,3015.5 1109.6,2779.2 1109.6,2773 298.6,3008.4" fill="#deff00" stroke="#deff00"/><polygon points="298.6,3008.4 1109.6,2773 1109.7,2766.9 298.3,3001.3" fill="#e7ff00" stroke="#e7ff00"/><polygon points="298.3,3001.3 1109.7,2766.9 1109.8,2760.7 298.1,2994.1" fill="#f1ff00" stroke="#f1ff00"/><polygon points="298.1,2994.1 1109.8,2760.7 1109.8,2754.5 297.9,2987" fill="#faff00" stroke="#faff00"/><polygon points="297.9,2987 1109.8,2754.5 1109.9,2748.3 297.7,2979.8" fill="#fff900" stroke="#fff900"/><polygon points="297.7,2979.8 1109.9,2748.3 1110,2742.2 297.5,2972.7" fill="#ffee00" stroke="#ffee00"/><polygon points="297.5,2972.7 1110,2742.2 1110,2736 297.3,2965.5" fill="#ffe300" stroke="#ffe300"/><polygon points="297.3,2965.5 1110,2736 1110.1,2729.8 297.1,2958.3" fill="#ffd800" stroke="#ffd800"/><polygon points="297.1,2958.3 1110.1,2729.8 1110.2,2723.6 296.8,2951.1" fill="#ffcd00" stroke="#ffcd00"/><polygon points="296.8,2951.1 1110.2,2723.6 1110.2,2717.4 296.6,2944" fill="#ffc200" stroke="#ffc200"/><polygon points="296.6,2944 1110.2,2717.4 1110.3,2711.2 296.4,2936.8" fill="#ffb700" stroke="#ffb700"/><polygon points="296.4,2936.8 1110.3,2711.2 1110.4,2705 296.2,2929.6" fill="#ffac00" stroke="#ffac00"/><polygon points="296.2,2929.6 1110.4,2705 1110.4,2698.8 296,2922.4" fill="#ffa200" stroke="#ffa200"/><polygon points="296,2922.4 1110.4,2698.8 1110.5,2692.6 295.8,2915.2" fill="#ff9800" stroke="#ff9800"/><polygon points="295.8,2915.2 1110.5,2692.6 1110.6,2686.4 295.5,2908" fill="#ff8e00" stroke="#ff8e00"/><polygon points="295.5,2908 1110.6,2686.4 1110.7,2680.2 295.3,2900.8" fill="#ff8500" stroke="#ff8500"/><polygon points="295.3,2900.8 1110.7,2680.2 1110.7,2673.9 295.1,2893.6" fill="#ff7b00" stroke="#ff7b00"/><polygon points="295.1,2893.6 1110.7,2673.9 1110.8,2667.7 294.9,2886.3" fill="#ff7200" stroke="#ff7200"/><polygon points="294.9,2886.3 1110.8,2667.7 1110.9,2661.5 294.7,2879.1" fill="#ff6800" stroke="#ff6800"/><polygon points="294.7,2879.1 1110.9,2661.5 1110.9,2655.2 294.5,2871.9" fill="#ff5f00" stroke="#ff5f00"/><polygon points="294.5,2871.9 1110.9,2655.2 1111,2649 294.2,2864.6" fill="#ff5600" stroke="#ff5600"/><polygon points="294.2,2864.6 1111,2649 1111.1,2642.8 294,2857.4" fill="#ff4d00" stroke="#ff4d00"/><polygon points="294,2857.4 1111.1,2642.8 1111.1,2636.5 293.8,2850.1" fill="#ff4400" stroke="#ff4400"/><polygon points="293.8,2850.1 1111.1,2636.5 1111.2,2630.3 293.6,2842.9" fill="#ff3b00" stroke="#ff3b00"/><polygon points="293.6,2842.9 1111.2,2630.3 1111.3,2624 293.4,2835.6" fill="#ff3200" stroke="#ff3200"/><polygon points="293.4,2835.6 1111.3,2624 1111.4,2617.8 293.1,2828.4" fill="#ff2900" stroke="#ff2900"/><polygon points="293.1,2828.4 1111.4,2617.8 1111.4,2611.5 292.9,2821.1" fill="#ff2000" stroke="#ff2000"/><polygon points="292.9,2821.1 1111.4,2611.5 1111.5,2605.2 292.7,2813.8" fill="#ff1700" stroke="#ff1700"/><polygon points="292.7,2813.8 1111.5,2605.2 1111.6,2599 292.5,2806.5" fill="#ff0e00" stroke="#ff0e00"/><polygon points="292.5,2806.5 1111.6,2599 1111.6,2592.7 292.3,2799.2" fill="#ff0500" stroke="#ff0500"/><polygon points="292.3,2799.2 1111.6,2592.7 1111.7,2586.4 292.1,2791.9" fill="#ff0000" stroke="#ff0000"/><polygon points="292.1,2791.9 1111.7,2586.4 1111.8,2580.1 291.8,2784.7" fill="#ff0000" stroke="#ff0000"/><polygon points="291.8,2784.7 1111.8,2580.1 1111.8,2573.8 291.6,2777.3" fill="#ff0000" stroke="#ff0000"/><polygon points="291.6,2777.3 1111.8,2573.8 1111.9,2567.6 291.4,2770" fill="#ff0000" stroke="#ff0000"/><polygon points="291.4,2770 1111.9,2567.6 1112,2561.3 291.2,2762.7" fill="#ff0000" stroke="#ff0000"/><polygon points="291.2,2762.7 1112,2561.3 1112.1,2555 291,2755.4" fill="#ff0000" stroke="#ff0000"/><polygon points="291,2755.4 1112.1,2555 1112.1,2548.7 290.7,2748.1" fill="#ff0000" stroke="#ff0000"/><polygon points="290.7,2748.1 1112.1,2548.7 1112.2,2542.4 290.5,2740.8" fill="#ff0000" stroke="#ff0000"/><polygon points="290.5,2740.8 1112.2,2542.4 1112.3,2536 290.3,2733.4" fill="#ff0000" stroke="#ff0000"/><polygon points="290.3,2733.4 1112.3,2536 1112.3,2529.7 290.1,2726.1" fill="#ff0000" stroke="#ff0000"/><polygon points="290.1,2726.1 1112.3,2529.7 1112.4,2523.4 289.9,2718.7" fill="#ff0000" stroke="#ff0000"/><polygon points="289.9,2718.7 1112.4,2523.4 1112.5,2517.1 289.6,2711.4" fill="#ff0000" stroke="#ff0000"/><polygon points="289.6,2711.4 1112.5,2517.1 1112.5,2510.8 289.4,2704" fill="#ff0000" stroke="#ff0000"/><polygon points="289.4,2704 1112.5,2510.8 1112.6,2504.4 289.2,2696.7" fill="#ff0000" stroke="#ff0000"/><polygon points="289.2,2696.7 1112.6,2504.4 1112.7,2498.1 289,2689.3" fill="#ff0000" stroke="#ff0000"/><polygon points="289,2689.3 1112.7,2498.1 1112.8,2491.8 288.7,2681.9" fill="#ff0000" stroke="#ff0000"/><polygon points="288.7,2681.9 1112.8,2491.8 1112.8,2485.4 288.5,2674.5" fill="#ff0000" stroke="#ff0000"/><polygon points="288.5,2674.5 1112.8,2485.4 1112.9,2479.1 288.3,2667.2" fill="#ff0000" stroke="#ff0000"/><polygon points="288.3,2667.2 1112.9,2479.1 1113,2472.7 288.1,2659.8" fill="#ff0000" stroke="#ff0000"/><polygon points="288.1,2659.8 1113,2472.7 1113,2466.4 287.9,2652.4" fill="#ff0000" stroke="#ff0000"/><polygon points="287.9,2652.4 1113,2466.4 1113.1,2460 287.6,2645" fill="#ff0000" stroke="#ff0000"/><polygon points="287.6,2645 1113.1,2460 1113.2,2453.7 287.4,2637.6" fill="#ff0000" stroke="#ff0000"/><polygon points="287.4,2637.6 1113.2,2453.7 1113.3,2447.3 287.2,2630.2" fill="#ff0000" stroke="#ff0000"/><polygon points="287.2,2630.2 1113.3,2447.3 1113.3,2440.9 287,2622.7" fill="#ff0000" stroke="#ff0000"/><polygon points="287,2622.7 1113.3,2440.9 1113.4,2434.6 286.7,2615.3" fill="#ff0000" stroke="#ff0000"/><polygon points="286.7,2615.3 1113.4,2434.6 1113.5,2428.2 286.5,2607.9" fill="#ff0000" stroke="#ff0000"/><polygon points="286.5,2607.9 1113.5,2428.2 1113.5,2421.8 286.3,2600.5" fill="#ff0000" stroke="#ff0000"/><polygon points="286.3,2600.5 1113.5,2421.8 1113.6,2415.4 286.1,2593" fill="#ff0000" stroke="#ff0000"/><polygon points="286.1,2593 1113.6,2415.4 1113.7,2409 285.9,2585.6" fill="#ff0000" stroke="#ff0000"/><polygon points="285.9,2585.6 1113.7,2409 1113.8,2402.6 285.6,2578.1" fill="#f90000" stroke="#f90000"/><polygon points="285.6,2578.1 1113.8,2402.6 1113.8,2396.2 285.4,2570.7" fill="#f40000" stroke="#f40000"/><polygon points="285.4,2570.7 1113.8,2396.2 1113.9,2389.8 285.2,2563.2" fill="#ee0000" stroke="#ee0000"/><polygon points="285.2,2563.2 1113.9,2389.8 1114,2383.4 285,2555.7" fill="#e90000" stroke="#e90000"/><polygon points="285,2555.7 1114,2383.4 1114,2377 284.7,2548.3" fill="#e40000" stroke="#e40000"/><polygon points="284.7,2548.3 1114,2377 1114.1,2370.6 284.5,2540.8" fill="#de0000" stroke="#de0000"/><polygon points="284.5,2540.8 1114.1,2370.6 1114.2,2364.2 284.3,2533.3" fill="#d90000" stroke="#d90000"/><polygon points="284.3,2533.3 1114.2,2364.2 1114.3,2357.8 284.1,2525.8" fill="#d30000" stroke="#d30000"/><polygon points="284.1,2525.8 1114.3,2357.8 1114.3,2351.4 283.8,2518.3" fill="#ce0000" stroke="#ce0000"/><polygon points="283.8,2518.3 1114.3,2351.4 1114.4,2344.9 283.6,2510.8" fill="#c80000" stroke="#c80000"/><polygon points="283.6,2510.8 1114.4,2344.9 1114.5,2338.5 283.4,2503.3" fill="#c30000" stroke="#c30000"/><polygon points="283.4,2503.3 1114.5,2338.5 1114.5,2332.1 283.2,2495.8" fill="#be0000" stroke="#be0000"/><polygon points="283.2,2495.8 1114.5,2332.1 1114.6,2325.6 282.9,2488.3" fill="#b80000" stroke="#b80000"/><polygon points="282.9,2488.3 1114.6,2325.6 1114.7,2319.2 282.7,2480.8" fill="#b30000" stroke="#b30000"/><polygon points="282.7,2480.8 1114.7,2319.2 1114.8,2312.7 282.5,2473.2" fill="#ae0000" stroke="#ae0000"/><polygon points="282.5,2473.2 1114.8,2312.7 1114.8,2306.3 282.3,2465.7" fill="#a80000" stroke="#a80000"/><polygon points="282.3,2465.7 1114.8,2306.3 1114.9,2299.8 282,2458.2" fill="#a30000" stroke="#a30000"/><polygon points="282,2458.2 1114.9,2299.8 1114.9,2298.3 282,2456.4" fill="#a00000" stroke="#a00000"/><polygon points="282,2456.4 1114.9,2298.3 1114.9,2296.8 281.9,2454.6" fill="#9f0000" stroke="#9f0000"/><polygon points="281.9,2454.6 284.9,2454.1 287.8,2453.5 290.7,2453 293.7,2452.4 297.6,2451.7 301.5,2450.9 306.3,2450 311.2,2449.1 320.9,2447.3 330.5,2445.4 340.1,2443.6 732.3,2369.3 1072.1,2304.9 1079.3,2303.6 1086.4,2302.2 1093.6,2300.8 1097.2,2300.2 1100.7,2299.5 1104.3,2298.8 1107.8,2298.1 1110.7,2297.6 1112.8,2297.2 1114.9,2296.8 1115,2295.3 1112.8,2295.7 1110.7,2296.1 1107.9,2296.6 1104.3,2297.3 1100.8,2298 1097.2,2298.7 1093.6,2299.3 1086.5,2300.7 1079.3,2302 1072.1,2303.4 732.2,2367.7 340.1,2441.9 330.5,2443.7 320.8,2445.5 311.1,2447.4 306.3,2448.3 301.4,2449.2 297.5,2449.9 293.6,2450.7 290.7,2451.2 287.7,2451.8 284.8,2452.3 281.9,2452.9" fill="#9d0000" stroke="#9d0000"/><polygon points="281.9,2452.9 284.8,2452.3 287.7,2451.8 290.7,2451.2 293.6,2450.7 297.5,2449.9 301.4,2449.2 306.3,2448.3 311.1,2447.4 320.8,2445.5 330.5,2443.7 340.1,2441.9 732.2,2367.7 1072.1,2303.4 1079.3,2302 1086.5,2300.7 1093.6,2299.3 1097.2,2298.7 1100.8,2298 1104.3,2297.3 1107.9,2296.6 1110.7,2296.1 1112.8,2295.7 1115,2295.3 1115,2293.8 1112.8,2294.2 1110.7,2294.6 1107.9,2295.1 1104.3,2295.8 1100.8,2296.5 1097.2,2297.2 1093.6,2297.8 1086.5,2299.2 1079.3,2300.5 1072.1,2301.9 732.2,2366.1 340,2440.1 330.4,2442 320.8,2443.8 311.1,2445.6 306.2,2446.5 301.4,2447.4 297.5,2448.2 293.6,2448.9 290.6,2449.5 287.7,2450 284.8,2450.6 281.8,2451.1" fill="#9c0000" stroke="#9c0000"/><polygon points="281.8,2451.1 284.8,2450.6 287.7,2450 290.6,2449.5 293.6,2448.9 297.5,2448.2 301.4,2447.4 306.2,2446.5 311.1,2445.6 320.8,2443.8 330.4,2442 340,2440.1 732.2,2366.1 1072.1,2301.9 1079.3,2300.5 1086.5,2299.2 1093.6,2297.8 1097.2,2297.2 1100.8,2296.5 1104.3,2295.8 1107.9,2295.1 1110.7,2294.6 1112.8,2294.2 1115,2293.8 1115,2292.3 1112.9,2292.7 1110.7,2293.1 1107.9,2293.6 1104.3,2294.3 1100.8,2295 1097.2,2295.6 1093.6,2296.3 1086.5,2297.7 1079.3,2299 1072.1,2300.4 732.2,2364.5 340,2438.4 330.4,2440.2 320.7,2442 311,2443.9 306.2,2444.8 301.3,2445.7 297.4,2446.4 293.5,2447.2 290.6,2447.7 287.6,2448.3 284.7,2448.8 281.8,2449.4" fill="#9b0000" stroke="#9b0000"/><polygon points="281.8,2449.4 284.7,2448.8 287.6,2448.3 290.6,2447.7 293.5,2447.2 297.4,2446.4 301.3,2445.7 306.2,2444.8 311,2443.9 320.7,2442 330.4,2440.2 340,2438.4 732.2,2364.5 1072.1,2300.4 1079.3,2299 1086.5,2297.7 1093.6,2296.3 1097.2,2295.6 1100.8,2295 1104.3,2294.3 1107.9,2293.6 1110.7,2293.1 1112.9,2292.7 1115,2292.3 1115,2290.8 1112.9,2291.2 1110.8,2291.6 1107.9,2292.1 1104.4,2292.8 1100.8,2293.5 1097.2,2294.1 1093.7,2294.8 1086.5,2296.2 1079.3,2297.5 1072.1,2298.9 732.2,2362.8 339.9,2436.7 330.3,2438.5 320.7,2440.3 311,2442.1 306.1,2443 301.3,2444 297.4,2444.7 293.5,2445.4 290.5,2446 287.6,2446.5 284.6,2447.1 281.7,2447.6" fill="#9a0000" stroke="#9a0000"/><polygon points="281.7,2447.6 284.6,2447.1 287.6,2446.5 290.5,2446 293.5,2445.4 297.4,2444.7 301.3,2444 306.1,2443 311,2442.1 320.7,2440.3 330.3,2438.5 339.9,2436.7 732.2,2362.8 1072.1,2298.9 1079.3,2297.5 1086.5,2296.2 1093.7,2294.8 1097.2,2294.1 1100.8,2293.5 1104.4,2292.8 1107.9,2292.1 1110.8,2291.6 1112.9,2291.2 1115,2290.8 1115,2289.3 1112.9,2289.7 1110.8,2290.1 1107.9,2290.6 1104.4,2291.3 1100.8,2292 1097.3,2292.6 1093.7,2293.3 1086.5,2294.6 1079.3,2296 1072.1,2297.3 732.2,2361.2 339.9,2434.9 330.3,2436.7 320.6,2438.6 310.9,2440.4 306.1,2441.3 301.2,2442.2 297.3,2442.9 293.4,2443.7 290.5,2444.2 287.5,2444.8 284.6,2445.3 281.7,2445.9" fill="#980000" stroke="#980000"/><polygon points="281.7,2445.9 284.6,2445.3 287.5,2444.8 290.5,2444.2 293.4,2443.7 297.3,2442.9 301.2,2442.2 306.1,2441.3 310.9,2440.4 320.6,2438.6 330.3,2436.7 339.9,2434.9 732.2,2361.2 1072.1,2297.3 1079.3,2296 1086.5,2294.6 1093.7,2293.3 1097.3,2292.6 1100.8,2292 1104.4,2291.3 1107.9,2290.6 1110.8,2290.1 1112.9,2289.7 1115,2289.3 1115,2287.8 1112.9,2288.2 1110.8,2288.6 1107.9,2289.1 1104.4,2289.8 1100.8,2290.4 1097.3,2291.1 1093.7,2291.8 1086.5,2293.1 1079.4,2294.5 1072.2,2295.8 732.2,2359.6 339.8,2433.2 330.2,2435 320.6,2436.8 310.9,2438.6 306,2439.5 301.2,2440.5 297.3,2441.2 293.3,2441.9 290.4,2442.5 287.5,2443 284.5,2443.6 281.6,2444.1" fill="#970000" stroke="#970000"/><polygon points="281.6,2444.1 284.5,2443.6 287.5,2443 290.4,2442.5 293.3,2441.9 297.3,2441.2 301.2,2440.5 306,2439.5 310.9,2438.6 320.6,2436.8 330.2,2435 339.8,2433.2 732.2,2359.6 1072.2,2295.8 1079.4,2294.5 1086.5,2293.1 1093.7,2291.8 1097.3,2291.1 1100.8,2290.4 1104.4,2289.8 1107.9,2289.1 1110.8,2288.6 1112.9,2288.2 1115,2287.8 1115.1,2286.3 1112.9,2286.7 1110.8,2287.1 1108,2287.6 1104.4,2288.3 1100.8,2288.9 1097.3,2289.6 1093.7,2290.3 1086.6,2291.6 1079.4,2293 1072.2,2294.3 732.2,2358 339.8,2431.5 330.2,2433.3 320.5,2435.1 310.8,2436.9 306,2437.8 301.1,2438.7 297.2,2439.4 293.3,2440.2 290.4,2440.7 287.4,2441.3 284.5,2441.8 281.6,2442.4" fill="#960000" stroke="#960000"/><polygon points="281.6,2442.4 284.5,2441.8 287.4,2441.3 290.4,2440.7 293.3,2440.2 297.2,2439.4 301.1,2438.7 306,2437.8 310.8,2436.9 320.5,2435.1 330.2,2433.3 339.8,2431.5 732.2,2358 1072.2,2294.3 1079.4,2293 1086.6,2291.6 1093.7,2290.3 1097.3,2289.6 1100.8,2288.9 1104.4,2288.3 1108,2287.6 1110.8,2287.1 1112.9,2286.7 1115.1,2286.3 1115.1,2284.8 1112.9,2285.2 1110.8,2285.6 1108,2286.1 1104.4,2286.8 1100.9,2287.4 1097.3,2288.1 1093.7,2288.8 1086.6,2290.1 1079.4,2291.4 1072.2,2292.8 732.2,2356.4 339.7,2429.7 330.1,2431.5 320.5,2433.3 310.8,2435.1 305.9,2436 301,2437 297.1,2437.7 293.2,2438.4 290.3,2439 287.4,2439.5 284.4,2440.1 281.5,2440.6" fill="#950000" stroke="#950000"/><polygon points="281.5,2440.6 284.4,2440.1 287.4,2439.5 290.3,2439 293.2,2438.4 297.1,2437.7 301,2437 305.9,2436 310.8,2435.1 320.5,2433.3 330.1,2431.5 339.7,2429.7 732.2,2356.4 1072.2,2292.8 1079.4,2291.4 1086.6,2290.1 1093.7,2288.8 1097.3,2288.1 1100.9,2287.4 1104.4,2286.8 1108,2286.1 1110.8,2285.6 1112.9,2285.2 1115.1,2284.8 1115.1,2283.3 1113,2283.7 1110.8,2284.1 1108,2284.6 1104.4,2285.3 1100.9,2285.9 1097.3,2286.6 1093.7,2287.3 1086.6,2288.6 1079.4,2289.9 1072.2,2291.3 732.1,2354.7 339.7,2428 330.1,2429.8 320.4,2431.6 310.7,2433.4 305.9,2434.3 301,2435.2 297.1,2435.9 293.2,2436.7 290.3,2437.2 287.3,2437.8 284.4,2438.3 281.4,2438.9" fill="#940000" stroke="#940000"/><polygon points="281.4,2438.9 284.4,2438.3 287.3,2437.8 290.3,2437.2 293.2,2436.7 297.1,2435.9 301,2435.2 305.9,2434.3 310.7,2433.4 320.4,2431.6 330.1,2429.8 339.7,2428 732.1,2354.7 1072.2,2291.3 1079.4,2289.9 1086.6,2288.6 1093.7,2287.3 1097.3,2286.6 1100.9,2285.9 1104.4,2285.3 1108,2284.6 1110.8,2284.1 1113,2283.7 1115.1,2283.3 1115.1,2281.8 1113,2282.2 1110.9,2282.6 1108,2283.1 1104.5,2283.8 1100.9,2284.4 1097.3,2285.1 1093.8,2285.7 1086.6,2287.1 1079.4,2288.4 1072.2,2289.8 732.1,2353.1 339.6,2426.2 330,2428 320.4,2429.8 310.7,2431.6 305.8,2432.5 300.9,2433.5 297,2434.2 293.1,2434.9 290.2,2435.5 287.3,2436 284.3,2436.5 281.4,2437.1" fill="#920000" stroke="#920000"/><polygon points="281.4,2437.1 284.3,2436.5 287.3,2436 290.2,2435.5 293.1,2434.9 297,2434.2 300.9,2433.5 305.8,2432.5 310.7,2431.6 320.4,2429.8 330,2428 339.6,2426.2 732.1,2353.1 1072.2,2289.8 1079.4,2288.4 1086.6,2287.1 1093.8,2285.7 1097.3,2285.1 1100.9,2284.4 1104.5,2283.8 1108,2283.1 1110.9,2282.6 1113,2282.2 1115.1,2281.8 1115.1,2280.3 1113,2280.7 1110.9,2281.1 1108,2281.6 1104.5,2282.2 1100.9,2282.9 1097.3,2283.6 1093.8,2284.2 1086.6,2285.6 1079.4,2286.9 1072.2,2288.2 732.1,2351.5 339.6,2424.5 330,2426.3 320.3,2428.1 310.6,2429.9 305.8,2430.8 300.9,2431.7 297,2432.4 293.1,2433.2 290.2,2433.7 287.2,2434.2 284.3,2434.8 281.3,2435.3" fill="#910000" stroke="#910000"/><polygon points="281.3,2435.3 284.3,2434.8 287.2,2434.2 290.2,2433.7 293.1,2433.2 297,2432.4 300.9,2431.7 305.8,2430.8 310.6,2429.9 320.3,2428.1 330,2426.3 339.6,2424.5 732.1,2351.5 1072.2,2288.2 1079.4,2286.9 1086.6,2285.6 1093.8,2284.2 1097.3,2283.6 1100.9,2282.9 1104.5,2282.2 1108,2281.6 1110.9,2281.1 1113,2280.7 1115.1,2280.3 1115.1,2278.8 1113,2279.2 1110.9,2279.6 1108,2280.1 1104.5,2280.7 1100.9,2281.4 1097.4,2282.1 1093.8,2282.7 1086.6,2284.1 1079.4,2285.4 1072.2,2286.7 732.1,2349.9 339.6,2422.8 329.9,2424.6 320.3,2426.3 310.6,2428.1 305.7,2429 300.8,2430 296.9,2430.7 293,2431.4 290.1,2431.9 287.2,2432.5 284.2,2433 281.3,2433.6" fill="#900000" stroke="#900000"/><polygon points="281.3,2433.6 284.2,2433 287.2,2432.5 290.1,2431.9 293,2431.4 296.9,2430.7 300.8,2430 305.7,2429 310.6,2428.1 320.3,2426.3 329.9,2424.6 339.6,2422.8 732.1,2349.9 1072.2,2286.7 1079.4,2285.4 1086.6,2284.1 1093.8,2282.7 1097.4,2282.1 1100.9,2281.4 1104.5,2280.7 1108,2280.1 1110.9,2279.6 1113,2279.2 1115.1,2278.8 1115.1,2278.6 1113,2278.9 1110.9,2279.3 1108,2279.7 1104.5,2280.3 1100.9,2280.9 1097.4,2281.5 1093.8,2282 1086.6,2283.2 1079.5,2284.4 1072.3,2285.5 732.1,2348.3 339.5,2421 329.9,2422.8 320.2,2424.6 310.5,2426.4 305.7,2427.3 300.8,2428.2 296.9,2428.9 293,2429.6 290.1,2430.2 287.1,2430.7 284.2,2431.3 281.2,2431.8" fill="#8f0000" stroke="#8f0000"/><polygon points="281.2,2431.8 284.2,2431.3 287.1,2430.7 290.1,2430.2 293,2429.6 296.9,2428.9 300.8,2428.2 305.7,2427.3 310.5,2426.4 320.2,2424.6 329.9,2422.8 339.5,2421 732.1,2348.3 1072.3,2285.5 1079.5,2284.4 1086.6,2283.2 1093.8,2282 1097.4,2281.5 1100.9,2280.9 1104.5,2280.3 1108,2279.7 1110.9,2279.3 1113,2278.9 1115.1,2278.6 1115.1,2278.6 1113,2278.9 1110.9,2279.3 1108,2279.7 1104.5,2280.3 1100.9,2280.9 1097.4,2281.5 1093.8,2282 1086.6,2283.2 1079.5,2284.4 1072.3,2285.5 732.1,2346.6 339.5,2419.3 329.8,2421.1 320.2,2422.9 310.5,2424.6 305.6,2425.5 300.7,2426.4 296.8,2427.2 292.9,2427.9 290,2428.4 287.1,2429 284.1,2429.5 281.2,2430.1" fill="#8d0000" stroke="#8d0000"/><polygon points="281.2,2430.1 284.1,2429.5 287.1,2429 290,2428.4 292.9,2427.9 296.8,2427.2 300.7,2426.4 305.6,2425.5 310.5,2424.6 320.2,2422.9 329.8,2421.1 339.5,2419.3 732.1,2346.6 1072.3,2285.5 1079.5,2284.4 1086.6,2283.2 1093.8,2282 1097.4,2281.5 1100.9,2280.9 1104.5,2280.3 1108,2279.7 1110.9,2279.3 1113,2278.9 1115.1,2278.6 1115.1,2278.6 1113,2278.9 1110.9,2279.3 1108,2279.7 1104.5,2280.3 1100.9,2280.9 1097.4,2281.5 1093.8,2282 1086.6,2283.2 1079.5,2284.4 1072.3,2285.5 732.1,2345 339.4,2417.5 329.8,2419.3 320.1,2421.1 310.4,2422.9 305.6,2423.8 300.7,2424.7 296.8,2425.4 292.9,2426.1 289.9,2426.7 287,2427.2 284.1,2427.8 281.1,2428.3" fill="#8c0000" stroke="#8c0000"/><polygon points="281.1,2428.3 284.1,2427.8 287,2427.2 289.9,2426.7 292.9,2426.1 296.8,2425.4 300.7,2424.7 305.6,2423.8 310.4,2422.9 320.1,2421.1 329.8,2419.3 339.4,2417.5 732.1,2345 1072.3,2285.5 1079.5,2284.4 1086.6,2283.2 1093.8,2282 1097.4,2281.5 1100.9,2280.9 1104.5,2280.3 1108,2279.7 1110.9,2279.3 1113,2278.9 1115.1,2278.6 1115.1,2278.6 1113,2278.9 1110.9,2279.3 1108,2279.7 1104.5,2280.3 1100.9,2280.9 1097.4,2281.5 1093.8,2282 1086.6,2283.2 1079.5,2284.4 1072.3,2285.5 732.1,2343.4 339.4,2415.8 329.7,2417.6 320.1,2419.4 310.4,2421.1 305.5,2422 300.6,2422.9 296.7,2423.7 292.8,2424.4 289.9,2424.9 287,2425.5 284,2426 281.1,2426.5" fill="#8b0000" stroke="#8b0000"/><polygon points="281.1,2426.5 284,2426 287,2425.5 289.9,2424.9 292.8,2424.4 296.7,2423.7 300.6,2422.9 305.5,2422 310.4,2421.1 320.1,2419.4 329.7,2417.6 339.4,2415.8 732.1,2343.4 1072.3,2285.5 1079.5,2284.4 1086.6,2283.2 1093.8,2282 1097.4,2281.5 1100.9,2280.9 1104.5,2280.3 1108,2279.7 1110.9,2279.3 1113,2278.9 1115.1,2278.6 1115.1,2278.6 1113,2278.9 1110.9,2279.3 1108,2279.7 1104.5,2280.3 1100.9,2280.9 1097.4,2281.5 1093.8,2282 1086.6,2283.2 1079.5,2284.4 1072.3,2285.5 732,2341.8 339.3,2414.1 329.7,2415.8 320,2417.6 310.3,2419.4 305.5,2420.3 300.6,2421.2 296.7,2421.9 292.8,2422.6 289.8,2423.2 286.9,2423.7 284,2424.2 281,2424.8" fill="#8a0000" stroke="#8a0000"/><polygon points="281,2424.8 284,2424.2 286.9,2423.7 289.8,2423.2 292.8,2422.6 296.7,2421.9 300.6,2421.2 305.5,2420.3 310.3,2419.4 320,2417.6 329.7,2415.8 339.3,2414.1 732,2341.8 1072.3,2285.5 1079.5,2284.4 1086.6,2283.2 1093.8,2282 1097.4,2281.5 1100.9,2280.9 1104.5,2280.3 1108,2279.7 1110.9,2279.3 1113,2278.9 1115.1,2278.6 1115.1,2278.6 1113,2278.9 1110.9,2279.3 1108,2279.7 1104.5,2280.3 1100.9,2280.9 1097.4,2281.5 1093.8,2282 1086.6,2283.2 1079.5,2284.4 1072.3,2285.5 732,2340.9 339.3,2412.3 329.6,2414.1 320,2415.9 310.3,2417.6 305.4,2418.5 300.5,2419.4 296.6,2420.2 292.7,2420.9 289.8,2421.4 286.9,2422 283.9,2422.5 281,2423" fill="#880000" stroke="#880000"/><polygon points="281,2423 283.9,2422.5 286.9,2422 289.8,2421.4 292.7,2420.9 296.6,2420.2 300.5,2419.4 305.4,2418.5 310.3,2417.6 320,2415.9 329.6,2414.1 339.3,2412.3 732,2340.9 1072.3,2285.5 1079.5,2284.4 1086.6,2283.2 1093.8,2282 1097.4,2281.5 1100.9,2280.9 1104.5,2280.3 1108,2279.7 1110.9,2279.3 1113,2278.9 1115.1,2278.6 1115.1,2278.6 1113,2278.9 1110.9,2279.3 1108,2279.7 1104.5,2280.3 1100.9,2280.9 1097.4,2281.5 1093.8,2282 1086.6,2283.2 1079.5,2284.4 1072.3,2285.5 732,2340.9 339.2,2410.6 329.6,2412.3 319.9,2414.1 310.2,2415.9 305.4,2416.8 300.5,2417.7 296.6,2418.4 292.7,2419.1 289.7,2419.7 286.8,2420.2 283.9,2420.7 280.9,2421.3" fill="#870000" stroke="#870000"/><polygon points="280.9,2421.3 283.9,2420.7 286.8,2420.2 289.7,2419.7 292.7,2419.1 296.6,2418.4 300.5,2417.7 305.4,2416.8 310.2,2415.9 319.9,2414.1 329.6,2412.3 339.2,2410.6 732,2340.9 1072.3,2285.5 1079.5,2284.4 1086.6,2283.2 1093.8,2282 1097.4,2281.5 1100.9,2280.9 1104.5,2280.3 1108,2279.7 1110.9,2279.3 1113,2278.9 1115.1,2278.6 1115.1,2278.6 1113,2278.9 1110.9,2279.3 1108,2279.7 1104.5,2280.3 1100.9,2280.9 1097.4,2281.5 1093.8,2282 1086.6,2283.2 1079.5,2284.4 1072.3,2285.5 732,2340.9 339.2,2408.8 329.5,2410.6 319.9,2412.4 310.2,2414.1 305.3,2415 300.4,2415.9 296.5,2416.6 292.6,2417.4 289.7,2417.9 286.8,2418.4 283.8,2419 280.9,2419.5" fill="#860000" stroke="#860000"/><polygon points="280.9,2419.5 283.8,2419 286.8,2418.4 289.7,2417.9 292.6,2417.4 296.5,2416.6 300.4,2415.9 305.3,2415 310.2,2414.1 319.9,2412.4 329.5,2410.6 339.2,2408.8 732,2340.9 1072.3,2285.5 1079.5,2284.4 1086.6,2283.2 1093.8,2282 1097.4,2281.5 1100.9,2280.9 1104.5,2280.3 1108,2279.7 1110.9,2279.3 1113,2278.9 1115.1,2278.6 1115.1,2278.6 1113,2278.9 1110.9,2279.3 1108,2279.7 1104.5,2280.3 1100.9,2280.9 1097.4,2281.5 1093.8,2282 1086.6,2283.2 1079.5,2284.4 1072.3,2285.5 732,2340.9 339.1,2407.1 329.5,2408.9 319.8,2410.6 310.1,2412.4 305.3,2413.3 300.4,2414.2 296.5,2414.9 292.6,2415.6 289.6,2416.1 286.7,2416.7 283.8,2417.2 280.8,2417.8" fill="#850000" stroke="#850000"/><polygon points="280.8,2417.8 283.8,2417.2 286.7,2416.7 289.6,2416.1 292.6,2415.6 296.5,2414.9 300.4,2414.2 305.3,2413.3 310.1,2412.4 319.8,2410.6 329.5,2408.9 339.1,2407.1 732,2340.9 1072.3,2285.5 1079.5,2284.4 1086.6,2283.2 1093.8,2282 1097.4,2281.5 1100.9,2280.9 1104.5,2280.3 1108,2279.7 1110.9,2279.3 1113,2278.9 1115.1,2278.6 1115.1,2278.6 1113,2278.9 1110.9,2279.3 1108,2279.7 1104.5,2280.3 1100.9,2280.9 1097.4,2281.5 1093.8,2282 1086.6,2283.2 1079.5,2284.4 1072.3,2285.5 732,2340.9 339.1,2405.4 329.4,2407.1 319.8,2408.9 310.1,2410.6 305.2,2411.5 300.3,2412.4 296.4,2413.1 292.5,2413.8 289.6,2414.4 286.6,2414.9 283.7,2415.5 280.8,2416" fill="#830000" stroke="#830000"/><polygon points="280.8,2416 283.7,2415.5 286.6,2414.9 289.6,2414.4 292.5,2413.8 296.4,2413.1 300.3,2412.4 305.2,2411.5 310.1,2410.6 319.8,2408.9 329.4,2407.1 339.1,2405.4 732,2340.9 1072.3,2285.5 1079.5,2284.4 1086.6,2283.2 1093.8,2282 1097.4,2281.5 1100.9,2280.9 1104.5,2280.3 1108,2279.7 1110.9,2279.3 1113,2278.9 1115.1,2278.6 1115.1,2278.6 1113,2278.9 1110.9,2279.3 1108,2279.7 1104.5,2280.3 1100.9,2280.9 1097.4,2281.5 1093.8,2282 1086.6,2283.2 1079.5,2284.4 1072.3,2285.5 732,2340.9 339.1,2404.7 329.4,2406.3 319.7,2407.9 310,2409.5 305.2,2410.3 300.3,2411 296.4,2411.7 292.5,2412.3 289.5,2412.8 286.6,2413.3 283.7,2413.8 280.7,2414.2" fill="#820000" stroke="#820000"/></g>
<g fill="none" stroke="#8a8a8a" stroke-opacity="0.20" stroke-width="1"><polyline points="345.2,3531.1 335.4,3185.4 325.2,2827 316.4,2518.1 314.4,2448.2 314,2433 313.7,2425.4 313.6,2419.1 313.4,2414 313.3,2410.2"/><polyline points="375.4,3519.4 366.2,3175.4 356.6,2818.9 348.4,2511.6 346.5,2442.7 346.1,2427.6 345.9,2420.1 345.7,2413.8 345.6,2408.7 345.5,2405"/><polyline points="405.3,3507.8 396.7,3165.5 387.7,2810.8 380,2505.2 378.3,2437.3 377.9,2422.3 377.7,2414.8 377.5,2408.6 377.4,2403.5 377.3,2399.8"/><polyline points="434.9,3496.3 426.8,3155.8 418.4,2802.9 411.2,2498.9 409.6,2432 409.3,2417.1 409.1,2409.6 409,2403.4 408.9,2398.4 408.8,2394.7"/><polyline points="464.1,3484.9 456.6,3146.1 448.8,2795 442.1,2492.7 440.7,2426.8 440.3,2411.9 440.2,2404.5 440,2398.3 439.9,2393.3 439.8,2389.6"/><polyline points="493,3473.7 486.1,3136.5 478.9,2787.3 472.7,2486.5 471.3,2421.5 471,2406.8 470.9,2399.4 470.8,2393.2 470.6,2388.3 470.6,2384.6"/><polyline points="521.7,3462.6 515.2,3127.1 508.6,2779.6 502.9,2480.4 501.7,2416.4 501.4,2401.7 501.2,2394.4 501.1,2388.2 501,2383.3 500.9,2379.7"/><polyline points="550,3451.6 544.1,3117.7 538,2772 532.7,2474.3 531.6,2411.3 531.4,2396.7 531.2,2389.4 531.1,2383.3 531,2378.4 531,2374.8"/><polyline points="578,3440.8 572.6,3108.5 567.1,2764.4 562.3,2468.4 561.3,2406.3 561,2391.8 560.9,2384.5 560.8,2378.4 560.7,2373.6 560.7,2369.9"/><polyline points="605.7,3430 600.8,3099.3 595.8,2757 591.5,2462.5 590.6,2401.3 590.4,2386.9 590.2,2379.6 590.2,2373.6 590.1,2368.8 590,2365.1"/><polyline points="633.1,3419.4 628.8,3090.2 624.2,2749.7 620.3,2456.6 619.5,2396.4 619.4,2382 619.3,2374.8 619.2,2368.8 619.1,2364 619.1,2360.4"/><polyline points="660.3,3408.8 656.4,3081.3 652.4,2742.4 648.9,2450.9 648.2,2391.5 648,2377.2 648,2370.1 647.9,2364.1 647.8,2359.3 647.8,2355.7"/><polyline points="687.1,3398.4 683.7,3072.4 680.2,2735.2 677.2,2445.1 676.5,2386.7 676.4,2372.5 676.3,2365.4 676.3,2359.4 676.2,2354.7 676.2,2351.1"/><polyline points="713.7,3388.1 710.8,3063.6 707.7,2728.1 705.1,2439.5 704.6,2381.9 704.5,2367.8 704.4,2360.7 704.3,2354.8 704.3,2350.1 704.3,2346.6"/><polyline points="740,3377.9 737.5,3055 735,2721 732.7,2433.9 732.3,2377.2 732.2,2363.2 732.1,2356.1 732.1,2350.3 732.1,2345.6 732,2342"/><polyline points="766,3367.8 764,3046.4 761.9,2714 760.1,2428.4 759.7,2372.6 759.7,2358.6 759.6,2351.6 759.6,2345.7 759.5,2341.1 759.5,2337.6"/><polyline points="791.8,3357.8 790.2,3037.9 788.6,2707.2 787.1,2422.9 786.9,2368 786.8,2354.1 786.8,2347.1 786.7,2341.3 786.7,2336.6 786.7,2333.1"/><polyline points="817.3,3347.9 816.2,3029.5 815,2700.3 813.9,2417.5 813.7,2363.4 813.7,2349.6 813.6,2342.6 813.6,2336.9 813.6,2332.2 813.6,2328.8"/><polyline points="842.6,3338.1 841.8,3021.1 841.1,2693.6 840.4,2412.1 840.3,2358.9 840.2,2345.1 840.2,2338.2 840.2,2332.5 840.2,2327.9 840.2,2324.4"/><polyline points="867.6,3328.4 867.2,3012.9 866.9,2686.9 866.6,2406.8 866.5,2354.4 866.5,2340.7 866.5,2333.9 866.5,2328.2 866.5,2323.6 866.5,2320.1"/><polyline points="892.3,3318.8 892.4,3004.7 892.5,2680.3 892.5,2401.6 892.5,2350 892.5,2336.4 892.6,2329.6 892.6,2323.9 892.6,2319.3 892.6,2315.9"/><polyline points="916.8,3309.3 917.3,2996.6 917.8,2673.7 918.2,2396.4 918.3,2345.7 918.3,2332.1 918.3,2325.3 918.3,2319.6 918.3,2315.1 918.3,2311.7"/><polyline points="941.1,3299.9 942,2988.6 942.8,2667.3 943.6,2391.3 943.7,2341.3 943.8,2327.8 943.8,2321.1 943.8,2315.4 943.8,2310.9 943.8,2307.5"/><polyline points="965.1,3290.5 966.4,2980.7 967.6,2660.8 968.7,2386.2 968.9,2337.1 969,2323.6 969,2316.9 969,2311.3 969,2306.8 969.1,2303.4"/><polyline points="988.9,3281.3 990.5,2972.9 992.2,2654.5 993.6,2381.2 993.9,2332.8 993.9,2319.5 994,2312.8 994,2307.2 994,2302.7 994,2299.4"/><polyline points="1012.5,3272.2 1014.4,2965.1 1016.5,2648.2 1018.2,2376.2 1018.5,2328.6 1018.6,2315.3 1018.7,2308.7 1018.7,2303.1 1018.7,2298.7 1018.7,2295.3"/><polyline points="1035.8,3263.1 1038.1,2957.5 1040.5,2642 1042.6,2371.3 1043,2324.5 1043.1,2311.3 1043.1,2304.6 1043.2,2299.1 1043.2,2294.7 1043.2,2291.4"/><polyline points="1058.9,3254.1 1061.6,2949.8 1064.4,2635.8 1066.7,2366.4 1067.1,2320.4 1067.3,2307.2 1067.3,2300.6 1067.4,2295.1 1067.4,2290.7 1067.4,2287.4"/><polyline points="1081.8,3245.3 1084.8,2942.3 1087.9,2629.7 1090.6,2361.5 1091.1,2316.3 1091.2,2303.2 1091.3,2296.7 1091.3,2291.2 1091.4,2286.8 1091.4,2283.5"/></g>
<g stroke="#101010" stroke-width="1.6"><line x1="311.4" y1="3434.3" x2="1105.5" y2="3142" stroke-opacity="0.35"/><line x1="308.1" y1="3324.4" x2="1106.6" y2="3046.5" stroke-opacity="0.6"/><line x1="304.7" y1="3213.2" x2="1107.6" y2="2950.1" stroke-opacity="0.8"/><line x1="301.3" y1="3100.7" x2="1108.7" y2="2852.8" stroke-opacity="0.8"/><line x1="297.9" y1="2987" x2="1109.8" y2="2754.5" stroke-opacity="0.8"/><line x1="294.5" y1="2871.9" x2="1110.9" y2="2655.2" stroke-opacity="0.8"/><line x1="291" y1="2755.4" x2="1112.1" y2="2555" stroke-opacity="0.25"/><line x1="287.4" y1="2637.6" x2="1113.2" y2="2453.7" stroke-opacity="0.3"/><line x1="283.8" y1="2518.3" x2="1114.3" y2="2351.4" stroke-opacity="0.4"/></g>
<polygon points="280.5,2442 281,2432 282.5,2424 288.5,2410.5 299.5,2400 317,2394 1092,2257 1845,2357 1855,2364 1860,2374 1861.8,2389 1067.4,2581" fill="#7b0000"/>
<clipPath id="ctB"><polygon points="280.5,2442 281,2432 282.5,2424 288.5,2410.5 299.5,2400 317,2394 1092,2257 1845,2357 1855,2364 1860,2374 1861.8,2389 1067.4,2581"/></clipPath>
<g clip-path="url(#ctB)" fill="none" stroke="#d04a3a" stroke-opacity="0.28" stroke-width="1"><polyline points="232.7,2435.8 235.9,2415.4 239.5,2407.1 243.2,2401.1 247,2396.2 250.7,2392.2 260.3,2384.8 269.9,2380.1 279.5,2377.6 289.2,2376.1 308.4,2373.1 346.4,2367.2 683.1,2314.7 995.3,2266 1024.5,2261.5 1035.3,2259.8 1042.5,2258.7 1049.7,2257.5 1056.8,2256.4 1060.4,2255.9 1064,2255.3 1067.5,2254.8"/><polyline points="254.1,2439.8 257.2,2419.2 260.9,2410.9 264.6,2404.9 268.3,2400 272.1,2396 281.7,2388.5 291.3,2383.8 300.9,2381.3 310.6,2379.7 329.8,2376.7 367.8,2370.7 704.3,2317.9 1016.2,2268.8 1045.3,2264.3 1056.1,2262.6 1063.3,2261.4 1070.5,2260.3 1077.6,2259.2 1081.2,2258.6 1084.8,2258.1 1088.3,2257.5"/><polyline points="275.6,2443.7 278.8,2423.1 282.4,2414.8 286.1,2408.7 289.9,2403.8 293.7,2399.8 303.2,2392.3 312.8,2387.5 322.5,2385 332.1,2383.4 351.3,2380.4 389.3,2374.4 725.6,2321.1 1037.2,2271.7 1066.3,2267.1 1077.1,2265.4 1084.3,2264.3 1091.5,2263.1 1098.6,2262 1102.1,2261.4 1105.7,2260.9 1109.3,2260.3"/><polyline points="297.2,2447.7 300.5,2427 304.1,2418.6 307.8,2412.5 311.6,2407.6 315.4,2403.6 324.9,2396 334.5,2391.3 344.2,2388.7 353.8,2387.1 373,2384.1 411,2378 747.1,2324.3 1058.4,2274.6 1087.4,2269.9 1098.2,2268.2 1105.4,2267.1 1112.5,2265.9 1119.7,2264.8 1123.2,2264.2 1126.8,2263.7 1130.3,2263.1"/><polyline points="319.1,2451.7 322.3,2430.9 326,2422.5 329.7,2416.4 333.5,2411.5 337.3,2407.4 346.8,2399.8 356.4,2395 366.1,2392.4 375.7,2390.9 394.9,2387.8 432.9,2381.7 768.7,2327.6 1079.7,2277.5 1108.7,2272.8 1119.5,2271.1 1126.6,2269.9 1133.8,2268.8 1140.9,2267.6 1144.4,2267.1 1148,2266.5 1151.5,2265.9"/><polyline points="341.1,2455.7 344.3,2434.9 348,2426.4 351.7,2420.3 355.5,2415.3 359.3,2411.3 368.8,2403.7 378.5,2398.8 388.1,2396.2 397.7,2394.7 416.9,2391.5 454.9,2385.4 790.5,2330.8 1101.1,2280.4 1130.1,2275.7 1140.9,2273.9 1148,2272.8 1155.1,2271.6 1162.2,2270.5 1165.8,2269.9 1169.3,2269.3 1172.9,2268.7"/><polyline points="363.3,2459.8 366.5,2438.8 370.2,2430.4 373.9,2424.2 377.7,2419.2 381.5,2415.1 391,2407.5 400.7,2402.7 410.3,2400 419.9,2398.5 439.1,2395.3 477.1,2389.1 812.5,2334.2 1122.7,2283.3 1151.6,2278.6 1162.4,2276.8 1169.5,2275.7 1176.6,2274.5 1183.7,2273.3 1187.3,2272.8 1190.8,2272.2 1194.3,2271.6"/><polyline points="385.6,2463.8 388.9,2442.9 392.6,2434.4 396.3,2428.1 400.1,2423.2 403.9,2419.1 413.4,2411.4 423,2406.5 432.7,2403.9 442.3,2402.3 461.5,2399.1 499.4,2392.8 834.5,2337.5 1144.4,2286.3 1173.3,2281.5 1184,2279.7 1191.2,2278.6 1198.3,2277.4 1205.4,2276.2 1208.9,2275.6 1212.4,2275 1215.9,2274.5"/><polyline points="408.1,2468 411.4,2446.9 415.1,2438.4 418.8,2432.1 422.6,2427.1 426.4,2423 436,2415.3 445.6,2410.4 455.2,2407.7 464.8,2406.1 484,2402.9 521.9,2396.6 856.8,2340.8 1166.3,2289.2 1195.1,2284.4 1205.8,2282.7 1212.9,2281.5 1220,2280.3 1227.1,2279.1 1230.6,2278.5 1234.2,2277.9 1237.7,2277.3"/><polyline points="430.8,2472.1 434.1,2451 437.8,2442.4 441.5,2436.1 445.3,2431.1 449.1,2427 458.7,2419.2 468.3,2414.3 477.9,2411.6 487.5,2410 506.7,2406.8 544.6,2400.4 879.2,2344.2 1188.3,2292.2 1217.1,2287.4 1227.8,2285.6 1234.9,2284.4 1242,2283.2 1249,2282 1252.5,2281.4 1256.1,2280.8 1259.6,2280.3"/><polyline points="453.6,2476.3 457,2455.1 460.6,2446.5 464.4,2440.2 468.2,2435.1 472,2431 481.5,2423.2 491.1,2418.3 500.8,2415.6 510.4,2413.9 529.5,2410.7 567.4,2404.3 901.7,2347.6 1210.4,2295.3 1239.2,2290.4 1249.8,2288.6 1256.9,2287.4 1264,2286.2 1271.1,2285 1274.6,2284.4 1278.1,2283.8 1281.6,2283.2"/><polyline points="476.6,2480.5 480,2459.2 483.7,2450.6 487.5,2444.3 491.2,2439.2 495,2435 504.6,2427.2 514.2,2422.2 523.8,2419.5 533.4,2417.9 552.6,2414.6 590.4,2408.1 924.4,2351 1232.7,2298.3 1261.4,2293.4 1272.1,2291.5 1279.2,2290.3 1286.2,2289.1 1293.3,2287.9 1296.8,2287.3 1300.3,2286.7 1303.8,2286.1"/><polyline points="499.8,2484.8 503.2,2463.4 506.9,2454.7 510.7,2448.4 514.5,2443.3 518.3,2439.1 527.8,2431.2 537.4,2426.2 547.1,2423.5 556.7,2421.9 575.8,2418.6 613.6,2412 947.3,2354.4 1255.1,2301.3 1283.8,2296.4 1294.4,2294.5 1301.5,2293.3 1308.6,2292.1 1315.6,2290.9 1319.1,2290.3 1322.6,2289.7 1326.1,2289.1"/><polyline points="523.2,2489 526.6,2467.6 530.3,2458.9 534.1,2452.5 537.9,2447.4 541.7,2443.2 551.2,2435.3 560.8,2430.3 570.5,2427.5 580.1,2425.9 599.2,2422.5 636.9,2416 970.3,2357.9 1277.7,2304.4 1306.3,2299.4 1317,2297.6 1324,2296.3 1331.1,2295.1 1338.1,2293.9 1341.6,2293.3 1345.1,2292.7 1348.6,2292.1"/><polyline points="546.8,2493.4 550.2,2471.8 553.9,2463.1 557.7,2456.7 561.5,2451.6 565.3,2447.3 574.8,2439.4 584.4,2434.3 594,2431.6 603.6,2429.9 622.7,2426.5 660.5,2419.9 993.5,2361.4 1300.5,2307.5 1329,2302.5 1339.6,2300.6 1346.7,2299.4 1353.7,2298.1 1360.7,2296.9 1364.2,2296.3 1367.7,2295.7 1371.2,2295.1"/><polyline points="570.5,2497.7 574,2476.1 577.7,2467.3 581.4,2460.9 585.2,2455.7 589,2451.5 598.6,2443.5 608.2,2438.4 617.8,2435.7 627.4,2434 646.5,2430.6 684.2,2423.9 1016.9,2364.9 1323.3,2310.6 1351.8,2305.6 1362.4,2303.7 1369.5,2302.4 1376.5,2301.2 1383.5,2299.9 1387,2299.3 1390.4,2298.7 1393.9,2298.1"/><polyline points="594.4,2502.1 597.9,2480.4 601.6,2471.6 605.4,2465.1 609.2,2459.9 613,2455.7 622.6,2447.7 632.2,2442.6 641.8,2439.8 651.3,2438.1 670.4,2434.6 708.1,2427.9 1040.4,2368.5 1346.4,2313.7 1374.8,2308.6 1385.4,2306.8 1392.4,2305.5 1399.4,2304.2 1406.4,2303 1409.9,2302.4 1413.4,2301.8 1416.8,2301.1"/><polyline points="618.6,2506.5 622,2484.7 625.8,2475.9 629.5,2469.4 633.3,2464.2 637.2,2459.9 646.7,2451.9 656.3,2446.7 665.9,2443.9 675.5,2442.2 694.5,2438.7 732.2,2431.9 1064.1,2372 1369.6,2316.9 1398,2311.8 1408.5,2309.9 1415.5,2308.6 1422.5,2307.3 1429.5,2306.1 1433,2305.4 1436.4,2304.8 1439.9,2304.2"/><polyline points="642.9,2511 646.4,2489.1 650.1,2480.2 653.9,2473.7 657.7,2468.5 661.5,2464.2 671,2456.1 680.6,2450.9 690.2,2448.1 699.8,2446.3 718.8,2442.9 756.4,2436 1088,2375.6 1392.9,2320.1 1421.3,2314.9 1431.8,2313 1438.8,2311.7 1445.8,2310.4 1452.7,2309.2 1456.2,2308.5 1459.6,2307.9 1463.1,2307.3"/><polyline points="667.4,2515.4 670.9,2493.5 674.6,2484.6 678.4,2478 682.2,2472.8 686,2468.4 695.6,2460.3 705.1,2455.2 714.7,2452.3 724.3,2450.5 743.3,2447 780.9,2440.1 1112,2379.2 1416.4,2323.3 1444.7,2318.1 1455.2,2316.1 1462.2,2314.8 1469.2,2313.6 1476.1,2312.3 1479.6,2311.6 1483,2311 1486.5,2310.4"/><polyline points="692,2520 695.6,2497.9 699.3,2489 703.1,2482.4 706.9,2477.1 710.7,2472.8 720.3,2464.6 729.9,2459.4 739.4,2456.5 749,2454.8 768,2451.2 805.5,2444.3 1136.2,2382.9 1440.1,2326.5 1468.3,2321.2 1478.8,2319.3 1485.8,2318 1492.7,2316.7 1499.6,2315.4 1503.1,2314.8 1506.5,2314.1 1510,2313.5"/><polyline points="716.9,2524.5 720.5,2502.4 724.2,2493.4 728,2486.8 731.8,2481.5 735.7,2477.1 745.2,2469 754.8,2463.7 764.3,2460.8 773.9,2459 792.8,2455.5 830.4,2448.4 1160.6,2386.6 1463.9,2329.7 1492.1,2324.4 1502.6,2322.5 1509.5,2321.2 1516.4,2319.9 1523.3,2318.6 1526.8,2317.9 1530.2,2317.3 1533.7,2316.6"/><polyline points="742,2529.1 745.6,2506.9 749.4,2497.9 753.2,2491.2 757,2485.9 760.8,2481.5 770.3,2473.3 779.9,2468 789.4,2465.1 799,2463.3 817.9,2459.7 855.4,2452.6 1185.2,2390.3 1487.9,2333 1516,2327.7 1526.5,2325.7 1533.4,2324.4 1540.3,2323.1 1547.2,2321.8 1550.6,2321.1 1554.1,2320.5 1557.5,2319.8"/><polyline points="767.3,2533.7 770.9,2511.4 774.7,2502.4 778.5,2495.7 782.3,2490.4 786.1,2486 795.6,2477.7 805.2,2472.4 814.7,2469.5 824.3,2467.6 843.2,2464 880.6,2456.9 1209.9,2394 1512.1,2336.3 1540.1,2330.9 1550.5,2328.9 1557.5,2327.6 1564.4,2326.3 1571.2,2325 1574.7,2324.3 1578.1,2323.7 1581.5,2323"/><polyline points="792.8,2538.4 796.4,2516 800.2,2506.9 804,2500.2 807.8,2494.9 811.6,2490.4 821.2,2482.1 830.7,2476.8 840.2,2473.8 849.7,2472 868.7,2468.4 906,2461.2 1234.8,2397.7 1536.4,2339.6 1564.4,2334.2 1574.8,2332.2 1581.7,2330.8 1588.6,2329.5 1595.4,2328.2 1598.8,2327.5 1602.2,2326.9 1605.7,2326.2"/><polyline points="818.5,2543.1 822.1,2520.6 825.9,2511.5 829.7,2504.8 833.5,2499.4 837.3,2494.9 846.9,2486.6 856.4,2481.2 865.9,2478.3 875.4,2476.4 894.3,2472.7 931.7,2465.5 1260,2401.5 1560.9,2342.9 1588.8,2337.5 1599.2,2335.4 1606.1,2334.1 1612.9,2332.8 1619.8,2331.4 1623.2,2330.8 1626.6,2330.1 1630,2329.4"/><polyline points="844.4,2547.9 848.1,2525.3 851.8,2516.1 855.6,2509.4 859.5,2504 863.3,2499.5 872.8,2491.1 882.3,2485.7 891.9,2482.7 901.3,2480.8 920.2,2477.1 957.5,2469.8 1285.2,2405.3 1585.5,2346.2 1613.4,2340.8 1623.7,2338.7 1630.6,2337.4 1637.4,2336 1644.3,2334.7 1647.7,2334 1651.1,2333.4 1654.5,2332.7"/><polyline points="870.5,2552.6 874.2,2530 878,2520.8 881.8,2514 885.6,2508.6 889.4,2504.1 899,2495.6 908.5,2490.2 918,2487.2 927.5,2485.3 946.3,2481.6 983.5,2474.2 1310.7,2409.2 1610.4,2349.6 1638.1,2344.1 1648.5,2342.1 1655.3,2340.7 1662.1,2339.3 1669,2338 1672.4,2337.3 1675.7,2336.6 1679.1,2336"/><polyline points="896.8,2557.5 900.5,2534.7 904.3,2525.4 908.1,2518.6 912,2513.2 915.8,2508.7 925.3,2500.2 934.8,2494.7 944.3,2491.7 953.8,2489.8 972.6,2486 1009.8,2478.6 1336.4,2413 1635.4,2353 1663.1,2347.5 1673.4,2345.4 1680.2,2344 1687,2342.7 1693.8,2341.3 1697.2,2340.6 1700.6,2339.9 1704,2339.3"/><polyline points="923.4,2562.3 927.1,2539.5 930.9,2530.2 934.7,2523.3 938.5,2517.9 942.4,2513.3 951.9,2504.8 961.4,2499.3 970.9,2496.3 980.3,2494.4 999.1,2490.5 1036.2,2483 1362.3,2416.9 1660.5,2356.4 1688.2,2350.8 1698.4,2348.8 1705.3,2347.4 1712.1,2346 1718.8,2344.6 1722.2,2343.9 1725.6,2343.3 1728.9,2342.6"/><polyline points="950.1,2567.2 953.9,2544.3 957.7,2534.9 961.5,2528.1 965.3,2522.6 969.1,2518 978.7,2509.5 988.2,2503.9 997.6,2500.9 1007.1,2498.9 1025.8,2495.1 1062.9,2487.5 1388.3,2420.8 1685.9,2359.9 1713.5,2354.2 1723.7,2352.1 1730.5,2350.8 1737.3,2349.4 1744,2348 1747.4,2347.3 1750.8,2346.6 1754.1,2345.9"/><polyline points="977.1,2572.2 980.9,2549.1 984.7,2539.8 988.5,2532.9 992.4,2527.3 996.2,2522.7 1005.7,2514.1 1015.2,2508.6 1024.6,2505.5 1034,2503.6 1052.8,2499.7 1089.8,2492 1414.6,2424.8 1711.4,2363.4 1738.9,2357.7 1749.1,2355.6 1755.9,2354.2 1762.7,2352.8 1769.4,2351.4 1772.8,2350.7 1776.1,2350 1779.5,2349.3"/><polyline points="1004.3,2577.1 1008.1,2554 1012,2544.6 1015.8,2537.7 1019.6,2532.1 1023.4,2527.5 1032.9,2518.9 1042.4,2513.3 1051.8,2510.2 1061.2,2508.2 1079.9,2504.3 1116.9,2496.6 1441.1,2428.8 1737.1,2366.9 1764.6,2361.1 1774.7,2359 1781.5,2357.6 1788.2,2356.2 1795,2354.8 1798.3,2354.1 1801.6,2353.4 1805,2352.7"/><polyline points="1031.8,2582.2 1035.6,2558.9 1039.4,2549.5 1043.2,2542.5 1047.1,2536.9 1050.9,2532.3 1060.4,2523.6 1069.8,2518 1079.3,2514.9 1088.7,2512.9 1107.3,2509 1144.2,2501.2 1467.7,2432.8 1763,2370.4 1790.4,2364.6 1800.5,2362.5 1807.3,2361 1814,2359.6 1820.7,2358.2 1824,2357.5 1827.4,2356.8 1830.7,2356.1"/><polyline points="1059.4,2587.2 1063.3,2563.9 1067.1,2554.4 1070.9,2547.4 1074.8,2541.8 1078.6,2537.2 1088.1,2528.4 1097.5,2522.8 1106.9,2519.6 1116.3,2517.6 1134.9,2513.7 1171.8,2505.8 1494.6,2436.8 1789.1,2373.9 1816.4,2368.1 1826.5,2365.9 1833.2,2364.5 1839.9,2363.1 1846.6,2361.6 1849.9,2360.9 1853.2,2360.2 1856.6,2359.5"/><polyline points="1087.3,2592.3 1091.2,2568.9 1095,2559.4 1098.9,2552.4 1102.7,2546.7 1106.5,2542.1 1116,2533.3 1125.4,2527.6 1134.8,2524.4 1144.2,2522.4 1162.8,2518.4 1199.5,2510.5 1521.7,2440.9 1815.4,2377.5 1842.5,2371.6 1852.6,2369.4 1859.3,2368 1866,2366.6 1872.7,2365.1 1876,2364.4 1879.3,2363.7 1882.6,2363"/><polyline points="211.5,2432 214.9,2432.6 218.3,2433.2 221.6,2433.8 225,2434.4 228.4,2435.1 237,2436.6 245.5,2438.2 254.1,2439.8 262.6,2441.3 279.9,2444.5 314.7,2450.9 667.4,2515.4 1087.3,2592.3 1132.5,2600.6 1149.6,2603.7 1161,2605.8 1172.5,2607.9 1184,2610 1189.8,2611.1 1195.5,2612.2 1201.3,2613.2"/><polyline points="242.2,2379.3 245.6,2379.9 249,2380.5 252.4,2381.1 255.8,2381.7 259.2,2382.3 267.7,2383.7 276.3,2385.2 284.9,2386.7 293.5,2388.2 310.7,2391.2 345.6,2397.2 698.8,2458.3 1119.1,2531.1 1164.3,2538.9 1181.4,2541.9 1192.8,2543.8 1204.3,2545.8 1215.8,2547.8 1221.6,2548.8 1227.4,2549.8 1233.2,2550.8"/><polyline points="274.4,2371.4 277.8,2372 281.2,2372.6 284.5,2373.2 287.9,2373.8 291.3,2374.3 299.9,2375.8 308.4,2377.3 317,2378.7 325.6,2380.2 342.9,2383.1 377.7,2389.1 730.6,2449.4 1150.4,2521.1 1195.5,2528.8 1212.5,2531.7 1224,2533.6 1235.4,2535.6 1246.9,2537.5 1252.7,2538.5 1258.4,2539.5 1264.2,2540.5"/><polyline points="306.3,2366.5 309.6,2367.1 313,2367.7 316.4,2368.2 319.8,2368.8 323.2,2369.4 331.7,2370.8 340.3,2372.3 348.9,2373.7 357.5,2375.2 374.7,2378.1 409.6,2384 762.2,2443.6 1181.2,2514.4 1226.2,2522 1243.2,2524.9 1254.6,2526.8 1266.1,2528.7 1277.5,2530.7 1283.3,2531.7 1289,2532.6 1294.8,2533.6"/><polyline points="337.8,2361.6 341.2,2362.2 344.5,2362.8 347.9,2363.3 351.3,2363.9 354.7,2364.5 363.3,2365.9 371.8,2367.3 380.4,2368.8 389,2370.2 406.2,2373.1 441,2378.9 793.3,2437.8 1211.7,2507.8 1256.5,2515.3 1273.5,2518.2 1284.9,2520.1 1296.3,2522 1307.7,2523.9 1313.5,2524.9 1319.2,2525.8 1325,2526.8"/><polyline points="368.9,2356.8 372.3,2357.4 375.7,2357.9 379.1,2358.5 382.5,2359.1 385.9,2359.6 394.4,2361 402.9,2362.5 411.5,2363.9 420.1,2365.3 437.3,2368.2 472.1,2373.9 824,2432.2 1241.7,2501.4 1286.5,2508.8 1303.4,2511.6 1314.8,2513.5 1326.1,2515.3 1337.6,2517.2 1343.3,2518.2 1349,2519.1 1354.8,2520.1"/><polyline points="399.7,2352.1 403.1,2352.6 406.5,2353.2 409.9,2353.7 413.3,2354.3 416.7,2354.8 425.2,2356.2 433.7,2357.6 442.3,2359 450.9,2360.4 468.1,2363.3 502.9,2369 854.4,2426.6 1271.3,2495 1316,2502.3 1332.9,2505.1 1344.2,2506.9 1355.6,2508.8 1367,2510.6 1372.7,2511.6 1378.4,2512.5 1384.1,2513.5"/><polyline points="430.2,2347.4 433.6,2347.9 437,2348.5 440.3,2349 443.7,2349.6 447.1,2350.1 455.6,2351.5 464.2,2352.9 472.7,2354.3 481.3,2355.6 498.5,2358.4 533.3,2364.1 884.4,2421.1 1300.6,2488.6 1345.2,2495.9 1362,2498.6 1373.3,2500.4 1384.6,2502.3 1396,2504.1 1401.7,2505.1 1407.4,2506 1413.1,2506.9"/><polyline points="460.3,2342.7 463.7,2343.2 467.1,2343.8 470.5,2344.3 473.8,2344.9 477.2,2345.4 485.7,2346.8 494.3,2348.2 502.8,2349.5 511.4,2350.9 528.6,2353.7 563.3,2359.3 914.1,2415.6 1329.4,2482.4 1373.9,2489.6 1390.8,2492.3 1402,2494.1 1413.3,2495.9 1424.7,2497.7 1430.3,2498.6 1436,2499.5 1441.7,2500.5"/><polyline points="490.1,2338.1 493.5,2338.6 496.8,2339.2 500.2,2339.7 503.6,2340.2 507,2340.8 515.5,2342.1 524,2343.5 532.6,2344.9 541.1,2346.2 558.3,2349 593,2354.5 943.4,2410.3 1358,2476.2 1402.3,2483.3 1419.1,2486 1430.4,2487.8 1441.6,2489.6 1453,2491.4 1458.6,2492.3 1464.3,2493.2 1470,2494.1"/><polyline points="519.5,2333.5 522.9,2334.1 526.3,2334.6 529.7,2335.1 533.1,2335.7 536.4,2336.2 544.9,2337.5 553.4,2338.9 562,2340.2 570.5,2341.6 587.7,2344.3 622.4,2349.8 972.3,2404.9 1386.1,2470.2 1430.4,2477.2 1447.1,2479.8 1458.3,2481.6 1469.6,2483.3 1480.9,2485.1 1486.5,2486 1492.2,2486.9 1497.9,2487.8"/><polyline points="548.7,2329 552,2329.6 555.4,2330.1 558.8,2330.6 562.2,2331.1 565.6,2331.7 574,2333 582.5,2334.3 591.1,2335.7 599.6,2337 616.8,2339.7 651.4,2345.1 1000.9,2399.7 1413.9,2464.2 1458.1,2471.1 1474.8,2473.7 1486,2475.4 1497.2,2477.2 1508.4,2478.9 1514.1,2479.8 1519.7,2480.7 1525.4,2481.6"/><polyline points="577.5,2324.6 580.8,2325.1 584.2,2325.6 587.6,2326.1 591,2326.7 594.4,2327.2 602.8,2328.5 611.3,2329.8 619.8,2331.1 628.4,2332.5 645.5,2335.1 680.1,2340.5 1029.2,2394.5 1441.3,2458.2 1485.4,2465.1 1502.1,2467.6 1513.2,2469.4 1524.4,2471.1 1535.7,2472.8 1541.3,2473.7 1546.9,2474.6 1552.6,2475.5"/><polyline points="606,2320.2 609.3,2320.7 612.7,2321.2 616.1,2321.7 619.5,2322.2 622.8,2322.8 631.3,2324.1 639.8,2325.4 648.3,2326.7 656.8,2328 674,2330.6 708.5,2335.9 1057.1,2389.3 1468.4,2452.4 1512.4,2459.1 1529,2461.7 1540.2,2463.4 1551.3,2465.1 1562.5,2466.8 1568.1,2467.7 1573.8,2468.5 1579.4,2469.4"/><polyline points="634.2,2315.8 637.5,2316.3 640.9,2316.8 644.3,2317.4 647.6,2317.9 651,2318.4 659.5,2319.7 667.9,2321 676.4,2322.2 685,2323.5 702.1,2326.1 736.6,2331.4 1084.7,2384.3 1495.2,2446.6 1539.1,2453.3 1555.7,2455.8 1566.8,2457.5 1577.9,2459.2 1589.1,2460.9 1594.7,2461.7 1600.3,2462.6 1605.9,2463.4"/><polyline points="662,2311.5 665.4,2312 668.8,2312.5 672.1,2313 675.5,2313.5 678.9,2314 687.3,2315.3 695.8,2316.6 704.3,2317.9 712.8,2319.1 729.9,2321.7 764.4,2326.9 1112,2379.2 1521.7,2440.9 1565.4,2447.5 1582,2450 1593,2451.6 1604.1,2453.3 1615.3,2455 1620.9,2455.8 1626.5,2456.7 1632.1,2457.5"/><polyline points="689.6,2307.2 693,2307.7 696.3,2308.2 699.7,2308.7 703.1,2309.2 706.4,2309.8 714.9,2311 723.3,2312.3 731.8,2313.5 740.3,2314.8 757.4,2317.4 791.9,2322.5 1139,2374.3 1547.8,2435.3 1591.4,2441.8 1607.9,2444.2 1619,2445.9 1630,2447.5 1641.2,2449.2 1646.7,2450 1652.3,2450.9 1657.9,2451.7"/><polyline points="716.9,2303 720.3,2303.5 723.6,2304 727,2304.5 730.3,2305 733.7,2305.5 742.1,2306.8 750.6,2308 759.1,2309.3 767.6,2310.5 784.6,2313 819.1,2318.1 1165.6,2369.4 1573.6,2429.7 1617.1,2436.1 1633.6,2438.6 1644.6,2440.2 1655.6,2441.8 1666.7,2443.5 1672.3,2444.3 1677.8,2445.1 1683.4,2445.9"/><polyline points="743.9,2298.8 747.2,2299.3 750.6,2299.8 754,2300.3 757.3,2300.8 760.7,2301.3 769.1,2302.5 777.5,2303.8 786,2305 794.5,2306.3 811.6,2308.8 845.9,2313.8 1192,2364.5 1599.1,2424.2 1642.5,2430.6 1658.9,2433 1669.9,2434.6 1680.9,2436.2 1692,2437.8 1697.5,2438.6 1703.1,2439.4 1708.6,2440.2"/><polyline points="770.6,2294.7 774,2295.2 777.3,2295.7 780.7,2296.2 784,2296.7 787.4,2297.2 795.8,2298.4 804.2,2299.6 812.7,2300.8 821.2,2302.1 838.2,2304.5 872.5,2309.5 1218.1,2359.7 1624.3,2418.8 1667.6,2425 1683.9,2427.4 1694.9,2429 1705.9,2430.6 1716.9,2432.2 1722.4,2433 1728,2433.8 1733.5,2434.6"/><polyline points="797,2290.6 800.4,2291.1 803.7,2291.6 807.1,2292.1 810.4,2292.6 813.8,2293 822.2,2294.3 830.6,2295.5 839.1,2296.7 847.5,2297.9 864.5,2300.4 898.8,2305.3 1243.8,2355 1649.1,2413.4 1692.3,2419.6 1708.7,2422 1719.6,2423.5 1730.6,2425.1 1741.6,2426.7 1747.1,2427.5 1752.6,2428.3 1758.1,2429.1"/><polyline points="823.2,2286.6 826.5,2287.1 829.9,2287.5 833.2,2288 836.6,2288.5 839.9,2289 848.3,2290.2 856.7,2291.4 865.2,2292.6 873.6,2293.8 890.6,2296.2 924.9,2301.1 1269.3,2350.3 1673.7,2408.1 1716.8,2414.2 1733.1,2416.6 1744,2418.1 1755,2419.7 1765.9,2421.2 1771.4,2422 1776.9,2422.8 1782.4,2423.6"/><polyline points="849.1,2282.6 852.4,2283.1 855.7,2283.5 859.1,2284 862.4,2284.5 865.8,2285 874.2,2286.1 882.6,2287.3 891,2288.5 899.5,2289.7 916.4,2292.1 950.6,2297 1294.5,2345.7 1698,2402.8 1741,2408.9 1757.3,2411.2 1768.1,2412.8 1779,2414.3 1790,2415.8 1795.5,2416.6 1800.9,2417.4 1806.4,2418.2"/><polyline points="874.7,2278.6 878,2279.1 881.4,2279.6 884.7,2280 888,2280.5 891.4,2281 899.7,2282.1 908.1,2283.3 916.6,2284.5 925,2285.7 941.9,2288.1 976.1,2292.9 1319.4,2341.1 1722.1,2397.6 1764.9,2403.7 1781.1,2405.9 1792,2407.5 1802.8,2409 1813.8,2410.5 1819.2,2411.3 1824.7,2412.1 1830.2,2412.8"/><polyline points="900,2274.7 903.4,2275.2 906.7,2275.6 910,2276.1 913.4,2276.6 916.7,2277 925.1,2278.2 933.5,2279.4 941.9,2280.5 950.3,2281.7 967.2,2284.1 1001.3,2288.8 1344.1,2336.6 1745.8,2392.5 1788.5,2398.5 1804.7,2400.7 1815.5,2402.2 1826.4,2403.7 1837.2,2405.3 1842.7,2406 1848.2,2406.8 1853.6,2407.5"/><polyline points="925.1,2270.8 928.5,2271.3 931.8,2271.7 935.1,2272.2 938.4,2272.7 941.8,2273.1 950.1,2274.3 958.5,2275.4 966.9,2276.6 975.3,2277.8 992.2,2280.1 1026.3,2284.8 1368.5,2332.1 1769.3,2387.5 1811.9,2393.3 1828,2395.6 1838.8,2397.1 1849.6,2398.6 1860.5,2400.1 1865.9,2400.8 1871.3,2401.6 1876.8,2402.3"/><polyline points="950,2267 953.3,2267.4 956.6,2267.9 959.9,2268.4 963.3,2268.8 966.6,2269.3 974.9,2270.4 983.3,2271.6 991.7,2272.7 1000.1,2273.9 1017,2276.2 1051,2280.8 1392.6,2327.6 1792.4,2382.4 1835,2388.3 1851.1,2390.5 1861.8,2392 1872.6,2393.4 1883.4,2394.9 1888.8,2395.7 1894.3,2396.4 1899.7,2397.1"/><polyline points="974.6,2263.2 977.9,2263.6 981.2,2264.1 984.5,2264.5 987.8,2265 991.2,2265.4 999.5,2266.6 1007.8,2267.7 1016.2,2268.8 1024.6,2270 1041.5,2272.3 1075.4,2276.9 1416.4,2323.3 1815.4,2377.5 1857.8,2383.3 1873.8,2385.4 1884.6,2386.9 1895.3,2388.4 1906.1,2389.8 1911.5,2390.6 1916.9,2391.3 1922.3,2392"/><polyline points="998.9,2259.4 1002.2,2259.9 1005.5,2260.3 1008.8,2260.8 1012.1,2261.2 1015.5,2261.7 1023.8,2262.8 1032.1,2263.9 1040.5,2265 1048.9,2266.2 1065.7,2268.4 1099.6,2273 1440,2318.9 1838,2372.6 1880.3,2378.3 1896.3,2380.5 1907,2381.9 1917.8,2383.4 1928.5,2384.8 1933.9,2385.5 1939.3,2386.3 1944.7,2387"/><polyline points="1023,2255.7 1026.3,2256.1 1029.6,2256.6 1032.9,2257 1036.2,2257.5 1039.5,2257.9 1047.8,2259 1056.2,2260.1 1064.5,2261.3 1072.9,2262.4 1089.7,2264.6 1123.6,2269.2 1463.4,2314.6 1860.5,2367.8 1902.6,2373.4 1918.6,2375.5 1929.3,2377 1940,2378.4 1950.7,2379.8 1956.1,2380.6 1961.4,2381.3 1966.8,2382"/><polyline points="1046.8,2252 1050.1,2252.4 1053.4,2252.9 1056.7,2253.3 1060.1,2253.8 1063.4,2254.2 1071.7,2255.3 1080,2256.4 1088.3,2257.5 1096.7,2258.6 1113.5,2260.9 1147.3,2265.3 1486.5,2310.4 1882.6,2363 1924.7,2368.6 1940.6,2370.7 1951.2,2372.1 1961.9,2373.5 1972.6,2374.9 1978,2375.6 1983.3,2376.4 1988.7,2377.1"/></g>
<g stroke-width="1.2" stroke-linejoin="round"><polygon points="1074.1,3823.1 1829.1,3438.8 1829.4,3432.3 1074.1,3815.5" fill="#81007b" stroke="#81007b"/><polygon points="1074.1,3815.5 1829.4,3432.3 1829.6,3425.9 1074.1,3808" fill="#880089" stroke="#880089"/><polygon points="1074.1,3808 1829.6,3425.9 1829.8,3419.4 1074.1,3800.4" fill="#8f0097" stroke="#8f0097"/><polygon points="1074.1,3800.4 1829.8,3419.4 1830.1,3412.9 1074.1,3792.9" fill="#9400a3" stroke="#9400a3"/><polygon points="1074.1,3792.9 1830.1,3412.9 1830.3,3406.4 1074.1,3785.3" fill="#9700ae" stroke="#9700ae"/><polygon points="1074.1,3785.3 1830.3,3406.4 1830.5,3399.9 1074.1,3777.7" fill="#9b00ba" stroke="#9b00ba"/><polygon points="1074.1,3777.7 1830.5,3399.9 1830.8,3393.4 1074,3770.1" fill="#9f00c5" stroke="#9f00c5"/><polygon points="1074,3770.1 1830.8,3393.4 1831,3386.9 1074,3762.5" fill="#a000cd" stroke="#a000cd"/><polygon points="1074,3762.5 1831,3386.9 1831.3,3380.4 1074,3754.9" fill="#9f00d5" stroke="#9f00d5"/><polygon points="1074,3754.9 1831.3,3380.4 1831.5,3373.9 1074,3747.3" fill="#9f00dc" stroke="#9f00dc"/><polygon points="1074,3747.3 1831.5,3373.9 1831.7,3367.4 1074,3739.7" fill="#9e00e3" stroke="#9e00e3"/><polygon points="1074,3739.7 1831.7,3367.4 1832,3360.9 1074,3732.1" fill="#9d00e9" stroke="#9d00e9"/><polygon points="1074,3732.1 1832,3360.9 1832.2,3354.3 1074,3724.5" fill="#9900ee" stroke="#9900ee"/><polygon points="1074,3724.5 1832.2,3354.3 1832.4,3347.8 1074,3716.9" fill="#9400f3" stroke="#9400f3"/><polygon points="1074,3716.9 1832.4,3347.8 1832.7,3341.3 1073.9,3709.2" fill="#9000f8" stroke="#9000f8"/><polygon points="1073.9,3709.2 1832.7,3341.3 1832.9,3334.7 1073.9,3701.6" fill="#8c00fd" stroke="#8c00fd"/><polygon points="1073.9,3701.6 1832.9,3334.7 1833.1,3328.2 1073.9,3694" fill="#8100ff" stroke="#8100ff"/><polygon points="1073.9,3694 1833.1,3328.2 1833.4,3321.6 1073.9,3686.3" fill="#6f00ff" stroke="#6f00ff"/><polygon points="1073.9,3686.3 1833.4,3321.6 1833.6,3315.1 1073.9,3678.7" fill="#5e00ff" stroke="#5e00ff"/><polygon points="1073.9,3678.7 1833.6,3315.1 1833.9,3308.5 1073.9,3671" fill="#4c00ff" stroke="#4c00ff"/><polygon points="1073.9,3671 1833.9,3308.5 1834.1,3302 1073.9,3663.3" fill="#3a00ff" stroke="#3a00ff"/><polygon points="1073.9,3663.3 1834.1,3302 1834.3,3295.4 1073.8,3655.7" fill="#2900ff" stroke="#2900ff"/><polygon points="1073.8,3655.7 1834.3,3295.4 1834.6,3288.8 1073.8,3648" fill="#1700ff" stroke="#1700ff"/><polygon points="1073.8,3648 1834.6,3288.8 1834.8,3282.3 1073.8,3640.3" fill="#0500ff" stroke="#0500ff"/><polygon points="1073.8,3640.3 1834.8,3282.3 1835,3275.7 1073.8,3632.6" fill="#000cff" stroke="#000cff"/><polygon points="1073.8,3632.6 1835,3275.7 1835.3,3269.1 1073.8,3624.9" fill="#001dff" stroke="#001dff"/><polygon points="1073.8,3624.9 1835.3,3269.1 1835.5,3262.5 1073.8,3617.2" fill="#002eff" stroke="#002eff"/><polygon points="1073.8,3617.2 1835.5,3262.5 1835.8,3255.9 1073.8,3609.5" fill="#003fff" stroke="#003fff"/><polygon points="1073.8,3609.5 1835.8,3255.9 1836,3249.4 1073.8,3601.8" fill="#0050ff" stroke="#0050ff"/><polygon points="1073.8,3601.8 1836,3249.4 1836.2,3242.8 1073.7,3594.1" fill="#0061ff" stroke="#0061ff"/><polygon points="1073.7,3594.1 1836.2,3242.8 1836.5,3236.2 1073.7,3586.3" fill="#0072ff" stroke="#0072ff"/><polygon points="1073.7,3586.3 1836.5,3236.2 1836.7,3229.5 1073.7,3578.6" fill="#0083ff" stroke="#0083ff"/><polygon points="1073.7,3578.6 1836.7,3229.5 1837,3222.9 1073.7,3570.9" fill="#0091ff" stroke="#0091ff"/><polygon points="1073.7,3570.9 1837,3222.9 1837.2,3216.3 1073.7,3563.1" fill="#009bff" stroke="#009bff"/><polygon points="1073.7,3563.1 1837.2,3216.3 1837.4,3209.7 1073.7,3555.4" fill="#00a5ff" stroke="#00a5ff"/><polygon points="1073.7,3555.4 1837.4,3209.7 1837.7,3203.1 1073.7,3547.6" fill="#00afff" stroke="#00afff"/><polygon points="1073.7,3547.6 1837.7,3203.1 1837.9,3196.4 1073.6,3539.9" fill="#00b9ff" stroke="#00b9ff"/><polygon points="1073.6,3539.9 1837.9,3196.4 1838.1,3189.8 1073.6,3532.1" fill="#00c3ff" stroke="#00c3ff"/><polygon points="1073.6,3532.1 1838.1,3189.8 1838.4,3183.2 1073.6,3524.3" fill="#00cdff" stroke="#00cdff"/><polygon points="1073.6,3524.3 1838.4,3183.2 1838.6,3176.5 1073.6,3516.5" fill="#00d7ff" stroke="#00d7ff"/><polygon points="1073.6,3516.5 1838.6,3176.5 1838.9,3169.9 1073.6,3508.7" fill="#00e1ff" stroke="#00e1ff"/><polygon points="1073.6,3508.7 1838.9,3169.9 1839.1,3163.2 1073.6,3500.9" fill="#00eaff" stroke="#00eaff"/><polygon points="1073.6,3500.9 1839.1,3163.2 1839.4,3156.6 1073.6,3493.1" fill="#00f4ff" stroke="#00f4ff"/><polygon points="1073.6,3493.1 1839.4,3156.6 1839.6,3149.9 1073.5,3485.3" fill="#00feff" stroke="#00feff"/><polygon points="1073.5,3485.3 1839.6,3149.9 1839.8,3143.3 1073.5,3477.5" fill="#00ffe7" stroke="#00ffe7"/><polygon points="1073.5,3477.5 1839.8,3143.3 1840.1,3136.6 1073.5,3469.7" fill="#00ffcd" stroke="#00ffcd"/><polygon points="1073.5,3469.7 1840.1,3136.6 1840.3,3129.9 1073.5,3461.9" fill="#00ffb2" stroke="#00ffb2"/><polygon points="1073.5,3461.9 1840.3,3129.9 1840.6,3123.2 1073.5,3454.1" fill="#00ff98" stroke="#00ff98"/><polygon points="1073.5,3454.1 1840.6,3123.2 1840.8,3116.6 1073.5,3446.2" fill="#00ff7e" stroke="#00ff7e"/><polygon points="1073.5,3446.2 1840.8,3116.6 1841,3109.9 1073.5,3438.4" fill="#00ff49" stroke="#00ff49"/><polygon points="1073.5,3438.4 1841,3109.9 1841.3,3103.2 1073.4,3430.5" fill="#00ff00" stroke="#00ff00"/><polygon points="1073.4,3430.5 1841.3,3103.2 1841.5,3096.5 1073.4,3422.7" fill="#00ff00" stroke="#00ff00"/><polygon points="1073.4,3422.7 1841.5,3096.5 1841.8,3089.8 1073.4,3414.8" fill="#00ff00" stroke="#00ff00"/><polygon points="1073.4,3414.8 1841.8,3089.8 1842,3083.1 1073.4,3406.9" fill="#00ff00" stroke="#00ff00"/><polygon points="1073.4,3406.9 1842,3083.1 1842.3,3076.4 1073.4,3399.1" fill="#00ff00" stroke="#00ff00"/><polygon points="1073.4,3399.1 1842.3,3076.4 1842.5,3069.7 1073.4,3391.2" fill="#00ff00" stroke="#00ff00"/><polygon points="1073.4,3391.2 1842.5,3069.7 1842.7,3063 1073.4,3383.3" fill="#00ff00" stroke="#00ff00"/><polygon points="1073.4,3383.3 1842.7,3063 1843,3056.2 1073.4,3375.4" fill="#00ff00" stroke="#00ff00"/><polygon points="1073.4,3375.4 1843,3056.2 1843.2,3049.5 1073.3,3367.5" fill="#00ff00" stroke="#00ff00"/><polygon points="1073.3,3367.5 1843.2,3049.5 1843.5,3042.8 1073.3,3359.6" fill="#00ff00" stroke="#00ff00"/><polygon points="1073.3,3359.6 1843.5,3042.8 1843.7,3036.1 1073.3,3351.7" fill="#00ff00" stroke="#00ff00"/><polygon points="1073.3,3351.7 1843.7,3036.1 1844,3029.3 1073.3,3343.8" fill="#00ff00" stroke="#00ff00"/><polygon points="1073.3,3343.8 1844,3029.3 1844.2,3022.6 1073.3,3335.9" fill="#00ff00" stroke="#00ff00"/><polygon points="1073.3,3335.9 1844.2,3022.6 1844.4,3015.8 1073.3,3327.9" fill="#00ff00" stroke="#00ff00"/><polygon points="1073.3,3327.9 1844.4,3015.8 1844.7,3009.1 1073.3,3320" fill="#00ff00" stroke="#00ff00"/><polygon points="1073.3,3320 1844.7,3009.1 1844.9,3002.3 1073.2,3312.1" fill="#64ff00" stroke="#64ff00"/><polygon points="1073.2,3312.1 1844.9,3002.3 1845.2,2995.6 1073.2,3304.1" fill="#80ff00" stroke="#80ff00"/><polygon points="1073.2,3304.1 1845.2,2995.6 1845.4,2988.8 1073.2,3296.1" fill="#89ff00" stroke="#89ff00"/><polygon points="1073.2,3296.1 1845.4,2988.8 1845.7,2982 1073.2,3288.2" fill="#93ff00" stroke="#93ff00"/><polygon points="1073.2,3288.2 1845.7,2982 1845.9,2975.2 1073.2,3280.2" fill="#9cff00" stroke="#9cff00"/><polygon points="1073.2,3280.2 1845.9,2975.2 1846.2,2968.5 1073.2,3272.2" fill="#a5ff00" stroke="#a5ff00"/><polygon points="1073.2,3272.2 1846.2,2968.5 1846.4,2961.7 1073.2,3264.3" fill="#afff00" stroke="#afff00"/><polygon points="1073.2,3264.3 1846.4,2961.7 1846.7,2954.9 1073.1,3256.3" fill="#b8ff00" stroke="#b8ff00"/><polygon points="1073.1,3256.3 1846.7,2954.9 1846.9,2948.1 1073.1,3248.3" fill="#c2ff00" stroke="#c2ff00"/><polygon points="1073.1,3248.3 1846.9,2948.1 1847.1,2941.3 1073.1,3240.3" fill="#cbff00" stroke="#cbff00"/><polygon points="1073.1,3240.3 1847.1,2941.3 1847.4,2934.5 1073.1,3232.3" fill="#d5ff00" stroke="#d5ff00"/><polygon points="1073.1,3232.3 1847.4,2934.5 1847.6,2927.7 1073.1,3224.3" fill="#deff00" stroke="#deff00"/><polygon points="1073.1,3224.3 1847.6,2927.7 1847.9,2920.9 1073.1,3216.2" fill="#e7ff00" stroke="#e7ff00"/><polygon points="1073.1,3216.2 1847.9,2920.9 1848.1,2914.1 1073.1,3208.2" fill="#f1ff00" stroke="#f1ff00"/><polygon points="1073.1,3208.2 1848.1,2914.1 1848.4,2907.2 1073,3200.2" fill="#faff00" stroke="#faff00"/><polygon points="1073,3200.2 1848.4,2907.2 1848.6,2900.4 1073,3192.2" fill="#fff900" stroke="#fff900"/><polygon points="1073,3192.2 1848.6,2900.4 1848.9,2893.6 1073,3184.1" fill="#ffee00" stroke="#ffee00"/><polygon points="1073,3184.1 1848.9,2893.6 1849.1,2886.8 1073,3176.1" fill="#ffe300" stroke="#ffe300"/><polygon points="1073,3176.1 1849.1,2886.8 1849.4,2879.9 1073,3168" fill="#ffd800" stroke="#ffd800"/><polygon points="1073,3168 1849.4,2879.9 1849.6,2873.1 1073,3159.9" fill="#ffcd00" stroke="#ffcd00"/><polygon points="1073,3159.9 1849.6,2873.1 1849.9,2866.2 1073,3151.9" fill="#ffc200" stroke="#ffc200"/><polygon points="1073,3151.9 1849.9,2866.2 1850.1,2859.4 1072.9,3143.8" fill="#ffb700" stroke="#ffb700"/><polygon points="1072.9,3143.8 1850.1,2859.4 1850.4,2852.5 1072.9,3135.7" fill="#ffac00" stroke="#ffac00"/><polygon points="1072.9,3135.7 1850.4,2852.5 1850.6,2845.7 1072.9,3127.6" fill="#ffa200" stroke="#ffa200"/><polygon points="1072.9,3127.6 1850.6,2845.7 1850.9,2838.8 1072.9,3119.5" fill="#ff9800" stroke="#ff9800"/><polygon points="1072.9,3119.5 1850.9,2838.8 1851.1,2831.9 1072.9,3111.4" fill="#ff8e00" stroke="#ff8e00"/><polygon points="1072.9,3111.4 1851.1,2831.9 1851.4,2825.1 1072.9,3103.3" fill="#ff8500" stroke="#ff8500"/><polygon points="1072.9,3103.3 1851.4,2825.1 1851.6,2818.2 1072.9,3095.2" fill="#ff7b00" stroke="#ff7b00"/><polygon points="1072.9,3095.2 1851.6,2818.2 1851.8,2811.3 1072.8,3087.1" fill="#ff7200" stroke="#ff7200"/><polygon points="1072.8,3087.1 1851.8,2811.3 1852.1,2804.4 1072.8,3078.9" fill="#ff6800" stroke="#ff6800"/><polygon points="1072.8,3078.9 1852.1,2804.4 1852.3,2797.5 1072.8,3070.8" fill="#ff5f00" stroke="#ff5f00"/><polygon points="1072.8,3070.8 1852.3,2797.5 1852.6,2790.6 1072.8,3062.7" fill="#ff5600" stroke="#ff5600"/><polygon points="1072.8,3062.7 1852.6,2790.6 1852.8,2783.7 1072.8,3054.5" fill="#ff4d00" stroke="#ff4d00"/><polygon points="1072.8,3054.5 1852.8,2783.7 1853.1,2776.8 1072.8,3046.4" fill="#ff4400" stroke="#ff4400"/><polygon points="1072.8,3046.4 1853.1,2776.8 1853.3,2769.9 1072.8,3038.2" fill="#ff3b00" stroke="#ff3b00"/><polygon points="1072.8,3038.2 1853.3,2769.9 1853.6,2763 1072.7,3030" fill="#ff3200" stroke="#ff3200"/><polygon points="1072.7,3030 1853.6,2763 1853.8,2756.1 1072.7,3021.9" fill="#ff2900" stroke="#ff2900"/><polygon points="1072.7,3021.9 1853.8,2756.1 1854.1,2749.1 1072.7,3013.7" fill="#ff2000" stroke="#ff2000"/><polygon points="1072.7,3013.7 1854.1,2749.1 1854.3,2742.2 1072.7,3005.5" fill="#ff1700" stroke="#ff1700"/><polygon points="1072.7,3005.5 1854.3,2742.2 1854.6,2735.3 1072.7,2997.3" fill="#ff0e00" stroke="#ff0e00"/><polygon points="1072.7,2997.3 1854.6,2735.3 1854.9,2728.3 1072.7,2989.1" fill="#ff0500" stroke="#ff0500"/><polygon points="1072.7,2989.1 1854.9,2728.3 1855.1,2721.4 1072.7,2980.9" fill="#ff0000" stroke="#ff0000"/><polygon points="1072.7,2980.9 1855.1,2721.4 1855.4,2714.4 1072.6,2972.7" fill="#ff0000" stroke="#ff0000"/><polygon points="1072.6,2972.7 1855.4,2714.4 1855.6,2707.5 1072.6,2964.5" fill="#ff0000" stroke="#ff0000"/><polygon points="1072.6,2964.5 1855.6,2707.5 1855.9,2700.5 1072.6,2956.2" fill="#ff0000" stroke="#ff0000"/><polygon points="1072.6,2956.2 1855.9,2700.5 1856.1,2693.6 1072.6,2948" fill="#ff0000" stroke="#ff0000"/><polygon points="1072.6,2948 1856.1,2693.6 1856.4,2686.6 1072.6,2939.8" fill="#ff0000" stroke="#ff0000"/><polygon points="1072.6,2939.8 1856.4,2686.6 1856.6,2679.6 1072.6,2931.5" fill="#ff0000" stroke="#ff0000"/><polygon points="1072.6,2931.5 1856.6,2679.6 1856.9,2672.6 1072.6,2923.3" fill="#ff0000" stroke="#ff0000"/><polygon points="1072.6,2923.3 1856.9,2672.6 1857.1,2665.7 1072.5,2915" fill="#ff0000" stroke="#ff0000"/><polygon points="1072.5,2915 1857.1,2665.7 1857.4,2658.7 1072.5,2906.7" fill="#ff0000" stroke="#ff0000"/><polygon points="1072.5,2906.7 1857.4,2658.7 1857.6,2651.7 1072.5,2898.5" fill="#ff0000" stroke="#ff0000"/><polygon points="1072.5,2898.5 1857.6,2651.7 1857.9,2644.7 1072.5,2890.2" fill="#ff0000" stroke="#ff0000"/><polygon points="1072.5,2890.2 1857.9,2644.7 1858.1,2637.7 1072.5,2881.9" fill="#ff0000" stroke="#ff0000"/><polygon points="1072.5,2881.9 1858.1,2637.7 1858.4,2630.7 1072.5,2873.6" fill="#ff0000" stroke="#ff0000"/><polygon points="1072.5,2873.6 1858.4,2630.7 1858.6,2623.7 1072.5,2865.3" fill="#ff0000" stroke="#ff0000"/><polygon points="1072.5,2865.3 1858.6,2623.7 1858.9,2616.6 1072.4,2857" fill="#ff0000" stroke="#ff0000"/><polygon points="1072.4,2857 1858.9,2616.6 1859.1,2609.6 1072.4,2848.7" fill="#ff0000" stroke="#ff0000"/><polygon points="1072.4,2848.7 1859.1,2609.6 1859.4,2602.6 1072.4,2840.4" fill="#ff0000" stroke="#ff0000"/><polygon points="1072.4,2840.4 1859.4,2602.6 1859.7,2595.6 1072.4,2832" fill="#ff0000" stroke="#ff0000"/><polygon points="1072.4,2832 1859.7,2595.6 1859.9,2588.5 1072.4,2823.7" fill="#ff0000" stroke="#ff0000"/><polygon points="1072.4,2823.7 1859.9,2588.5 1860.2,2581.5 1072.4,2815.4" fill="#ff0000" stroke="#ff0000"/><polygon points="1072.4,2815.4 1860.2,2581.5 1860.4,2574.5 1072.4,2807" fill="#ff0000" stroke="#ff0000"/><polygon points="1072.4,2807 1860.4,2574.5 1860.7,2567.4 1072.3,2798.7" fill="#ff0000" stroke="#ff0000"/><polygon points="1072.3,2798.7 1860.7,2567.4 1860.9,2560.4 1072.3,2790.3" fill="#ff0000" stroke="#ff0000"/><polygon points="1072.3,2790.3 1860.9,2560.4 1861.2,2553.3 1072.3,2781.9" fill="#ff0000" stroke="#ff0000"/><polygon points="1072.3,2781.9 1861.2,2553.3 1861.4,2546.2 1072.3,2773.5" fill="#ff0000" stroke="#ff0000"/><polygon points="1072.3,2773.5 1861.4,2546.2 1861.7,2539.2 1072.3,2765.2" fill="#ff0000" stroke="#ff0000"/><polygon points="1072.3,2765.2 1861.7,2539.2 1862,2532.1 1072.3,2756.8" fill="#ff0000" stroke="#ff0000"/><polygon points="1072.3,2756.8 1862,2532.1 1862.2,2525 1072.2,2748.4" fill="#ff0000" stroke="#ff0000"/><polygon points="1072.2,2748.4 1862.2,2525 1862.5,2517.9 1072.2,2740" fill="#f90000" stroke="#f90000"/><polygon points="1072.2,2740 1862.5,2517.9 1862.7,2510.8 1072.2,2731.6" fill="#f40000" stroke="#f40000"/><polygon points="1072.2,2731.6 1862.7,2510.8 1863,2503.8 1072.2,2723.2" fill="#ee0000" stroke="#ee0000"/><polygon points="1072.2,2723.2 1863,2503.8 1863.2,2496.7 1072.2,2714.7" fill="#e90000" stroke="#e90000"/><polygon points="1072.2,2714.7 1863.2,2496.7 1863.5,2489.6 1072.2,2706.3" fill="#e40000" stroke="#e40000"/><polygon points="1072.2,2706.3 1863.5,2489.6 1863.7,2482.5 1072.2,2697.9" fill="#de0000" stroke="#de0000"/><polygon points="1072.2,2697.9 1863.7,2482.5 1864,2475.3 1072.1,2689.4" fill="#d90000" stroke="#d90000"/><polygon points="1072.1,2689.4 1864,2475.3 1864.3,2468.2 1072.1,2681" fill="#d30000" stroke="#d30000"/><polygon points="1072.1,2681 1864.3,2468.2 1864.5,2461.1 1072.1,2672.5" fill="#ce0000" stroke="#ce0000"/><polygon points="1072.1,2672.5 1864.5,2461.1 1864.8,2454 1072.1,2664.1" fill="#c80000" stroke="#c80000"/><polygon points="1072.1,2664.1 1864.8,2454 1865,2446.9 1072.1,2655.6" fill="#c30000" stroke="#c30000"/><polygon points="1072.1,2655.6 1865,2446.9 1865.3,2439.7 1072.1,2647.1" fill="#be0000" stroke="#be0000"/><polygon points="1072.1,2647.1 1865.3,2439.7 1865.6,2432.6 1072.1,2638.6" fill="#b80000" stroke="#b80000"/><polygon points="1072.1,2638.6 1865.6,2432.6 1865.8,2425.4 1072,2630.1" fill="#b30000" stroke="#b30000"/><polygon points="1072,2630.1 1865.8,2425.4 1866.1,2418.3 1072,2621.6" fill="#ae0000" stroke="#ae0000"/><polygon points="1072,2621.6 1866.1,2418.3 1866.2,2415.3 1072,2618.1" fill="#aa0000" stroke="#aa0000"/><polygon points="1072,2618.1 1866.2,2415.3 1866.3,2412.3 1072,2614.6" fill="#a80000" stroke="#a80000"/><polygon points="1072,2614.6 1074.9,2613.8 1077.7,2613.1 1080.6,2612.4 1083.4,2611.7 1087.2,2610.7 1091,2609.7 1095.7,2608.5 1100.4,2607.3 1109.9,2604.9 1119.2,2602.5 1128.5,2600.2 1505.3,2504.2 1826.2,2422.5 1832.9,2420.8 1839.6,2419.1 1846.3,2417.4 1849.7,2416.6 1853,2415.7 1856.3,2414.9 1859.7,2414 1862.3,2413.4 1864.3,2412.8 1866.3,2412.3 1866.4,2409.4 1864.4,2409.9 1862.4,2410.4 1859.8,2411.1 1856.4,2411.9 1853.1,2412.7 1849.8,2413.6 1846.4,2414.4 1839.7,2416.1 1833,2417.8 1826.3,2419.5 1505.4,2501 1128.5,2596.7 1119.2,2599 1109.9,2601.4 1100.4,2603.8 1095.7,2605 1091,2606.2 1087.2,2607.2 1083.4,2608.1 1080.6,2608.9 1077.7,2609.6 1074.9,2610.3 1072,2611" fill="#a60000" stroke="#a60000"/><polygon points="1072,2611 1074.9,2610.3 1077.7,2609.6 1080.6,2608.9 1083.4,2608.1 1087.2,2607.2 1091,2606.2 1095.7,2605 1100.4,2603.8 1109.9,2601.4 1119.2,2599 1128.5,2596.7 1505.4,2501 1826.3,2419.5 1833,2417.8 1839.7,2416.1 1846.4,2414.4 1849.8,2413.6 1853.1,2412.7 1856.4,2411.9 1859.8,2411.1 1862.4,2410.4 1864.4,2409.9 1866.4,2409.4 1866.5,2406.4 1864.5,2406.9 1862.5,2407.4 1859.9,2408.1 1856.6,2408.9 1853.2,2409.8 1849.9,2410.6 1846.5,2411.4 1839.9,2413.1 1833.1,2414.8 1826.4,2416.5 1505.5,2497.8 1128.6,2593.2 1119.2,2595.5 1109.9,2597.9 1100.4,2600.3 1095.7,2601.5 1091,2602.7 1087.2,2603.6 1083.4,2604.6 1080.6,2605.3 1077.7,2606 1074.9,2606.8 1072,2607.5" fill="#a30000" stroke="#a30000"/><polygon points="1072,2607.5 1074.9,2606.8 1077.7,2606 1080.6,2605.3 1083.4,2604.6 1087.2,2603.6 1091,2602.7 1095.7,2601.5 1100.4,2600.3 1109.9,2597.9 1119.2,2595.5 1128.6,2593.2 1505.5,2497.8 1826.4,2416.5 1833.1,2414.8 1839.9,2413.1 1846.5,2411.4 1849.9,2410.6 1853.2,2409.8 1856.6,2408.9 1859.9,2408.1 1862.5,2407.4 1864.5,2406.9 1866.5,2406.4 1866.6,2403.4 1864.6,2403.9 1862.6,2404.4 1860,2405.1 1856.7,2405.9 1853.3,2406.8 1850,2407.6 1846.7,2408.5 1840,2410.1 1833.2,2411.8 1826.5,2413.5 1505.5,2494.6 1128.6,2589.7 1119.2,2592 1109.9,2594.4 1100.4,2596.8 1095.7,2598 1091,2599.2 1087.2,2600.1 1083.4,2601.1 1080.6,2601.8 1077.7,2602.5 1074.9,2603.2 1072,2604" fill="#a10000" stroke="#a10000"/><polygon points="1072,2604 1074.9,2603.2 1077.7,2602.5 1080.6,2601.8 1083.4,2601.1 1087.2,2600.1 1091,2599.2 1095.7,2598 1100.4,2596.8 1109.9,2594.4 1119.2,2592 1128.6,2589.7 1505.5,2494.6 1826.5,2413.5 1833.2,2411.8 1840,2410.1 1846.7,2408.5 1850,2407.6 1853.3,2406.8 1856.7,2405.9 1860,2405.1 1862.6,2404.4 1864.6,2403.9 1866.6,2403.4 1866.7,2400.4 1864.7,2400.9 1862.7,2401.4 1860.1,2402.1 1856.8,2403 1853.4,2403.8 1850.1,2404.6 1846.8,2405.5 1840.1,2407.2 1833.3,2408.8 1826.6,2410.5 1505.6,2491.3 1128.6,2586.2 1119.2,2588.5 1109.9,2590.9 1100.4,2593.3 1095.7,2594.5 1091,2595.6 1087.2,2596.6 1083.4,2597.5 1080.6,2598.3 1077.7,2599 1074.8,2599.7 1072,2600.4" fill="#9f0000" stroke="#9f0000"/><polygon points="1072,2600.4 1074.8,2599.7 1077.7,2599 1080.6,2598.3 1083.4,2597.5 1087.2,2596.6 1091,2595.6 1095.7,2594.5 1100.4,2593.3 1109.9,2590.9 1119.2,2588.5 1128.6,2586.2 1505.6,2491.3 1826.6,2410.5 1833.3,2408.8 1840.1,2407.2 1846.8,2405.5 1850.1,2404.6 1853.4,2403.8 1856.8,2403 1860.1,2402.1 1862.7,2401.4 1864.7,2400.9 1866.7,2400.4 1866.8,2397.5 1864.8,2398 1862.8,2398.5 1860.2,2399.1 1856.9,2400 1853.5,2400.8 1850.2,2401.6 1846.9,2402.5 1840.2,2404.2 1833.4,2405.8 1826.7,2407.5 1505.6,2488.1 1128.6,2582.7 1119.2,2585 1109.9,2587.4 1100.4,2589.7 1095.7,2590.9 1091,2592.1 1087.2,2593.1 1083.4,2594 1080.6,2594.7 1077.7,2595.5 1074.8,2596.2 1072,2596.9" fill="#9d0000" stroke="#9d0000"/><polygon points="1072,2596.9 1074.8,2596.2 1077.7,2595.5 1080.6,2594.7 1083.4,2594 1087.2,2593.1 1091,2592.1 1095.7,2590.9 1100.4,2589.7 1109.9,2587.4 1119.2,2585 1128.6,2582.7 1505.6,2488.1 1826.7,2407.5 1833.4,2405.8 1840.2,2404.2 1846.9,2402.5 1850.2,2401.6 1853.5,2400.8 1856.9,2400 1860.2,2399.1 1862.8,2398.5 1864.8,2398 1866.8,2397.5 1866.9,2394.5 1864.9,2395 1863,2395.5 1860.3,2396.2 1857,2397 1853.6,2397.8 1850.3,2398.7 1847,2399.5 1840.3,2401.2 1833.6,2402.8 1826.8,2404.5 1505.7,2484.9 1128.6,2579.2 1119.2,2581.5 1109.9,2583.9 1100.4,2586.2 1095.7,2587.4 1091,2588.6 1087.2,2589.5 1083.4,2590.5 1080.6,2591.2 1077.7,2591.9 1074.8,2592.6 1072,2593.3" fill="#9b0000" stroke="#9b0000"/><polygon points="1072,2593.3 1074.8,2592.6 1077.7,2591.9 1080.6,2591.2 1083.4,2590.5 1087.2,2589.5 1091,2588.6 1095.7,2587.4 1100.4,2586.2 1109.9,2583.9 1119.2,2581.5 1128.6,2579.2 1505.7,2484.9 1826.8,2404.5 1833.6,2402.8 1840.3,2401.2 1847,2399.5 1850.3,2398.7 1853.6,2397.8 1857,2397 1860.3,2396.2 1863,2395.5 1864.9,2395 1866.9,2394.5 1867,2392.5 1865.1,2392 1863.1,2392.5 1860.4,2393.2 1857.1,2394 1853.8,2394.8 1850.4,2395.7 1847.1,2396.5 1840.4,2398.2 1833.7,2399.8 1826.9,2401.5 1505.8,2481.6 1128.6,2575.7 1119.2,2578 1109.9,2580.4 1100.4,2582.7 1095.7,2583.9 1091,2585.1 1087.2,2586 1083.4,2587 1080.5,2587.7 1077.7,2588.4 1074.8,2589.1 1072,2589.8" fill="#980000" stroke="#980000"/><polygon points="1072,2589.8 1074.8,2589.1 1077.7,2588.4 1080.5,2587.7 1083.4,2587 1087.2,2586 1091,2585.1 1095.7,2583.9 1100.4,2582.7 1109.9,2580.4 1119.2,2578 1128.6,2575.7 1505.8,2481.6 1826.9,2401.5 1833.7,2399.8 1840.4,2398.2 1847.1,2396.5 1850.4,2395.7 1853.8,2394.8 1857.1,2394 1860.4,2393.2 1863.1,2392.5 1865.1,2392 1867,2392.5 1867,2392.5 1865.2,2389 1863.2,2389.5 1860.5,2390.2 1857.2,2391 1853.9,2391.8 1850.5,2392.7 1847.2,2393.5 1840.5,2395.2 1833.8,2396.8 1827,2398.5 1505.8,2478.4 1128.6,2572.2 1119.2,2574.5 1109.9,2576.8 1100.4,2579.2 1095.7,2580.4 1091,2581.5 1087.2,2582.5 1083.4,2583.4 1080.5,2584.1 1077.7,2584.8 1074.8,2585.6 1072,2589.5" fill="#960000" stroke="#960000"/><polygon points="1072,2589.5 1074.8,2585.6 1077.7,2584.8 1080.5,2584.1 1083.4,2583.4 1087.2,2582.5 1091,2581.5 1095.7,2580.4 1100.4,2579.2 1109.9,2576.8 1119.2,2574.5 1128.6,2572.2 1505.8,2478.4 1827,2398.5 1833.8,2396.8 1840.5,2395.2 1847.2,2393.5 1850.5,2392.7 1853.9,2391.8 1857.2,2391 1860.5,2390.2 1863.2,2389.5 1865.2,2389 1867,2392.5 1867,2392.5 1865.3,2386.1 1863.3,2386.6 1860.6,2387.2 1857.3,2388 1854,2388.9 1850.6,2389.7 1847.3,2390.5 1840.6,2392.2 1833.9,2393.8 1827.1,2395.5 1505.9,2475.1 1128.6,2568.7 1119.2,2571 1109.9,2573.3 1100.4,2575.7 1095.7,2576.8 1091,2578 1087.2,2578.9 1083.4,2579.9 1080.5,2580.6 1077.7,2581.3 1074.8,2582 1072,2589.5" fill="#940000" stroke="#940000"/><polygon points="1072,2589.5 1074.8,2582 1077.7,2581.3 1080.5,2580.6 1083.4,2579.9 1087.2,2578.9 1091,2578 1095.7,2576.8 1100.4,2575.7 1109.9,2573.3 1119.2,2571 1128.6,2568.7 1505.9,2475.1 1827.1,2395.5 1833.9,2393.8 1840.6,2392.2 1847.3,2390.5 1850.6,2389.7 1854,2388.9 1857.3,2388 1860.6,2387.2 1863.3,2386.6 1865.3,2386.1 1867,2392.5 1867,2392.5 1865.4,2383.1 1863.4,2383.6 1860.7,2384.2 1857.4,2385 1854.1,2385.9 1850.7,2386.7 1847.4,2387.5 1840.7,2389.2 1834,2390.8 1827.2,2392.5 1506,2471.9 1128.6,2565.2 1119.2,2567.5 1109.9,2569.8 1100.4,2572.1 1095.7,2573.3 1091,2574.5 1087.2,2575.4 1083.4,2576.4 1080.5,2577.1 1077.7,2577.8 1074.8,2578.5 1072,2589.5" fill="#920000" stroke="#920000"/><polygon points="1072,2589.5 1074.8,2578.5 1077.7,2577.8 1080.5,2577.1 1083.4,2576.4 1087.2,2575.4 1091,2574.5 1095.7,2573.3 1100.4,2572.1 1109.9,2569.8 1119.2,2567.5 1128.6,2565.2 1506,2471.9 1827.2,2392.5 1834,2390.8 1840.7,2389.2 1847.4,2387.5 1850.7,2386.7 1854.1,2385.9 1857.4,2385 1860.7,2384.2 1863.4,2383.6 1865.4,2383.1 1867,2392.5 1867,2392.5 1865.5,2380.1 1863.5,2380.6 1860.8,2381.2 1857.5,2382.1 1854.2,2382.9 1850.8,2383.7 1847.5,2384.5 1840.8,2386.2 1834.1,2387.8 1827.3,2389.5 1506,2468.7 1128.6,2561.7 1119.2,2564 1109.9,2566.3 1100.4,2568.6 1095.7,2569.8 1091,2570.9 1087.2,2571.9 1083.4,2572.8 1080.5,2573.5 1077.7,2574.2 1074.8,2574.9 1072,2589.5" fill="#900000" stroke="#900000"/><polygon points="1072,2589.5 1074.8,2574.9 1077.7,2574.2 1080.5,2573.5 1083.4,2572.8 1087.2,2571.9 1091,2570.9 1095.7,2569.8 1100.4,2568.6 1109.9,2566.3 1119.2,2564 1128.6,2561.7 1506,2468.7 1827.3,2389.5 1834.1,2387.8 1840.8,2386.2 1847.5,2384.5 1850.8,2383.7 1854.2,2382.9 1857.5,2382.1 1860.8,2381.2 1863.5,2380.6 1865.5,2380.1 1867,2392.5 1867,2392.5 1865.5,2379.2 1863.6,2377.6 1860.9,2378.3 1857.6,2379.1 1854.3,2379.9 1850.9,2380.7 1847.6,2381.5 1840.9,2383.2 1834.2,2384.8 1827.4,2386.5 1506.1,2465.4 1128.6,2558.2 1119.2,2560.5 1109.9,2562.8 1100.4,2565.1 1095.7,2566.2 1091,2567.4 1087.2,2568.3 1083.4,2569.3 1080.5,2570 1077.7,2570.7 1074.8,2571.4 1072,2589.5" fill="#8d0000" stroke="#8d0000"/><polygon points="1072,2589.5 1074.8,2571.4 1077.7,2570.7 1080.5,2570 1083.4,2569.3 1087.2,2568.3 1091,2567.4 1095.7,2566.2 1100.4,2565.1 1109.9,2562.8 1119.2,2560.5 1128.6,2558.2 1506.1,2465.4 1827.4,2386.5 1834.2,2384.8 1840.9,2383.2 1847.6,2381.5 1850.9,2380.7 1854.3,2379.9 1857.6,2379.1 1860.9,2378.3 1863.6,2377.6 1865.5,2379.2 1867,2392.5 1867,2392.5 1865.5,2379.2 1863.7,2374.6 1861,2375.3 1857.7,2376.1 1854.4,2376.9 1851,2377.7 1847.7,2378.5 1841,2380.2 1834.3,2381.8 1827.5,2383.5 1506.1,2462.2 1128.6,2554.7 1119.2,2557 1109.9,2559.3 1100.4,2561.6 1095.7,2562.7 1091,2563.9 1087.2,2564.8 1083.4,2565.7 1080.5,2566.4 1077.7,2567.1 1074.8,2569.3 1072,2589.5" fill="#8b0000" stroke="#8b0000"/><polygon points="1072,2589.5 1074.8,2569.3 1077.7,2567.1 1080.5,2566.4 1083.4,2565.7 1087.2,2564.8 1091,2563.9 1095.7,2562.7 1100.4,2561.6 1109.9,2559.3 1119.2,2557 1128.6,2554.7 1506.1,2462.2 1827.5,2383.5 1834.3,2381.8 1841,2380.2 1847.7,2378.5 1851,2377.7 1854.4,2376.9 1857.7,2376.1 1861,2375.3 1863.7,2374.6 1865.5,2379.2 1867,2392.5 1867,2392.5 1865.5,2379.2 1863.7,2374.5 1860.9,2372.2 1857.6,2373.1 1854.3,2373.9 1850.9,2374.7 1847.6,2375.5 1840.9,2377.2 1834.2,2378.8 1827.5,2380.4 1506.2,2459 1128.6,2551.2 1119.2,2553.4 1109.9,2555.7 1100.4,2558 1095.7,2559.2 1091,2560.3 1087.2,2561.3 1083.4,2562.2 1080.5,2562.9 1077.7,2563.6 1074.8,2569.3 1072,2589.5" fill="#890000" stroke="#890000"/><polygon points="1072,2589.5 1074.8,2569.3 1077.7,2563.6 1080.5,2562.9 1083.4,2562.2 1087.2,2561.3 1091,2560.3 1095.7,2559.2 1100.4,2558 1109.9,2555.7 1119.2,2553.4 1128.6,2551.2 1506.2,2459 1827.5,2380.4 1834.2,2378.8 1840.9,2377.2 1847.6,2375.5 1850.9,2374.7 1854.3,2373.9 1857.6,2373.1 1860.9,2372.2 1863.7,2374.5 1865.5,2379.2 1867,2392.5 1867,2392.5 1865.5,2379.2 1863.7,2374.5 1860.7,2370.4 1857.2,2370 1853.9,2370.8 1850.6,2371.6 1847.2,2372.5 1840.6,2374.1 1833.9,2375.7 1827.2,2377.4 1506.3,2455.7 1128.6,2547.6 1119.2,2549.9 1109.9,2552.2 1100.4,2554.5 1095.7,2555.7 1091,2556.8 1087.2,2557.7 1083.4,2558.7 1080.5,2559.4 1077.6,2560.9 1074.8,2569.3 1072,2589.5" fill="#870000" stroke="#870000"/><polygon points="1072,2589.5 1074.8,2569.3 1077.6,2560.9 1080.5,2559.4 1083.4,2558.7 1087.2,2557.7 1091,2556.8 1095.7,2555.7 1100.4,2554.5 1109.9,2552.2 1119.2,2549.9 1128.6,2547.6 1506.3,2455.7 1827.2,2377.4 1833.9,2375.7 1840.6,2374.1 1847.2,2372.5 1850.6,2371.6 1853.9,2370.8 1857.2,2370 1860.7,2370.4 1863.7,2374.5 1865.5,2379.2 1867,2392.5 1867,2392.5 1865.5,2379.2 1863.7,2374.5 1860.7,2370.4 1856.5,2367.2 1853.1,2367.7 1849.8,2368.5 1846.5,2369.3 1839.9,2371 1833.2,2372.6 1826.5,2374.3 1506.3,2452.5 1128.6,2544.1 1119.2,2546.4 1109.9,2548.7 1100.4,2551 1095.7,2552.1 1091,2553.3 1087.2,2554.2 1083.4,2555.1 1080.5,2555.8 1077.6,2560.9 1074.8,2569.3 1072,2589.5" fill="#850000" stroke="#850000"/><polygon points="1072,2589.5 1074.8,2569.3 1077.6,2560.9 1080.5,2555.8 1083.4,2555.1 1087.2,2554.2 1091,2553.3 1095.7,2552.1 1100.4,2551 1109.9,2548.7 1119.2,2546.4 1128.6,2544.1 1506.3,2452.5 1826.5,2374.3 1833.2,2372.6 1839.9,2371 1846.5,2369.3 1849.8,2368.5 1853.1,2367.7 1856.5,2367.2 1860.7,2370.4 1863.7,2374.5 1865.5,2379.2 1867,2392.5 1867,2392.5 1865.5,2379.2 1863.7,2374.5 1860.7,2370.4 1856.5,2367.2 1852.1,2365.4 1848.3,2365.3 1845,2366.1 1838.5,2367.8 1831.9,2369.4 1825.2,2371.1 1506.1,2449.2 1128.6,2540.6 1119.2,2542.9 1109.9,2545.2 1100.4,2547.4 1095.7,2548.6 1091,2549.7 1087.2,2550.6 1083.4,2551.6 1080.5,2554.7 1077.6,2560.9 1074.8,2569.3 1072,2589.5" fill="#820000" stroke="#820000"/><polygon points="1072,2589.5 1074.8,2569.3 1077.6,2560.9 1080.5,2554.7 1083.4,2551.6 1087.2,2550.6 1091,2549.7 1095.7,2548.6 1100.4,2547.4 1109.9,2545.2 1119.2,2542.9 1128.6,2540.6 1506.1,2449.2 1825.2,2371.1 1831.9,2369.4 1838.5,2367.8 1845,2366.1 1848.3,2365.3 1852.1,2365.4 1856.5,2367.2 1860.7,2370.4 1863.7,2374.5 1865.5,2379.2 1867,2392.5 1867,2392.5 1865.5,2379.2 1863.7,2374.5 1860.7,2370.4 1856.5,2367.2 1852.1,2365.4 1847.6,2364.5 1843,2364.7 1836.3,2366.1 1829.6,2367.5 1822.8,2369 1505.6,2445.9 1128.6,2537.1 1119.2,2539.4 1109.9,2541.6 1100.4,2543.9 1095.7,2545 1091,2546.2 1087.2,2547.1 1083.4,2549.6 1080.5,2554.7 1077.6,2560.9 1074.8,2569.3 1072,2589.5" fill="#800000" stroke="#800000"/><polygon points="1072,2589.5 1074.8,2569.3 1077.6,2560.9 1080.5,2554.7 1083.4,2549.6 1087.2,2547.1 1091,2546.2 1095.7,2545 1100.4,2543.9 1109.9,2541.6 1119.2,2539.4 1128.6,2537.1 1505.6,2445.9 1822.8,2369 1829.6,2367.5 1836.3,2366.1 1843,2364.7 1847.6,2364.5 1852.1,2365.4 1856.5,2367.2 1860.7,2370.4 1863.7,2374.5 1865.5,2379.2 1867,2392.5 1867,2392.5 1865.5,2379.2 1863.7,2374.5 1860.7,2370.4 1856.5,2367.2 1852.1,2365.4 1847.6,2364.5 1843,2364.7 1836.3,2366.1 1829.6,2367.5 1822.8,2369 1504.8,2442.5 1128.5,2533.6 1119.2,2535.8 1109.8,2538.1 1100.4,2540.4 1095.6,2541.5 1090.9,2542.6 1087.1,2544 1083.4,2549.6 1080.5,2554.7 1077.6,2560.9 1074.8,2569.3 1072,2589.5" fill="#7e0000" stroke="#7e0000"/><polygon points="1072,2589.5 1074.8,2569.3 1077.6,2560.9 1080.5,2554.7 1083.4,2549.6 1087.1,2544 1090.9,2542.6 1095.6,2541.5 1100.4,2540.4 1109.8,2538.1 1119.2,2535.8 1128.5,2533.6 1504.8,2442.5 1822.8,2369 1829.6,2367.5 1836.3,2366.1 1843,2364.7 1847.6,2364.5 1852.1,2365.4 1856.5,2367.2 1860.7,2370.4 1863.7,2374.5 1865.5,2379.2 1867,2392.5 1867,2392.5 1865.5,2379.2 1863.7,2374.5 1860.7,2370.4 1856.5,2367.2 1852.1,2365.4 1847.6,2364.5 1843,2364.7 1836.3,2366.1 1829.6,2367.5 1822.8,2369 1503,2438.9 1128.2,2530 1118.8,2532.3 1109.5,2534.5 1100.1,2536.8 1095.4,2537.9 1090.6,2539.3 1087.1,2544 1083.4,2549.6 1080.5,2554.7 1077.6,2560.9 1074.8,2569.3 1072,2589.5" fill="#7c0000" stroke="#7c0000"/><polygon points="1072,2589.5 1074.8,2569.3 1077.6,2560.9 1080.5,2554.7 1083.4,2549.6 1087.1,2544 1090.6,2539.3 1095.4,2537.9 1100.1,2536.8 1109.5,2534.5 1118.8,2532.3 1128.2,2530 1503,2438.9 1822.8,2369 1829.6,2367.5 1836.3,2366.1 1843,2364.7 1847.6,2364.5 1852.1,2365.4 1856.5,2367.2 1860.7,2370.4 1863.7,2374.5 1865.5,2379.2 1867,2392.5 1867,2392.5 1865.5,2379.2 1863.7,2374.5 1860.7,2370.4 1856.5,2367.2 1852.1,2365.4 1847.6,2364.5 1843,2364.7 1836.3,2366.1 1829.6,2367.5 1822.8,2369 1501.2,2437.8 1127.5,2526.4 1118.2,2528.6 1108.9,2530.9 1099.5,2533.1 1094.8,2534.4 1090.6,2539.3 1087.1,2544 1083.4,2549.6 1080.5,2554.7 1077.6,2560.9 1074.8,2569.3 1072,2589.5" fill="#7a0000" stroke="#7a0000"/><polygon points="1072,2589.5 1074.8,2569.3 1077.6,2560.9 1080.5,2554.7 1083.4,2549.6 1087.1,2544 1090.6,2539.3 1094.8,2534.4 1099.5,2533.1 1108.9,2530.9 1118.2,2528.6 1127.5,2526.4 1501.2,2437.8 1822.8,2369 1829.6,2367.5 1836.3,2366.1 1843,2364.7 1847.6,2364.5 1852.1,2365.4 1856.5,2367.2 1860.7,2370.4 1863.7,2374.5 1865.5,2379.2 1867,2392.5 1867,2392.5 1865.5,2379.2 1863.7,2374.5 1860.7,2370.4 1856.5,2367.2 1852.1,2365.4 1847.6,2364.5 1843,2364.7 1836.3,2366.1 1829.6,2367.5 1822.8,2369 1501.2,2437.8 1126.4,2522.7 1117.1,2524.9 1107.8,2527.2 1098.7,2530.3 1094.8,2534.4 1090.6,2539.3 1087.1,2544 1083.4,2549.6 1080.5,2554.7 1077.6,2560.9 1074.8,2569.3 1072,2589.5" fill="#770000" stroke="#770000"/><polygon points="1072,2589.5 1074.8,2569.3 1077.6,2560.9 1080.5,2554.7 1083.4,2549.6 1087.1,2544 1090.6,2539.3 1094.8,2534.4 1098.7,2530.3 1107.8,2527.2 1117.1,2524.9 1126.4,2522.7 1501.2,2437.8 1822.8,2369 1829.6,2367.5 1836.3,2366.1 1843,2364.7 1847.6,2364.5 1852.1,2365.4 1856.5,2367.2 1860.7,2370.4 1863.7,2374.5 1865.5,2379.2 1867,2392.5 1867,2392.5 1865.5,2379.2 1863.7,2374.5 1860.7,2370.4 1856.5,2367.2 1852.1,2365.4 1847.6,2364.5 1843,2364.7 1836.3,2366.1 1829.6,2367.5 1822.8,2369 1501.2,2437.8 1123.1,2518.8 1113.7,2520.8 1106.3,2524.3 1098.7,2530.3 1094.8,2534.4 1090.6,2539.3 1087.1,2544 1083.4,2549.6 1080.5,2554.7 1077.6,2560.9 1074.8,2569.3 1072,2589.5" fill="#760000" stroke="#760000"/></g>
<g fill="none" stroke="#8a8a8a" stroke-opacity="0.20" stroke-width="1"><polyline points="1103.9,3808 1103.8,3421.3 1103.7,3019 1103.6,2671.2 1103.6,2572.8 1103.6,2555.6 1103.6,2547 1103.5,2539.9 1102.9,2534 1101.9,2529.5"/><polyline points="1133.2,3793 1133.7,3408.5 1134.2,3008.6 1134.7,2662.9 1134.8,2562.5 1134.8,2545.5 1134.8,2536.9 1134.5,2529.8 1133.5,2523.9 1131.6,2519.3"/><polyline points="1162.2,3778.3 1163.3,3395.9 1164.4,2998.3 1165.3,2654.6 1165.6,2555.6 1165.6,2538.7 1165.7,2530.2 1165.4,2523.1 1164.3,2517.2 1162.4,2512.6"/><polyline points="1190.9,3763.7 1192.5,3383.4 1194.1,2988.1 1195.6,2646.5 1196,2548.8 1196.1,2532 1196.1,2523.5 1195.8,2516.5 1194.8,2510.6 1192.9,2506.1"/><polyline points="1219.2,3749.3 1221.3,3371.1 1223.5,2978.1 1225.4,2638.5 1226,2542.1 1226.1,2525.4 1226.1,2517 1225.9,2509.9 1224.8,2504.2 1223,2499.7"/><polyline points="1247.1,3735 1249.8,3358.9 1252.5,2968.1 1254.9,2630.6 1255.6,2535.5 1255.7,2518.8 1255.8,2510.5 1255.5,2503.5 1254.5,2497.8 1252.6,2493.3"/><polyline points="1274.7,3721 1277.9,3346.9 1281.2,2958.3 1284,2622.8 1284.8,2528.9 1285,2512.4 1285,2504.1 1284.8,2497.1 1283.8,2491.4 1281.9,2487"/><polyline points="1302,3707.1 1305.7,3335.1 1309.5,2948.7 1312.8,2615.1 1313.7,2522.4 1313.8,2506 1313.9,2497.8 1313.7,2490.9 1312.7,2485.2 1310.8,2480.8"/><polyline points="1329,3693.4 1333.1,3323.3 1337.4,2939.1 1341.2,2607.5 1342.2,2516.1 1342.4,2499.7 1342.5,2491.6 1342.2,2484.7 1341.2,2479.1 1339.4,2474.7"/><polyline points="1355.6,3679.8 1360.2,3311.8 1365,2929.7 1369.2,2599.9 1370.3,2509.8 1370.5,2493.5 1370.6,2485.4 1370.4,2478.6 1369.4,2473 1367.6,2468.6"/><polyline points="1381.9,3666.4 1387,3300.3 1392.3,2920.3 1396.9,2592.5 1398.1,2503.5 1398.3,2487.4 1398.4,2479.3 1398.2,2472.5 1397.2,2467 1395.4,2462.6"/><polyline points="1408,3653.2 1413.5,3289 1419.2,2911.1 1424.2,2585.2 1425.5,2497.4 1425.8,2481.3 1425.9,2473.3 1425.7,2466.6 1424.7,2461 1422.9,2456.7"/><polyline points="1433.7,3640.1 1439.6,3277.9 1445.8,2902 1451.2,2577.9 1452.6,2491.3 1452.9,2475.4 1453,2467.4 1452.8,2460.7 1451.9,2455.2 1450.1,2450.9"/><polyline points="1459.1,3627.2 1465.5,3266.8 1472.1,2893 1477.9,2570.8 1479.4,2485.3 1479.7,2469.5 1479.8,2461.5 1479.6,2454.9 1478.7,2449.4 1476.9,2445.2"/><polyline points="1484.2,3614.4 1491,3255.9 1498.1,2884.2 1504.2,2563.7 1505.8,2479.4 1506.1,2463.6 1506.3,2455.8 1506.1,2449.1 1505.1,2443.7 1503.4,2439.5"/><polyline points="1509,3601.7 1516.3,3245.1 1523.8,2875.4 1530.2,2556.7 1531.9,2473.6 1532.2,2457.9 1532.4,2450 1532.2,2443.5 1531.3,2438.1 1529.5,2433.9"/><polyline points="1533.6,3589.2 1541.2,3234.5 1549.1,2866.7 1556,2549.8 1557.7,2467.8 1558.1,2452.2 1558.2,2444.4 1558.1,2437.9 1557.1,2432.5 1555.4,2428.3"/><polyline points="1557.9,3576.9 1565.9,3223.9 1574.2,2858.1 1581.4,2543 1583.2,2462.1 1583.6,2446.6 1583.7,2438.8 1583.6,2432.3 1582.7,2427 1580.9,2422.8"/><polyline points="1581.9,3564.7 1590.3,3213.5 1599,2849.7 1606.5,2536.3 1608.4,2456.4 1608.8,2441 1608.9,2433.3 1608.8,2426.8 1607.9,2421.5 1606.2,2417.4"/><polyline points="1605.6,3552.6 1614.4,3203.2 1623.5,2841.3 1631.3,2529.6 1633.3,2450.8 1633.7,2435.5 1633.9,2427.9 1633.7,2421.4 1632.8,2416.2 1631.1,2412.1"/><polyline points="1629.1,3540.6 1638.2,3193 1647.7,2833 1655.8,2523 1657.9,2445.3 1658.3,2430.1 1658.5,2422.5 1658.3,2416.1 1657.4,2410.9 1655.7,2406.8"/><polyline points="1652.3,3528.8 1661.8,3183 1671.6,2824.8 1680.1,2516.5 1682.2,2439.9 1682.6,2424.8 1682.8,2417.2 1682.7,2410.8 1681.8,2405.6 1680.1,2401.6"/><polyline points="1675.3,3517.1 1685.1,3173 1695.3,2816.8 1704,2510.1 1706.2,2434.5 1706.6,2419.5 1706.8,2411.9 1706.7,2405.6 1705.8,2400.4 1704.1,2396.4"/><polyline points="1698,3505.6 1708.1,3163.2 1718.7,2808.8 1727.7,2503.8 1729.9,2429.2 1730.4,2414.2 1730.6,2406.7 1730.5,2400.4 1729.6,2395.3 1727.9,2391.3"/><polyline points="1720.4,3494.2 1730.9,3153.5 1741.8,2800.8 1751.1,2497.5 1753.4,2423.9 1753.9,2409 1754.1,2401.6 1754,2395.3 1753.1,2390.2 1751.4,2386.2"/><polyline points="1742.6,3482.9 1753.4,3143.8 1764.6,2793 1774.3,2491.3 1776.6,2418.7 1777.1,2403.9 1777.3,2396.5 1777.2,2390.3 1776.4,2385.2 1774.7,2381.3"/><polyline points="1764.6,3471.7 1775.7,3134.3 1787.3,2785.3 1797.2,2485.1 1799.5,2413.6 1800,2398.9 1800.3,2391.5 1800.2,2385.3 1799.3,2380.3 1797.6,2376.3"/><polyline points="1786.3,3460.6 1797.8,3124.9 1809.6,2777.7 1819.8,2479 1822.2,2408.5 1822.7,2393.9 1822.9,2386.5 1822.9,2380.4 1822,2375.4 1820.4,2371.4"/><polyline points="1807.9,3449.7 1819.6,3115.6 1831.7,2770.1 1842.2,2473 1844.6,2403.5 1845.1,2388.9 1845.4,2381.6 1845.3,2375.5 1844.5,2370.5 1842.8,2366.6"/></g>
<g stroke="#101010" stroke-width="1.6"><line x1="1073.9" y1="3701.6" x2="1832.9" y2="3334.7" stroke-opacity="0.35"/><line x1="1073.7" y1="3578.6" x2="1836.7" y2="3229.5" stroke-opacity="0.6"/><line x1="1073.5" y1="3454.1" x2="1840.6" y2="3123.2" stroke-opacity="0.8"/><line x1="1073.3" y1="3327.9" x2="1844.4" y2="3015.8" stroke-opacity="0.8"/><line x1="1073" y1="3200.2" x2="1848.4" y2="2907.2" stroke-opacity="0.8"/><line x1="1072.8" y1="3070.8" x2="1852.3" y2="2797.5" stroke-opacity="0.8"/><line x1="1072.6" y1="2939.8" x2="1856.4" y2="2686.6" stroke-opacity="0.25"/><line x1="1072.4" y1="2807" x2="1860.4" y2="2574.5" stroke-opacity="0.3"/><line x1="1072.1" y1="2672.5" x2="1864.5" y2="2461.1" stroke-opacity="0.4"/></g>
<line x1="254.8" y1="3520.9" x2="207.1" y2="2321.8" stroke="#000" stroke-width="3.6" stroke-linecap="square"/>
<line x1="254.8" y1="3520.9" x2="1191.1" y2="3866.2" stroke="#000" stroke-width="3.6" stroke-linecap="square"/>
<line x1="1191.1" y1="3866.2" x2="1938.4" y2="3469.3" stroke="#000" stroke-width="3.6" stroke-linecap="square"/>
<line x1="254.8" y1="3520.9" x2="236.8" y2="3527.7" stroke="#000" stroke-width="3.1"/>
<text transform="matrix(1.0351 -0.3963 0.0519 1.2603 228.6 3547.5)" font-size="40" text-anchor="end" x="0" y="0">0.00</text>
<line x1="247.2" y1="3330.7" x2="229" y2="3337" stroke="#000" stroke-width="3.1"/>
<text transform="matrix(1.0467 -0.3646 0.0529 1.2849 220.8 3356.9)" font-size="40" text-anchor="end" x="0" y="0">0.05</text>
<line x1="239.5" y1="3136.9" x2="221.1" y2="3142.6" stroke="#000" stroke-width="3.1"/>
<text transform="matrix(1.0585 -0.3315 0.0540 1.3104 212.8 3162.5)" font-size="40" text-anchor="end" x="0" y="0">0.10</text>
<line x1="231.7" y1="2939.2" x2="213" y2="2944.3" stroke="#000" stroke-width="3.1"/>
<text transform="matrix(1.0706 -0.2971 0.0550 1.3366 204.6 2964.2)" font-size="40" text-anchor="end" x="0" y="0">0.15</text>
<line x1="223.6" y1="2737.5" x2="204.8" y2="2742" stroke="#000" stroke-width="3.1"/>
<text transform="matrix(1.0829 -0.2612 0.0561 1.3635 196.3 2762)" font-size="40" text-anchor="end" x="0" y="0">0.20</text>
<line x1="215.5" y1="2531.8" x2="196.4" y2="2535.6" stroke="#000" stroke-width="3.1"/>
<text transform="matrix(1.0956 -0.2238 0.0573 1.3913 187.8 2555.6)" font-size="40" text-anchor="end" x="0" y="0">0.25</text>
<line x1="207.1" y1="2321.8" x2="187.8" y2="2325" stroke="#000" stroke-width="3.1"/>
<text transform="matrix(1.1085 -0.1847 0.0585 1.4200 179.1 2345.1)" font-size="40" text-anchor="end" x="0" y="0">0.30</text>
<line x1="254.8" y1="3520.9" x2="235.4" y2="3528.3" stroke="#000" stroke-width="3.1"/>
<line x1="336.6" y1="3551.1" x2="326.9" y2="3554.8" stroke="#000" stroke-width="3.1"/>
<text transform="matrix(1.0418 -0.3587 0.9320 0.3472 239.4 3536.8)" font-size="40" text-anchor="end" x="0" y="0">0.00000</text>
<line x1="420.7" y1="3582.1" x2="401.3" y2="3589.9" stroke="#000" stroke-width="3.1"/>
<line x1="507.3" y1="3614" x2="497.6" y2="3618" stroke="#000" stroke-width="3.1"/>
<text transform="matrix(1.0429 -0.3797 0.9863 0.3674 406.2 3598.9)" font-size="40" text-anchor="end" x="0" y="0">0.00002</text>
<line x1="596.4" y1="3646.9" x2="577" y2="3655.1" stroke="#000" stroke-width="3.1"/>
<line x1="688.1" y1="3680.7" x2="678.5" y2="3685" stroke="#000" stroke-width="3.1"/>
<text transform="matrix(1.0422 -0.4027 1.0455 0.3895 582.8 3664.7)" font-size="40" text-anchor="end" x="0" y="0">0.00004</text>
<line x1="782.6" y1="3715.6" x2="763.4" y2="3724.4" stroke="#000" stroke-width="3.1"/>
<line x1="880" y1="3751.5" x2="870.5" y2="3756" stroke="#000" stroke-width="3.1"/>
<text transform="matrix(1.0396 -0.4278 1.1102 0.4136 770.1 3734.5)" font-size="40" text-anchor="end" x="0" y="0">0.00006</text>
<line x1="980.5" y1="3788.5" x2="961.5" y2="3797.9" stroke="#000" stroke-width="3.1"/>
<line x1="1084.1" y1="3826.8" x2="1074.7" y2="3831.6" stroke="#000" stroke-width="3.1"/>
<text transform="matrix(1.0345 -0.4553 1.1811 0.4400 969.3 3808.7)" font-size="40" text-anchor="end" x="0" y="0">0.00008</text>
<line x1="1191.1" y1="3866.2" x2="1172.3" y2="3876.2" stroke="#000" stroke-width="3.1"/>
<text transform="matrix(1.0266 -0.4855 1.2590 0.4690 1181.3 3887.7)" font-size="40" text-anchor="end" x="0" y="0">0.00010</text>
<line x1="1191.1" y1="3866.2" x2="1214" y2="3874.7" stroke="#000" stroke-width="3.1"/>
<line x1="1249.7" y1="3835.1" x2="1261.1" y2="3839.2" stroke="#000" stroke-width="3.1"/>
<text transform="matrix(1.1975 0.4443 -1.1406 0.6148 1215.5 3889.8)" font-size="40" text-anchor="start" x="0" y="0">0.000</text>
<line x1="1306.9" y1="3804.7" x2="1329.6" y2="3812.7" stroke="#000" stroke-width="3.1"/>
<line x1="1362.7" y1="3775.1" x2="1374" y2="3779" stroke="#000" stroke-width="3.1"/>
<text transform="matrix(1.1874 0.4223 -1.0839 0.5842 1331.8 3827.1)" font-size="40" text-anchor="start" x="0" y="0">0.002</text>
<line x1="1417.1" y1="3746.2" x2="1439.6" y2="3753.8" stroke="#000" stroke-width="3.1"/>
<line x1="1470.2" y1="3718" x2="1481.4" y2="3721.7" stroke="#000" stroke-width="3.1"/>
<text transform="matrix(1.1767 0.4019 -1.0312 0.5558 1442.3 3767.5)" font-size="40" text-anchor="start" x="0" y="0">0.004</text>
<line x1="1522" y1="3690.5" x2="1544.3" y2="3697.8" stroke="#000" stroke-width="3.1"/>
<line x1="1572.6" y1="3663.6" x2="1583.7" y2="3667.1" stroke="#000" stroke-width="3.1"/>
<text transform="matrix(1.1657 0.3829 -0.9823 0.5295 1547.6 3710.8)" font-size="40" text-anchor="start" x="0" y="0">0.006</text>
<line x1="1622.1" y1="3637.3" x2="1644.2" y2="3644.3" stroke="#000" stroke-width="3.1"/>
<line x1="1670.4" y1="3611.7" x2="1681.4" y2="3615.1" stroke="#000" stroke-width="3.1"/>
<text transform="matrix(1.1545 0.3653 -0.9368 0.5050 1647.9 3656.7)" font-size="40" text-anchor="start" x="0" y="0">0.008</text>
<line x1="1717.6" y1="3586.6" x2="1739.5" y2="3593.2" stroke="#000" stroke-width="3.1"/>
<line x1="1763.7" y1="3562.1" x2="1774.6" y2="3565.3" stroke="#000" stroke-width="3.1"/>
<text transform="matrix(1.1430 0.3489 -0.8944 0.4821 1743.6 3605.1)" font-size="40" text-anchor="start" x="0" y="0">0.010</text>
<line x1="1808.9" y1="3538.1" x2="1830.5" y2="3544.5" stroke="#000" stroke-width="3.1"/>
<line x1="1853" y1="3514.7" x2="1863.7" y2="3517.8" stroke="#000" stroke-width="3.1"/>
<text transform="matrix(1.1314 0.3335 -0.8548 0.4607 1835.1 3555.8)" font-size="40" text-anchor="start" x="0" y="0">0.012</text>
<line x1="1896.2" y1="3491.8" x2="1917.6" y2="3497.8" stroke="#000" stroke-width="3.1"/>
<line x1="1938.4" y1="3469.3" x2="1949" y2="3472.3" stroke="#000" stroke-width="3.1"/>
<text transform="matrix(1.1197 0.3192 -0.8177 0.4408 1922.5 3508.7)" font-size="40" text-anchor="start" x="0" y="0">0.014</text>
<text transform="matrix(1.3627 0.4258 -1.5021 0.6661 450.8 3788.2)" font-size="40" text-anchor="middle" x="0" y="0">z, m</text>
<text transform="matrix(1.0903 -0.6309 1.4548 0.4636 1814.7 3725.9)" font-size="40" text-anchor="middle" x="0" y="0">y, m</text>
<text transform="matrix(0.0708 1.4494 -1.2956 0.3555 51.5 2988.6)" font-size="40" text-anchor="middle" x="0" y="0">φ</text>
</g>
<rect x="2079" y="121.5" width="109.5" height="7.8" fill="#790000"/><rect x="2079" y="128.5" width="109.5" height="7.8" fill="#7e0000"/><rect x="2079" y="135.5" width="109.5" height="7.8" fill="#830000"/><rect x="2079" y="142.5" width="109.5" height="7.8" fill="#890000"/><rect x="2079" y="149.4" width="109.5" height="7.8" fill="#8e0000"/><rect x="2079" y="156.4" width="109.5" height="7.8" fill="#930000"/><rect x="2079" y="163.4" width="109.5" height="7.8" fill="#990000"/><rect x="2079" y="170.4" width="109.5" height="7.8" fill="#9e0000"/><rect x="2079" y="177.4" width="109.5" height="7.8" fill="#a30000"/><rect x="2079" y="184.4" width="109.5" height="7.8" fill="#a80000"/><rect x="2079" y="191.4" width="109.5" height="7.8" fill="#ae0000"/><rect x="2079" y="198.4" width="109.5" height="7.8" fill="#b30000"/><rect x="2079" y="205.3" width="109.5" height="7.8" fill="#b80000"/><rect x="2079" y="212.3" width="109.5" height="7.8" fill="#be0000"/><rect x="2079" y="219.3" width="109.5" height="7.8" fill="#c30000"/><rect x="2079" y="226.3" width="109.5" height="7.8" fill="#c80000"/><rect x="2079" y="233.3" width="109.5" height="7.8" fill="#ce0000"/><rect x="2079" y="240.3" width="109.5" height="7.8" fill="#d30000"/><rect x="2079" y="247.3" width="109.5" height="7.8" fill="#d90000"/><rect x="2079" y="254.3" width="109.5" height="7.8" fill="#de0000"/><rect x="2079" y="261.2" width="109.5" height="7.8" fill="#e40000"/><rect x="2079" y="268.2" width="109.5" height="7.8" fill="#e90000"/><rect x="2079" y="275.2" width="109.5" height="7.8" fill="#ee0000"/><rect x="2079" y="282.2" width="109.5" height="7.8" fill="#f40000"/><rect x="2079" y="289.2" width="109.5" height="7.8" fill="#f90000"/><rect x="2079" y="296.2" width="109.5" height="7.8" fill="#ff0000"/><rect x="2079" y="303.2" width="109.5" height="7.8" fill="#ff0000"/><rect x="2079" y="310.2" width="109.5" height="7.8" fill="#ff0000"/><rect x="2079" y="317.1" width="109.5" height="7.8" fill="#ff0000"/><rect x="2079" y="324.1" width="109.5" height="7.8" fill="#ff0000"/><rect x="2079" y="331.1" width="109.5" height="7.8" fill="#ff0000"/><rect x="2079" y="338.1" width="109.5" height="7.8" fill="#ff0000"/><rect x="2079" y="345.1" width="109.5" height="7.8" fill="#ff0000"/><rect x="2079" y="352.1" width="109.5" height="7.8" fill="#ff0000"/><rect x="2079" y="359.1" width="109.5" height="7.8" fill="#ff0000"/><rect x="2079" y="366.1" width="109.5" height="7.8" fill="#ff0000"/><rect x="2079" y="373.1" width="109.5" height="7.8" fill="#ff0000"/><rect x="2079" y="380" width="109.5" height="7.8" fill="#ff0000"/><rect x="2079" y="387" width="109.5" height="7.8" fill="#ff0000"/><rect x="2079" y="394" width="109.5" height="7.8" fill="#ff0000"/><rect x="2079" y="401" width="109.5" height="7.8" fill="#ff0000"/><rect x="2079" y="408" width="109.5" height="7.8" fill="#ff0000"/><rect x="2079" y="415" width="109.5" height="7.8" fill="#ff0000"/><rect x="2079" y="422" width="109.5" height="7.8" fill="#ff0000"/><rect x="2079" y="428.9" width="109.5" height="7.8" fill="#ff0000"/><rect x="2079" y="435.9" width="109.5" height="7.8" fill="#ff0000"/><rect x="2079" y="442.9" width="109.5" height="7.8" fill="#ff0000"/><rect x="2079" y="449.9" width="109.5" height="7.8" fill="#ff0000"/><rect x="2079" y="456.9" width="109.5" height="7.8" fill="#ff0000"/><rect x="2079" y="463.9" width="109.5" height="7.8" fill="#ff0000"/><rect x="2079" y="470.9" width="109.5" height="7.8" fill="#ff0000"/><rect x="2079" y="477.9" width="109.5" height="7.8" fill="#ff0000"/><rect x="2079" y="484.9" width="109.5" height="7.8" fill="#ff0000"/><rect x="2079" y="491.8" width="109.5" height="7.8" fill="#ff0000"/><rect x="2079" y="498.8" width="109.5" height="7.8" fill="#ff0500"/><rect x="2079" y="505.8" width="109.5" height="7.8" fill="#ff0e00"/><rect x="2079" y="512.8" width="109.5" height="7.8" fill="#ff1700"/><rect x="2079" y="519.8" width="109.5" height="7.8" fill="#ff2000"/><rect x="2079" y="526.8" width="109.5" height="7.8" fill="#ff2900"/><rect x="2079" y="533.8" width="109.5" height="7.8" fill="#ff3200"/><rect x="2079" y="540.8" width="109.5" height="7.8" fill="#ff3b00"/><rect x="2079" y="547.7" width="109.5" height="7.8" fill="#ff4400"/><rect x="2079" y="554.7" width="109.5" height="7.8" fill="#ff4d00"/><rect x="2079" y="561.7" width="109.5" height="7.8" fill="#ff5600"/><rect x="2079" y="568.7" width="109.5" height="7.8" fill="#ff5f00"/><rect x="2079" y="575.7" width="109.5" height="7.8" fill="#ff6800"/><rect x="2079" y="582.7" width="109.5" height="7.8" fill="#ff7200"/><rect x="2079" y="589.7" width="109.5" height="7.8" fill="#ff7b00"/><rect x="2079" y="596.6" width="109.5" height="7.8" fill="#ff8500"/><rect x="2079" y="603.6" width="109.5" height="7.8" fill="#ff8e00"/><rect x="2079" y="610.6" width="109.5" height="7.8" fill="#ff9800"/><rect x="2079" y="617.6" width="109.5" height="7.8" fill="#ffa200"/><rect x="2079" y="624.6" width="109.5" height="7.8" fill="#ffac00"/><rect x="2079" y="631.6" width="109.5" height="7.8" fill="#ffb700"/><rect x="2079" y="638.6" width="109.5" height="7.8" fill="#ffc200"/><rect x="2079" y="645.6" width="109.5" height="7.8" fill="#ffcd00"/><rect x="2079" y="652.5" width="109.5" height="7.8" fill="#ffd800"/><rect x="2079" y="659.5" width="109.5" height="7.8" fill="#ffe300"/><rect x="2079" y="666.5" width="109.5" height="7.8" fill="#ffee00"/><rect x="2079" y="673.5" width="109.5" height="7.8" fill="#fff900"/><rect x="2079" y="680.5" width="109.5" height="7.8" fill="#faff00"/><rect x="2079" y="687.5" width="109.5" height="7.8" fill="#f1ff00"/><rect x="2079" y="694.5" width="109.5" height="7.8" fill="#e7ff00"/><rect x="2079" y="701.5" width="109.5" height="7.8" fill="#deff00"/><rect x="2079" y="708.5" width="109.5" height="7.8" fill="#d5ff00"/><rect x="2079" y="715.4" width="109.5" height="7.8" fill="#cbff00"/><rect x="2079" y="722.4" width="109.5" height="7.8" fill="#c2ff00"/><rect x="2079" y="729.4" width="109.5" height="7.8" fill="#b8ff00"/><rect x="2079" y="736.4" width="109.5" height="7.8" fill="#afff00"/><rect x="2079" y="743.4" width="109.5" height="7.8" fill="#a5ff00"/><rect x="2079" y="750.4" width="109.5" height="7.8" fill="#9cff00"/><rect x="2079" y="757.4" width="109.5" height="7.8" fill="#93ff00"/><rect x="2079" y="764.4" width="109.5" height="7.8" fill="#89ff00"/><rect x="2079" y="771.3" width="109.5" height="7.8" fill="#80ff00"/><rect x="2079" y="778.3" width="109.5" height="7.8" fill="#64ff00"/><rect x="2079" y="785.3" width="109.5" height="7.8" fill="#00ff00"/><rect x="2079" y="792.3" width="109.5" height="7.8" fill="#00ff00"/><rect x="2079" y="799.3" width="109.5" height="7.8" fill="#00ff00"/><rect x="2079" y="806.3" width="109.5" height="7.8" fill="#00ff00"/><rect x="2079" y="813.3" width="109.5" height="7.8" fill="#00ff00"/><rect x="2079" y="820.2" width="109.5" height="7.8" fill="#00ff00"/><rect x="2079" y="827.2" width="109.5" height="7.8" fill="#00ff00"/><rect x="2079" y="834.2" width="109.5" height="7.8" fill="#00ff00"/><rect x="2079" y="841.2" width="109.5" height="7.8" fill="#00ff00"/><rect x="2079" y="848.2" width="109.5" height="7.8" fill="#00ff00"/><rect x="2079" y="855.2" width="109.5" height="7.8" fill="#00ff00"/><rect x="2079" y="862.2" width="109.5" height="7.8" fill="#00ff00"/><rect x="2079" y="869.2" width="109.5" height="7.8" fill="#00ff00"/><rect x="2079" y="876.1" width="109.5" height="7.8" fill="#00ff00"/><rect x="2079" y="883.1" width="109.5" height="7.8" fill="#00ff00"/><rect x="2079" y="890.1" width="109.5" height="7.8" fill="#00ff49"/><rect x="2079" y="897.1" width="109.5" height="7.8" fill="#00ff7e"/><rect x="2079" y="904.1" width="109.5" height="7.8" fill="#00ff98"/><rect x="2079" y="911.1" width="109.5" height="7.8" fill="#00ffb2"/><rect x="2079" y="918.1" width="109.5" height="7.8" fill="#00ffcd"/><rect x="2079" y="925.1" width="109.5" height="7.8" fill="#00ffe7"/><rect x="2079" y="932" width="109.5" height="7.8" fill="#00feff"/><rect x="2079" y="939" width="109.5" height="7.8" fill="#00f4ff"/><rect x="2079" y="946" width="109.5" height="7.8" fill="#00eaff"/><rect x="2079" y="953" width="109.5" height="7.8" fill="#00e1ff"/><rect x="2079" y="960" width="109.5" height="7.8" fill="#00d7ff"/><rect x="2079" y="967" width="109.5" height="7.8" fill="#00cdff"/><rect x="2079" y="974" width="109.5" height="7.8" fill="#00c3ff"/><rect x="2079" y="981" width="109.5" height="7.8" fill="#00b9ff"/><rect x="2079" y="988" width="109.5" height="7.8" fill="#00afff"/><rect x="2079" y="994.9" width="109.5" height="7.8" fill="#00a5ff"/><rect x="2079" y="1001.9" width="109.5" height="7.8" fill="#009bff"/><rect x="2079" y="1008.9" width="109.5" height="7.8" fill="#0091ff"/><rect x="2079" y="1015.9" width="109.5" height="7.8" fill="#0083ff"/><rect x="2079" y="1022.9" width="109.5" height="7.8" fill="#0072ff"/><rect x="2079" y="1029.9" width="109.5" height="7.8" fill="#0061ff"/><rect x="2079" y="1036.9" width="109.5" height="7.8" fill="#0050ff"/><rect x="2079" y="1043.8" width="109.5" height="7.8" fill="#003fff"/><rect x="2079" y="1050.8" width="109.5" height="7.8" fill="#002eff"/><rect x="2079" y="1057.8" width="109.5" height="7.8" fill="#001dff"/><rect x="2079" y="1064.8" width="109.5" height="7.8" fill="#000cff"/><rect x="2079" y="1071.8" width="109.5" height="7.8" fill="#0500ff"/><rect x="2079" y="1078.8" width="109.5" height="7.8" fill="#1700ff"/><rect x="2079" y="1085.8" width="109.5" height="7.8" fill="#2900ff"/><rect x="2079" y="1092.8" width="109.5" height="7.8" fill="#3a00ff"/><rect x="2079" y="1099.8" width="109.5" height="7.8" fill="#4c00ff"/><rect x="2079" y="1106.7" width="109.5" height="7.8" fill="#5e00ff"/><rect x="2079" y="1113.7" width="109.5" height="7.8" fill="#6f00ff"/><rect x="2079" y="1120.7" width="109.5" height="7.8" fill="#8100ff"/><rect x="2079" y="1127.7" width="109.5" height="7.8" fill="#8c00fd"/><rect x="2079" y="1134.7" width="109.5" height="7.8" fill="#9000f8"/><rect x="2079" y="1141.7" width="109.5" height="7.8" fill="#9400f3"/><rect x="2079" y="1148.7" width="109.5" height="7.8" fill="#9900ee"/><rect x="2079" y="1155.7" width="109.5" height="7.8" fill="#9d00e9"/><rect x="2079" y="1162.6" width="109.5" height="7.8" fill="#9e00e3"/><rect x="2079" y="1169.6" width="109.5" height="7.8" fill="#9f00dc"/><rect x="2079" y="1176.6" width="109.5" height="7.8" fill="#9f00d5"/><rect x="2079" y="1183.6" width="109.5" height="7.8" fill="#a000cd"/><rect x="2079" y="1190.6" width="109.5" height="7.8" fill="#9f00c5"/><rect x="2079" y="1197.6" width="109.5" height="7.8" fill="#9b00ba"/><rect x="2079" y="1204.6" width="109.5" height="7.8" fill="#9700ae"/><rect x="2079" y="1211.5" width="109.5" height="7.8" fill="#9400a3"/><rect x="2079" y="1218.5" width="109.5" height="7.8" fill="#8f0097"/><rect x="2079" y="1225.5" width="109.5" height="7.8" fill="#880089"/><rect x="2079" y="1232.5" width="109.5" height="7.8" fill="#81007b"/>
<rect x="2079" y="1239.5" width="109.5" height="12" fill="#000"/>
<rect x="2079" y="110" width="109.5" height="12" fill="#fff"/>
<rect x="2080" y="111" width="107.5" height="1139" fill="none" stroke="#1a1a1a" stroke-width="2"/>
<line x1="2188.5" y1="121.5" x2="2215" y2="121.5" stroke="#333" stroke-width="3"/>
<text x="2232" y="138" font-size="46.5" fill="#1a1a1a">0.2850</text>
<line x1="2188.5" y1="233.3" x2="2215" y2="233.3" stroke="#333" stroke-width="3"/>
<text x="2232" y="249.8" font-size="46.5" fill="#1a1a1a">0.2565</text>
<line x1="2188.5" y1="345.1" x2="2215" y2="345.1" stroke="#333" stroke-width="3"/>
<text x="2232" y="361.6" font-size="46.5" fill="#1a1a1a">0.2280</text>
<line x1="2188.5" y1="456.9" x2="2215" y2="456.9" stroke="#333" stroke-width="3"/>
<text x="2232" y="473.4" font-size="46.5" fill="#1a1a1a">0.1995</text>
<line x1="2188.5" y1="568.7" x2="2215" y2="568.7" stroke="#333" stroke-width="3"/>
<text x="2232" y="585.2" font-size="46.5" fill="#1a1a1a">0.1710</text>
<line x1="2188.5" y1="680.5" x2="2215" y2="680.5" stroke="#333" stroke-width="3"/>
<text x="2232" y="697" font-size="46.5" fill="#1a1a1a">0.1425</text>
<line x1="2188.5" y1="792.3" x2="2215" y2="792.3" stroke="#333" stroke-width="3"/>
<text x="2232" y="808.8" font-size="46.5" fill="#1a1a1a">0.1140</text>
<line x1="2188.5" y1="904.1" x2="2215" y2="904.1" stroke="#333" stroke-width="3"/>
<text x="2232" y="920.6" font-size="46.5" fill="#1a1a1a">0.08550</text>
<line x1="2188.5" y1="1015.9" x2="2215" y2="1015.9" stroke="#333" stroke-width="3"/>
<text x="2232" y="1032.4" font-size="46.5" fill="#1a1a1a">0.05700</text>
<line x1="2188.5" y1="1127.7" x2="2215" y2="1127.7" stroke="#333" stroke-width="3"/>
<text x="2232" y="1144.2" font-size="46.5" fill="#1a1a1a">0.02850</text>
<line x1="2188.5" y1="1239.5" x2="2215" y2="1239.5" stroke="#333" stroke-width="3"/>
<text x="2232" y="1256" font-size="46.5" fill="#1a1a1a">0.000</text>
<text x="2133.5" y="61.5" font-size="72" text-anchor="middle" class="sf" fill="#111">φ</text>
<rect x="2080.3" y="2262.9" width="109.5" height="7.8" fill="#790000"/><rect x="2080.3" y="2269.9" width="109.5" height="7.8" fill="#7e0000"/><rect x="2080.3" y="2276.9" width="109.5" height="7.8" fill="#830000"/><rect x="2080.3" y="2283.9" width="109.5" height="7.8" fill="#890000"/><rect x="2080.3" y="2290.8" width="109.5" height="7.8" fill="#8e0000"/><rect x="2080.3" y="2297.8" width="109.5" height="7.8" fill="#930000"/><rect x="2080.3" y="2304.8" width="109.5" height="7.8" fill="#990000"/><rect x="2080.3" y="2311.8" width="109.5" height="7.8" fill="#9e0000"/><rect x="2080.3" y="2318.8" width="109.5" height="7.8" fill="#a30000"/><rect x="2080.3" y="2325.8" width="109.5" height="7.8" fill="#a80000"/><rect x="2080.3" y="2332.8" width="109.5" height="7.8" fill="#ae0000"/><rect x="2080.3" y="2339.8" width="109.5" height="7.8" fill="#b30000"/><rect x="2080.3" y="2346.8" width="109.5" height="7.8" fill="#b80000"/><rect x="2080.3" y="2353.7" width="109.5" height="7.8" fill="#be0000"/><rect x="2080.3" y="2360.7" width="109.5" height="7.8" fill="#c30000"/><rect x="2080.3" y="2367.7" width="109.5" height="7.8" fill="#c80000"/><rect x="2080.3" y="2374.7" width="109.5" height="7.8" fill="#ce0000"/><rect x="2080.3" y="2381.7" width="109.5" height="7.8" fill="#d30000"/><rect x="2080.3" y="2388.7" width="109.5" height="7.8" fill="#d90000"/><rect x="2080.3" y="2395.7" width="109.5" height="7.8" fill="#de0000"/><rect x="2080.3" y="2402.7" width="109.5" height="7.8" fill="#e40000"/><rect x="2080.3" y="2409.6" width="109.5" height="7.8" fill="#e90000"/><rect x="2080.3" y="2416.6" width="109.5" height="7.8" fill="#ee0000"/><rect x="2080.3" y="2423.6" width="109.5" height="7.8" fill="#f40000"/><rect x="2080.3" y="2430.6" width="109.5" height="7.8" fill="#f90000"/><rect x="2080.3" y="2437.6" width="109.5" height="7.8" fill="#ff0000"/><rect x="2080.3" y="2444.6" width="109.5" height="7.8" fill="#ff0000"/><rect x="2080.3" y="2451.6" width="109.5" height="7.8" fill="#ff0000"/><rect x="2080.3" y="2458.6" width="109.5" height="7.8" fill="#ff0000"/><rect x="2080.3" y="2465.5" width="109.5" height="7.8" fill="#ff0000"/><rect x="2080.3" y="2472.5" width="109.5" height="7.8" fill="#ff0000"/><rect x="2080.3" y="2479.5" width="109.5" height="7.8" fill="#ff0000"/><rect x="2080.3" y="2486.5" width="109.5" height="7.8" fill="#ff0000"/><rect x="2080.3" y="2493.5" width="109.5" height="7.8" fill="#ff0000"/><rect x="2080.3" y="2500.5" width="109.5" height="7.8" fill="#ff0000"/><rect x="2080.3" y="2507.5" width="109.5" height="7.8" fill="#ff0000"/><rect x="2080.3" y="2514.5" width="109.5" height="7.8" fill="#ff0000"/><rect x="2080.3" y="2521.4" width="109.5" height="7.8" fill="#ff0000"/><rect x="2080.3" y="2528.4" width="109.5" height="7.8" fill="#ff0000"/><rect x="2080.3" y="2535.4" width="109.5" height="7.8" fill="#ff0000"/><rect x="2080.3" y="2542.4" width="109.5" height="7.8" fill="#ff0000"/><rect x="2080.3" y="2549.4" width="109.5" height="7.8" fill="#ff0000"/><rect x="2080.3" y="2556.4" width="109.5" height="7.8" fill="#ff0000"/><rect x="2080.3" y="2563.4" width="109.5" height="7.8" fill="#ff0000"/><rect x="2080.3" y="2570.3" width="109.5" height="7.8" fill="#ff0000"/><rect x="2080.3" y="2577.3" width="109.5" height="7.8" fill="#ff0000"/><rect x="2080.3" y="2584.3" width="109.5" height="7.8" fill="#ff0000"/><rect x="2080.3" y="2591.3" width="109.5" height="7.8" fill="#ff0000"/><rect x="2080.3" y="2598.3" width="109.5" height="7.8" fill="#ff0000"/><rect x="2080.3" y="2605.3" width="109.5" height="7.8" fill="#ff0000"/><rect x="2080.3" y="2612.3" width="109.5" height="7.8" fill="#ff0000"/><rect x="2080.3" y="2619.3" width="109.5" height="7.8" fill="#ff0000"/><rect x="2080.3" y="2626.2" width="109.5" height="7.8" fill="#ff0000"/><rect x="2080.3" y="2633.2" width="109.5" height="7.8" fill="#ff0000"/><rect x="2080.3" y="2640.2" width="109.5" height="7.8" fill="#ff0500"/><rect x="2080.3" y="2647.2" width="109.5" height="7.8" fill="#ff0e00"/><rect x="2080.3" y="2654.2" width="109.5" height="7.8" fill="#ff1700"/><rect x="2080.3" y="2661.2" width="109.5" height="7.8" fill="#ff2000"/><rect x="2080.3" y="2668.2" width="109.5" height="7.8" fill="#ff2900"/><rect x="2080.3" y="2675.2" width="109.5" height="7.8" fill="#ff3200"/><rect x="2080.3" y="2682.2" width="109.5" height="7.8" fill="#ff3b00"/><rect x="2080.3" y="2689.1" width="109.5" height="7.8" fill="#ff4400"/><rect x="2080.3" y="2696.1" width="109.5" height="7.8" fill="#ff4d00"/><rect x="2080.3" y="2703.1" width="109.5" height="7.8" fill="#ff5600"/><rect x="2080.3" y="2710.1" width="109.5" height="7.8" fill="#ff5f00"/><rect x="2080.3" y="2717.1" width="109.5" height="7.8" fill="#ff6800"/><rect x="2080.3" y="2724.1" width="109.5" height="7.8" fill="#ff7200"/><rect x="2080.3" y="2731.1" width="109.5" height="7.8" fill="#ff7b00"/><rect x="2080.3" y="2738.1" width="109.5" height="7.8" fill="#ff8500"/><rect x="2080.3" y="2745" width="109.5" height="7.8" fill="#ff8e00"/><rect x="2080.3" y="2752" width="109.5" height="7.8" fill="#ff9800"/><rect x="2080.3" y="2759" width="109.5" height="7.8" fill="#ffa200"/><rect x="2080.3" y="2766" width="109.5" height="7.8" fill="#ffac00"/><rect x="2080.3" y="2773" width="109.5" height="7.8" fill="#ffb700"/><rect x="2080.3" y="2780" width="109.5" height="7.8" fill="#ffc200"/><rect x="2080.3" y="2787" width="109.5" height="7.8" fill="#ffcd00"/><rect x="2080.3" y="2793.9" width="109.5" height="7.8" fill="#ffd800"/><rect x="2080.3" y="2800.9" width="109.5" height="7.8" fill="#ffe300"/><rect x="2080.3" y="2807.9" width="109.5" height="7.8" fill="#ffee00"/><rect x="2080.3" y="2814.9" width="109.5" height="7.8" fill="#fff900"/><rect x="2080.3" y="2821.9" width="109.5" height="7.8" fill="#faff00"/><rect x="2080.3" y="2828.9" width="109.5" height="7.8" fill="#f1ff00"/><rect x="2080.3" y="2835.9" width="109.5" height="7.8" fill="#e7ff00"/><rect x="2080.3" y="2842.9" width="109.5" height="7.8" fill="#deff00"/><rect x="2080.3" y="2849.9" width="109.5" height="7.8" fill="#d5ff00"/><rect x="2080.3" y="2856.8" width="109.5" height="7.8" fill="#cbff00"/><rect x="2080.3" y="2863.8" width="109.5" height="7.8" fill="#c2ff00"/><rect x="2080.3" y="2870.8" width="109.5" height="7.8" fill="#b8ff00"/><rect x="2080.3" y="2877.8" width="109.5" height="7.8" fill="#afff00"/><rect x="2080.3" y="2884.8" width="109.5" height="7.8" fill="#a5ff00"/><rect x="2080.3" y="2891.8" width="109.5" height="7.8" fill="#9cff00"/><rect x="2080.3" y="2898.8" width="109.5" height="7.8" fill="#93ff00"/><rect x="2080.3" y="2905.8" width="109.5" height="7.8" fill="#89ff00"/><rect x="2080.3" y="2912.7" width="109.5" height="7.8" fill="#80ff00"/><rect x="2080.3" y="2919.7" width="109.5" height="7.8" fill="#64ff00"/><rect x="2080.3" y="2926.7" width="109.5" height="7.8" fill="#00ff00"/><rect x="2080.3" y="2933.7" width="109.5" height="7.8" fill="#00ff00"/><rect x="2080.3" y="2940.7" width="109.5" height="7.8" fill="#00ff00"/><rect x="2080.3" y="2947.7" width="109.5" height="7.8" fill="#00ff00"/><rect x="2080.3" y="2954.7" width="109.5" height="7.8" fill="#00ff00"/><rect x="2080.3" y="2961.7" width="109.5" height="7.8" fill="#00ff00"/><rect x="2080.3" y="2968.6" width="109.5" height="7.8" fill="#00ff00"/><rect x="2080.3" y="2975.6" width="109.5" height="7.8" fill="#00ff00"/><rect x="2080.3" y="2982.6" width="109.5" height="7.8" fill="#00ff00"/><rect x="2080.3" y="2989.6" width="109.5" height="7.8" fill="#00ff00"/><rect x="2080.3" y="2996.6" width="109.5" height="7.8" fill="#00ff00"/><rect x="2080.3" y="3003.6" width="109.5" height="7.8" fill="#00ff00"/><rect x="2080.3" y="3010.6" width="109.5" height="7.8" fill="#00ff00"/><rect x="2080.3" y="3017.6" width="109.5" height="7.8" fill="#00ff00"/><rect x="2080.3" y="3024.5" width="109.5" height="7.8" fill="#00ff00"/><rect x="2080.3" y="3031.5" width="109.5" height="7.8" fill="#00ff49"/><rect x="2080.3" y="3038.5" width="109.5" height="7.8" fill="#00ff7e"/><rect x="2080.3" y="3045.5" width="109.5" height="7.8" fill="#00ff98"/><rect x="2080.3" y="3052.5" width="109.5" height="7.8" fill="#00ffb2"/><rect x="2080.3" y="3059.5" width="109.5" height="7.8" fill="#00ffcd"/><rect x="2080.3" y="3066.5" width="109.5" height="7.8" fill="#00ffe7"/><rect x="2080.3" y="3073.4" width="109.5" height="7.8" fill="#00feff"/><rect x="2080.3" y="3080.4" width="109.5" height="7.8" fill="#00f4ff"/><rect x="2080.3" y="3087.4" width="109.5" height="7.8" fill="#00eaff"/><rect x="2080.3" y="3094.4" width="109.5" height="7.8" fill="#00e1ff"/><rect x="2080.3" y="3101.4" width="109.5" height="7.8" fill="#00d7ff"/><rect x="2080.3" y="3108.4" width="109.5" height="7.8" fill="#00cdff"/><rect x="2080.3" y="3115.4" width="109.5" height="7.8" fill="#00c3ff"/><rect x="2080.3" y="3122.4" width="109.5" height="7.8" fill="#00b9ff"/><rect x="2080.3" y="3129.4" width="109.5" height="7.8" fill="#00afff"/><rect x="2080.3" y="3136.3" width="109.5" height="7.8" fill="#00a5ff"/><rect x="2080.3" y="3143.3" width="109.5" height="7.8" fill="#009bff"/><rect x="2080.3" y="3150.3" width="109.5" height="7.8" fill="#0091ff"/><rect x="2080.3" y="3157.3" width="109.5" height="7.8" fill="#0083ff"/><rect x="2080.3" y="3164.3" width="109.5" height="7.8" fill="#0072ff"/><rect x="2080.3" y="3171.3" width="109.5" height="7.8" fill="#0061ff"/><rect x="2080.3" y="3178.3" width="109.5" height="7.8" fill="#0050ff"/><rect x="2080.3" y="3185.2" width="109.5" height="7.8" fill="#003fff"/><rect x="2080.3" y="3192.2" width="109.5" height="7.8" fill="#002eff"/><rect x="2080.3" y="3199.2" width="109.5" height="7.8" fill="#001dff"/><rect x="2080.3" y="3206.2" width="109.5" height="7.8" fill="#000cff"/><rect x="2080.3" y="3213.2" width="109.5" height="7.8" fill="#0500ff"/><rect x="2080.3" y="3220.2" width="109.5" height="7.8" fill="#1700ff"/><rect x="2080.3" y="3227.2" width="109.5" height="7.8" fill="#2900ff"/><rect x="2080.3" y="3234.2" width="109.5" height="7.8" fill="#3a00ff"/><rect x="2080.3" y="3241.2" width="109.5" height="7.8" fill="#4c00ff"/><rect x="2080.3" y="3248.1" width="109.5" height="7.8" fill="#5e00ff"/><rect x="2080.3" y="3255.1" width="109.5" height="7.8" fill="#6f00ff"/><rect x="2080.3" y="3262.1" width="109.5" height="7.8" fill="#8100ff"/><rect x="2080.3" y="3269.1" width="109.5" height="7.8" fill="#8c00fd"/><rect x="2080.3" y="3276.1" width="109.5" height="7.8" fill="#9000f8"/><rect x="2080.3" y="3283.1" width="109.5" height="7.8" fill="#9400f3"/><rect x="2080.3" y="3290.1" width="109.5" height="7.8" fill="#9900ee"/><rect x="2080.3" y="3297.1" width="109.5" height="7.8" fill="#9d00e9"/><rect x="2080.3" y="3304" width="109.5" height="7.8" fill="#9e00e3"/><rect x="2080.3" y="3311" width="109.5" height="7.8" fill="#9f00dc"/><rect x="2080.3" y="3318" width="109.5" height="7.8" fill="#9f00d5"/><rect x="2080.3" y="3325" width="109.5" height="7.8" fill="#a000cd"/><rect x="2080.3" y="3332" width="109.5" height="7.8" fill="#9f00c5"/><rect x="2080.3" y="3339" width="109.5" height="7.8" fill="#9b00ba"/><rect x="2080.3" y="3346" width="109.5" height="7.8" fill="#9700ae"/><rect x="2080.3" y="3352.9" width="109.5" height="7.8" fill="#9400a3"/><rect x="2080.3" y="3359.9" width="109.5" height="7.8" fill="#8f0097"/><rect x="2080.3" y="3366.9" width="109.5" height="7.8" fill="#880089"/><rect x="2080.3" y="3373.9" width="109.5" height="7.8" fill="#81007b"/>
<rect x="2080.3" y="3380.9" width="109.5" height="12" fill="#000"/>
<rect x="2080.3" y="2251.4" width="109.5" height="12" fill="#fff"/>
<rect x="2081.3" y="2252.4" width="107.5" height="1139" fill="none" stroke="#1a1a1a" stroke-width="2"/>
<line x1="2189.8" y1="2262.9" x2="2216.3" y2="2262.9" stroke="#333" stroke-width="3"/>
<text x="2233.3" y="2279.4" font-size="46.5" fill="#1a1a1a">0.2850</text>
<line x1="2189.8" y1="2374.7" x2="2216.3" y2="2374.7" stroke="#333" stroke-width="3"/>
<text x="2233.3" y="2391.2" font-size="46.5" fill="#1a1a1a">0.2565</text>
<line x1="2189.8" y1="2486.5" x2="2216.3" y2="2486.5" stroke="#333" stroke-width="3"/>
<text x="2233.3" y="2503" font-size="46.5" fill="#1a1a1a">0.2280</text>
<line x1="2189.8" y1="2598.3" x2="2216.3" y2="2598.3" stroke="#333" stroke-width="3"/>
<text x="2233.3" y="2614.8" font-size="46.5" fill="#1a1a1a">0.1995</text>
<line x1="2189.8" y1="2710.1" x2="2216.3" y2="2710.1" stroke="#333" stroke-width="3"/>
<text x="2233.3" y="2726.6" font-size="46.5" fill="#1a1a1a">0.1710</text>
<line x1="2189.8" y1="2821.9" x2="2216.3" y2="2821.9" stroke="#333" stroke-width="3"/>
<text x="2233.3" y="2838.4" font-size="46.5" fill="#1a1a1a">0.1425</text>
<line x1="2189.8" y1="2933.7" x2="2216.3" y2="2933.7" stroke="#333" stroke-width="3"/>
<text x="2233.3" y="2950.2" font-size="46.5" fill="#1a1a1a">0.1140</text>
<line x1="2189.8" y1="3045.5" x2="2216.3" y2="3045.5" stroke="#333" stroke-width="3"/>
<text x="2233.3" y="3062" font-size="46.5" fill="#1a1a1a">0.08550</text>
<line x1="2189.8" y1="3157.3" x2="2216.3" y2="3157.3" stroke="#333" stroke-width="3"/>
<text x="2233.3" y="3173.8" font-size="46.5" fill="#1a1a1a">0.05700</text>
<line x1="2189.8" y1="3269.1" x2="2216.3" y2="3269.1" stroke="#333" stroke-width="3"/>
<text x="2233.3" y="3285.6" font-size="46.5" fill="#1a1a1a">0.02850</text>
<line x1="2189.8" y1="3380.9" x2="2216.3" y2="3380.9" stroke="#333" stroke-width="3"/>
<text x="2233.3" y="3397.4" font-size="46.5" fill="#1a1a1a">0.000</text>
<text x="2134.8" y="2202.9" font-size="72" text-anchor="middle" class="sf" fill="#111">φ</text>
<text x="1123.5" y="2037" font-size="68" text-anchor="middle" class="sf" fill="#000">(<tspan font-weight="bold">a</tspan>)</text>
<text x="1123.5" y="4184.5" font-size="68" text-anchor="middle" class="sf" fill="#000">(<tspan font-weight="bold">b</tspan>)</text>
</svg>
</body></html>
